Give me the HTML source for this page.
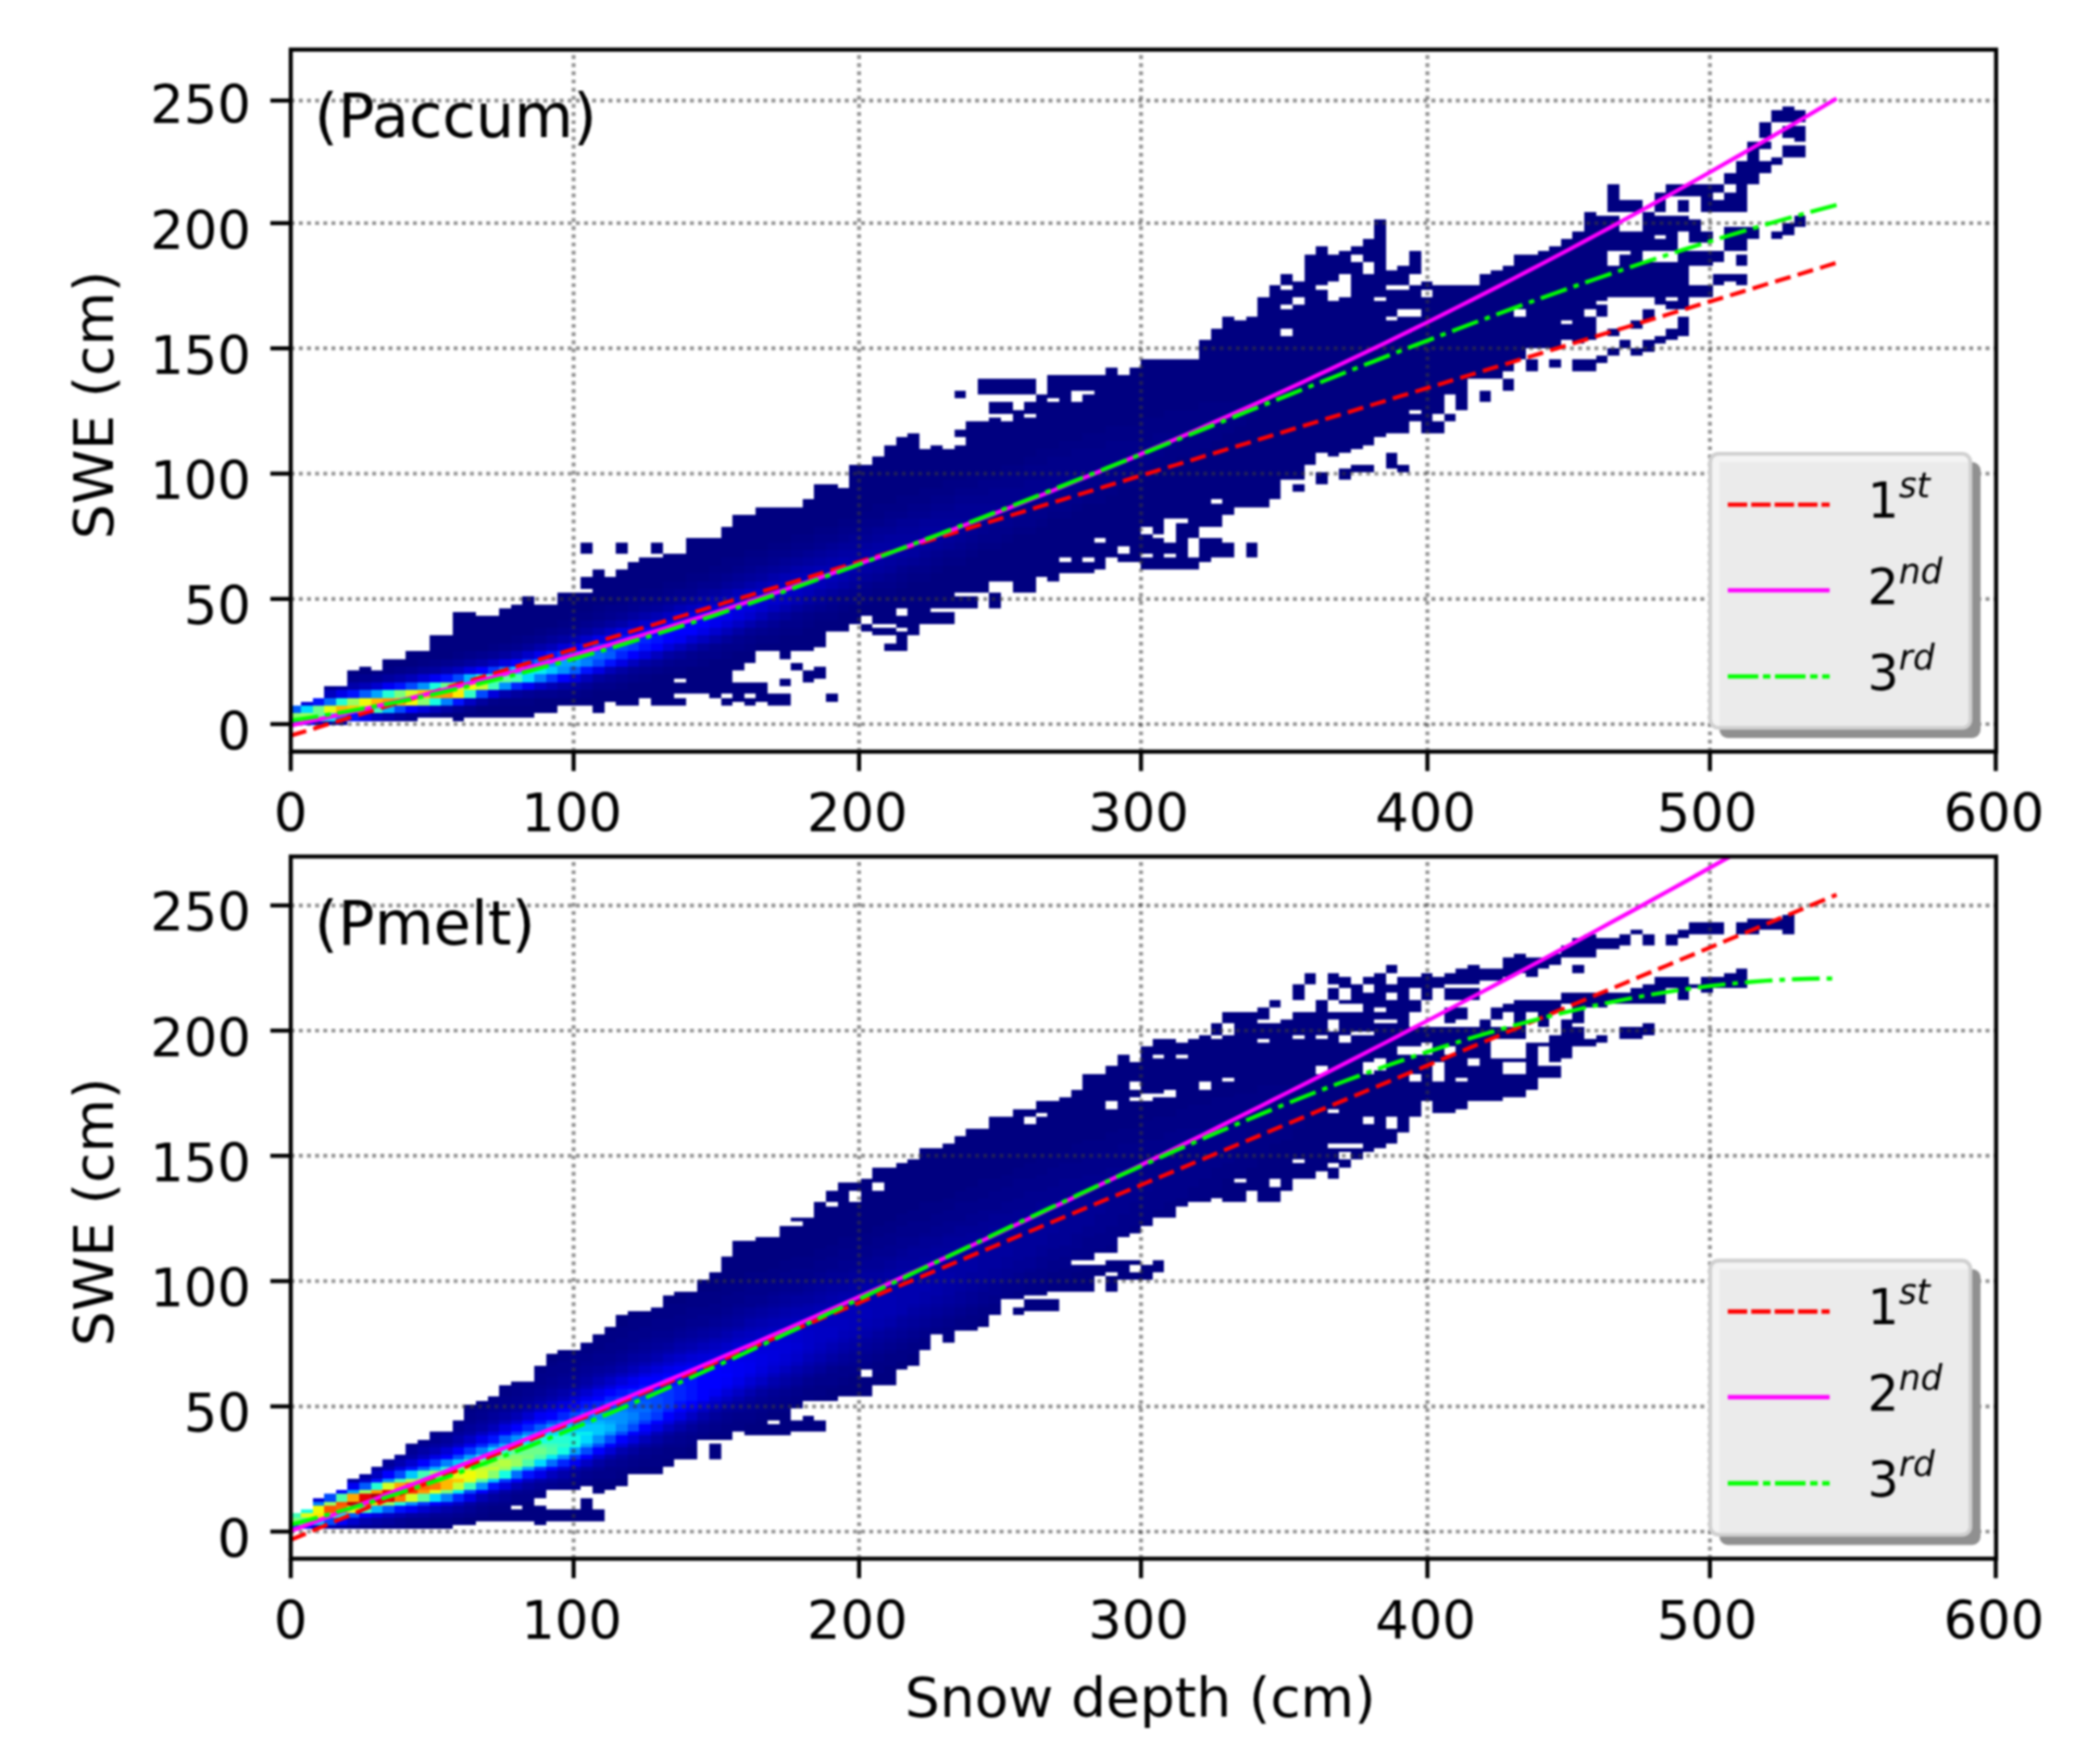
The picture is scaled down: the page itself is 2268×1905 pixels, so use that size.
<!DOCTYPE html>
<html lang="en"><head><meta charset="utf-8"><title>SWE vs snow depth</title>
<style>html,body{margin:0;padding:0;background:#fff}body{width:2268px;height:1905px;overflow:hidden}</style></head>
<body>
<svg width="2268" height="1905" viewBox="0 0 2268 1905" style="display:block;filter:blur(1px)">
<rect width="2268" height="1905" fill="#fff"/>
<defs>
<clipPath id="cp0"><rect x="314.0" y="53.6" width="1841.8" height="758.1"/></clipPath>
<clipPath id="cp1"><rect x="314.0" y="925.0" width="1841.8" height="758.3"/></clipPath>
</defs>
<g font-family="DejaVu Sans, Liberation Sans, sans-serif" fill="#000">
<g clip-path="url(#cp0)" shape-rendering="crispEdges">
<path fill="#000080" d="M314.0 761.95h11.0v21.00h-11.0zM325.0 757.75h12.6v25.20h-12.6zM337.6 753.55h12.6v29.40h-12.6zM350.2 740.95h12.6v42.00h-12.6zM362.8 740.95h12.6v42.00h-12.6zM375.4 724.15h12.6v54.60h-12.6zM388.0 719.95h12.6v58.80h-12.6zM400.6 724.15h12.6v54.60h-12.6zM413.2 711.55h12.6v67.20h-12.6zM425.8 711.55h12.6v67.20h-12.6zM438.4 703.15h12.6v75.60h-12.6zM451.0 703.15h12.6v71.40h-12.6zM463.6 686.35h12.6v88.20h-12.6zM476.2 686.35h12.6v88.20h-12.6zM488.8 661.15h12.6v117.60h-12.6zM501.4 661.15h12.6v113.40h-12.6zM514.0 665.35h12.6v109.20h-12.6zM526.6 665.35h12.6v109.20h-12.6zM539.2 656.95h12.6v117.60h-12.6zM551.8 652.75h12.6v121.80h-12.6zM564.4 644.35h12.6v130.20h-12.6zM577.0 652.75h12.6v117.60h-12.6zM589.6 652.75h12.6v117.60h-12.6zM602.2 640.15h12.6v121.80h-12.6zM614.8 640.15h12.6v121.80h-12.6zM627.4 585.55h12.6v12.60h-12.6zM627.4 623.35h12.6v12.60h-12.6zM627.4 640.15h12.6v121.80h-12.6zM640.0 614.95h12.6v155.40h-12.6zM652.6 623.35h12.6v134.40h-12.6zM665.2 585.55h12.6v12.60h-12.6zM665.2 614.95h12.6v147.00h-12.6zM677.8 606.55h12.6v155.40h-12.6zM690.4 602.35h12.6v151.20h-12.6zM703.0 585.55h12.6v12.60h-12.6zM703.0 602.35h12.6v159.60h-12.6zM715.6 598.15h12.6v163.80h-12.6zM728.2 598.15h12.6v134.40h-12.6zM728.2 736.75h12.6v12.60h-12.6zM728.2 753.55h12.6v8.40h-12.6zM740.8 581.35h12.6v168.00h-12.6zM753.4 581.35h12.6v168.00h-12.6zM766.0 581.35h12.6v172.20h-12.6zM778.6 568.75h12.6v180.60h-12.6zM778.6 753.55h12.6v8.40h-12.6zM791.2 556.15h12.6v168.00h-12.6zM791.2 736.75h12.6v21.00h-12.6zM803.8 556.15h12.6v159.60h-12.6zM803.8 736.75h12.6v12.60h-12.6zM803.8 753.55h12.6v8.40h-12.6zM816.4 547.75h12.6v155.40h-12.6zM816.4 736.75h12.6v21.00h-12.6zM829.0 547.75h12.6v155.40h-12.6zM829.0 749.35h12.6v12.60h-12.6zM841.6 547.75h12.6v163.80h-12.6zM841.6 732.55h12.6v8.40h-12.6zM841.6 749.35h12.6v12.60h-12.6zM854.2 547.75h12.6v155.40h-12.6zM854.2 715.75h12.6v8.40h-12.6zM866.8 539.35h12.6v163.80h-12.6zM866.8 724.15h12.6v12.60h-12.6zM879.4 522.55h12.6v176.40h-12.6zM879.4 719.95h12.6v12.60h-12.6zM892.0 522.55h12.6v159.60h-12.6zM892.0 749.35h12.6v8.40h-12.6zM904.6 526.75h12.6v155.40h-12.6zM917.2 501.55h12.6v172.20h-12.6zM929.8 501.55h12.6v163.80h-12.6zM929.8 673.75h12.6v8.40h-12.6zM942.4 493.15h12.6v180.60h-12.6zM942.4 677.95h12.6v8.40h-12.6zM955.0 480.55h12.6v193.20h-12.6zM955.0 677.95h12.6v8.40h-12.6zM955.0 694.75h12.6v8.40h-12.6zM967.6 472.15h12.6v184.80h-12.6zM967.6 665.35h12.6v12.60h-12.6zM967.6 682.15h12.6v21.00h-12.6zM980.2 467.95h12.6v218.40h-12.6zM992.8 484.75h12.6v189.00h-12.6zM1005.4 480.55h12.6v176.40h-12.6zM1005.4 661.15h12.6v12.60h-12.6zM1018.0 484.75h12.6v172.20h-12.6zM1018.0 661.15h12.6v12.60h-12.6zM1030.6 421.75h12.6v8.40h-12.6zM1030.6 463.75h12.6v8.40h-12.6zM1030.6 480.55h12.6v159.60h-12.6zM1030.6 644.35h12.6v12.60h-12.6zM1043.2 455.35h12.6v184.80h-12.6zM1043.2 644.35h12.6v12.60h-12.6zM1055.8 409.15h12.6v16.80h-12.6zM1055.8 455.35h12.6v184.80h-12.6zM1068.4 409.15h12.6v16.80h-12.6zM1068.4 434.35h12.6v12.60h-12.6zM1068.4 451.15h12.6v176.40h-12.6zM1068.4 640.15h12.6v16.80h-12.6zM1081.0 409.15h12.6v16.80h-12.6zM1081.0 434.35h12.6v12.60h-12.6zM1081.0 455.35h12.6v172.20h-12.6zM1093.6 409.15h12.6v16.80h-12.6zM1093.6 442.75h12.6v197.40h-12.6zM1106.2 409.15h12.6v16.80h-12.6zM1106.2 434.35h12.6v12.60h-12.6zM1106.2 451.15h12.6v189.00h-12.6zM1118.8 425.95h12.6v197.40h-12.6zM1131.4 404.95h12.6v25.20h-12.6zM1131.4 434.35h12.6v193.20h-12.6zM1144.0 404.95h12.6v197.40h-12.6zM1144.0 606.55h12.6v12.60h-12.6zM1156.6 404.95h12.6v16.80h-12.6zM1156.6 434.35h12.6v184.80h-12.6zM1169.2 404.95h12.6v16.80h-12.6zM1169.2 425.95h12.6v176.40h-12.6zM1169.2 606.55h12.6v12.60h-12.6zM1181.8 404.95h12.6v176.40h-12.6zM1181.8 585.55h12.6v29.40h-12.6zM1194.4 396.55h12.6v205.80h-12.6zM1207.0 404.95h12.6v184.80h-12.6zM1207.0 598.15h12.6v8.40h-12.6zM1219.6 396.55h12.6v210.00h-12.6zM1232.2 388.15h12.6v180.60h-12.6zM1232.2 577.15h12.6v21.00h-12.6zM1232.2 602.35h12.6v12.60h-12.6zM1244.8 388.15h12.6v189.00h-12.6zM1244.8 581.35h12.6v33.60h-12.6zM1257.4 388.15h12.6v172.20h-12.6zM1257.4 585.55h12.6v12.60h-12.6zM1257.4 602.35h12.6v12.60h-12.6zM1270.0 388.15h12.6v172.20h-12.6zM1270.0 564.55h12.6v50.40h-12.6zM1282.6 388.15h12.6v193.20h-12.6zM1282.6 602.35h12.6v12.60h-12.6zM1295.2 367.15h12.6v201.60h-12.6zM1295.2 581.35h12.6v25.20h-12.6zM1307.8 354.55h12.6v184.80h-12.6zM1307.8 543.55h12.6v25.20h-12.6zM1307.8 581.35h12.6v21.00h-12.6zM1320.4 341.95h12.6v214.20h-12.6zM1320.4 585.55h12.6v16.80h-12.6zM1333.0 346.15h12.6v201.60h-12.6zM1345.6 341.95h12.6v205.80h-12.6zM1345.6 585.55h12.6v16.80h-12.6zM1358.2 320.95h12.6v226.80h-12.6zM1370.8 308.35h12.6v231.00h-12.6zM1383.4 295.75h12.6v12.60h-12.6zM1383.4 312.55h12.6v16.80h-12.6zM1383.4 333.55h12.6v21.00h-12.6zM1383.4 362.95h12.6v155.40h-12.6zM1396.0 304.15h12.6v16.80h-12.6zM1396.0 329.35h12.6v189.00h-12.6zM1396.0 522.55h12.6v8.40h-12.6zM1408.6 274.75h12.6v226.80h-12.6zM1421.2 266.35h12.6v42.00h-12.6zM1421.2 312.55h12.6v176.40h-12.6zM1421.2 509.95h12.6v12.60h-12.6zM1433.8 274.75h12.6v29.40h-12.6zM1433.8 325.15h12.6v168.00h-12.6zM1446.4 270.55h12.6v25.20h-12.6zM1446.4 320.95h12.6v168.00h-12.6zM1446.4 505.75h12.6v12.60h-12.6zM1459.0 266.35h12.6v8.40h-12.6zM1459.0 283.15h12.6v201.60h-12.6zM1459.0 501.55h12.6v8.40h-12.6zM1471.6 257.95h12.6v25.20h-12.6zM1471.6 295.75h12.6v184.80h-12.6zM1471.6 501.55h12.6v8.40h-12.6zM1484.2 236.95h12.6v84.00h-12.6zM1484.2 325.15h12.6v147.00h-12.6zM1496.8 291.55h12.6v16.80h-12.6zM1496.8 312.55h12.6v29.40h-12.6zM1496.8 346.15h12.6v121.80h-12.6zM1496.8 488.95h12.6v16.80h-12.6zM1509.4 287.35h12.6v21.00h-12.6zM1509.4 312.55h12.6v21.00h-12.6zM1509.4 341.95h12.6v126.00h-12.6zM1509.4 501.55h12.6v8.40h-12.6zM1522.0 270.55h12.6v25.20h-12.6zM1522.0 308.35h12.6v25.20h-12.6zM1522.0 341.95h12.6v100.80h-12.6zM1522.0 446.95h12.6v8.40h-12.6zM1534.6 304.15h12.6v8.40h-12.6zM1534.6 320.95h12.6v147.00h-12.6zM1547.2 308.35h12.6v138.60h-12.6zM1547.2 455.35h12.6v12.60h-12.6zM1559.8 308.35h12.6v117.60h-12.6zM1559.8 446.95h12.6v8.40h-12.6zM1572.4 308.35h12.6v134.40h-12.6zM1585.0 308.35h12.6v100.80h-12.6zM1597.6 295.75h12.6v113.40h-12.6zM1597.6 421.75h12.6v12.60h-12.6zM1610.2 291.55h12.6v117.60h-12.6zM1622.8 287.35h12.6v113.40h-12.6zM1622.8 409.15h12.6v12.60h-12.6zM1635.4 274.75h12.6v58.80h-12.6zM1635.4 341.95h12.6v46.20h-12.6zM1648.0 274.75h12.6v100.80h-12.6zM1648.0 388.15h12.6v12.60h-12.6zM1660.6 270.55h12.6v105.00h-12.6zM1673.2 266.35h12.6v109.20h-12.6zM1673.2 388.15h12.6v8.40h-12.6zM1685.8 257.95h12.6v88.20h-12.6zM1685.8 350.35h12.6v16.80h-12.6zM1698.4 249.55h12.6v121.80h-12.6zM1698.4 388.15h12.6v12.60h-12.6zM1711.0 228.55h12.6v105.00h-12.6zM1711.0 341.95h12.6v25.20h-12.6zM1711.0 388.15h12.6v12.60h-12.6zM1723.6 232.75h12.6v92.40h-12.6zM1723.6 329.35h12.6v12.60h-12.6zM1723.6 383.95h12.6v8.40h-12.6zM1736.2 199.15h12.6v29.40h-12.6zM1736.2 232.75h12.6v37.80h-12.6zM1736.2 287.35h12.6v33.60h-12.6zM1736.2 354.55h12.6v8.40h-12.6zM1736.2 375.55h12.6v8.40h-12.6zM1748.8 215.95h12.6v12.60h-12.6zM1748.8 249.55h12.6v21.00h-12.6zM1748.8 274.75h12.6v46.20h-12.6zM1748.8 367.15h12.6v8.40h-12.6zM1761.4 215.95h12.6v12.60h-12.6zM1761.4 249.55h12.6v71.40h-12.6zM1761.4 346.15h12.6v8.40h-12.6zM1761.4 375.55h12.6v8.40h-12.6zM1774.0 228.55h12.6v42.00h-12.6zM1774.0 283.15h12.6v37.80h-12.6zM1774.0 333.55h12.6v12.60h-12.6zM1774.0 367.15h12.6v12.60h-12.6zM1786.6 207.55h12.6v21.00h-12.6zM1786.6 232.75h12.6v21.00h-12.6zM1786.6 257.95h12.6v12.60h-12.6zM1786.6 283.15h12.6v46.20h-12.6zM1786.6 362.95h12.6v8.40h-12.6zM1799.2 199.15h12.6v12.60h-12.6zM1799.2 232.75h12.6v37.80h-12.6zM1799.2 283.15h12.6v37.80h-12.6zM1799.2 325.15h12.6v8.40h-12.6zM1799.2 354.55h12.6v12.60h-12.6zM1811.8 199.15h12.6v12.60h-12.6zM1811.8 215.95h12.6v12.60h-12.6zM1811.8 232.75h12.6v16.80h-12.6zM1811.8 270.55h12.6v63.00h-12.6zM1811.8 341.95h12.6v21.00h-12.6zM1824.4 199.15h12.6v12.60h-12.6zM1824.4 236.95h12.6v25.20h-12.6zM1824.4 270.55h12.6v16.80h-12.6zM1824.4 308.35h12.6v12.60h-12.6zM1837.0 199.15h12.6v29.40h-12.6zM1837.0 249.55h12.6v12.60h-12.6zM1837.0 270.55h12.6v16.80h-12.6zM1837.0 308.35h12.6v12.60h-12.6zM1849.6 199.15h12.6v8.40h-12.6zM1849.6 215.95h12.6v12.60h-12.6zM1849.6 270.55h12.6v12.60h-12.6zM1849.6 295.75h12.6v12.60h-12.6zM1862.2 186.55h12.6v12.60h-12.6zM1862.2 207.55h12.6v21.00h-12.6zM1862.2 245.35h12.6v25.20h-12.6zM1862.2 295.75h12.6v8.40h-12.6zM1874.8 173.95h12.6v54.60h-12.6zM1874.8 245.35h12.6v25.20h-12.6zM1874.8 274.75h12.6v12.60h-12.6zM1874.8 295.75h12.6v12.60h-12.6zM1887.4 152.95h12.6v46.20h-12.6zM1887.4 245.35h12.6v12.60h-12.6zM1900.0 131.95h12.6v16.80h-12.6zM1900.0 152.95h12.6v8.40h-12.6zM1900.0 173.95h12.6v12.60h-12.6zM1912.6 119.35h12.6v12.60h-12.6zM1912.6 169.75h12.6v8.40h-12.6zM1912.6 249.55h12.6v8.40h-12.6zM1925.2 115.15h12.6v16.80h-12.6zM1925.2 136.15h12.6v12.60h-12.6zM1925.2 157.15h12.6v12.60h-12.6zM1925.2 241.15h12.6v12.60h-12.6zM1937.8 119.35h12.6v12.60h-12.6zM1937.8 136.15h12.6v16.80h-12.6zM1937.8 157.15h12.6v12.60h-12.6zM1937.8 232.75h12.6v12.60h-12.6z"/>
<path fill="#000085" d="M400.6 724.15h12.6v4.20h-12.6zM413.2 719.95h12.6v8.40h-12.6zM451.0 711.55h12.6v8.40h-12.6zM463.6 770.35h12.6v4.20h-12.6zM488.8 703.15h12.6v8.40h-12.6zM526.6 694.75h12.6v8.40h-12.6zM539.2 753.55h12.6v8.40h-12.6zM551.8 686.35h12.6v8.40h-12.6zM551.8 753.55h12.6v8.40h-12.6zM564.4 753.55h12.6v8.40h-12.6zM577.0 677.95h12.6v8.40h-12.6zM602.2 669.55h12.6v8.40h-12.6zM614.8 661.15h12.6v8.40h-12.6zM627.4 661.15h12.6v8.40h-12.6zM627.4 745.15h12.6v8.40h-12.6zM640.0 652.75h12.6v8.40h-12.6zM665.2 644.35h12.6v8.40h-12.6zM665.2 736.75h12.6v8.40h-12.6zM690.4 635.95h12.6v8.40h-12.6zM690.4 728.35h12.6v8.40h-12.6zM703.0 635.95h12.6v8.40h-12.6zM715.6 627.55h12.6v8.40h-12.6zM715.6 719.95h12.6v8.40h-12.6zM728.2 627.55h12.6v8.40h-12.6zM728.2 719.95h12.6v8.40h-12.6zM740.8 619.15h12.6v8.40h-12.6zM753.4 619.15h12.6v8.40h-12.6zM753.4 711.55h12.6v8.40h-12.6zM766.0 610.75h12.6v8.40h-12.6zM778.6 602.35h12.6v8.40h-12.6zM778.6 610.75h12.6v8.40h-12.6zM778.6 703.15h12.6v8.40h-12.6zM791.2 602.35h12.6v8.40h-12.6zM803.8 593.95h12.6v8.40h-12.6zM803.8 694.75h12.6v8.40h-12.6zM816.4 593.95h12.6v8.40h-12.6zM816.4 686.35h12.6v8.40h-12.6zM829.0 585.55h12.6v8.40h-12.6zM829.0 686.35h12.6v8.40h-12.6zM841.6 585.55h12.6v8.40h-12.6zM841.6 677.95h12.6v8.40h-12.6zM854.2 577.15h12.6v8.40h-12.6zM854.2 677.95h12.6v8.40h-12.6zM866.8 577.15h12.6v8.40h-12.6zM866.8 669.55h12.6v8.40h-12.6zM879.4 568.75h12.6v8.40h-12.6zM879.4 661.15h12.6v8.40h-12.6zM892.0 568.75h12.6v8.40h-12.6zM892.0 661.15h12.6v8.40h-12.6zM904.6 560.35h12.6v8.40h-12.6zM904.6 652.75h12.6v8.40h-12.6zM917.2 560.35h12.6v8.40h-12.6zM929.8 551.95h12.6v8.40h-12.6zM929.8 644.35h12.6v8.40h-12.6zM942.4 543.55h12.6v8.40h-12.6zM942.4 551.95h12.6v8.40h-12.6zM942.4 635.95h12.6v8.40h-12.6zM955.0 543.55h12.6v8.40h-12.6zM955.0 635.95h12.6v8.40h-12.6zM967.6 535.15h12.6v8.40h-12.6zM967.6 543.55h12.6v8.40h-12.6zM967.6 627.55h12.6v8.40h-12.6zM980.2 535.15h12.6v8.40h-12.6zM980.2 619.15h12.6v8.40h-12.6zM992.8 526.75h12.6v8.40h-12.6zM992.8 535.15h12.6v8.40h-12.6zM992.8 619.15h12.6v8.40h-12.6zM1005.4 526.75h12.6v8.40h-12.6zM1005.4 610.75h12.6v8.40h-12.6zM1018.0 518.35h12.6v8.40h-12.6zM1018.0 526.75h12.6v8.40h-12.6zM1018.0 602.35h12.6v8.40h-12.6zM1030.6 518.35h12.6v8.40h-12.6zM1030.6 602.35h12.6v8.40h-12.6zM1043.2 509.95h12.6v8.40h-12.6zM1043.2 518.35h12.6v8.40h-12.6zM1043.2 593.95h12.6v8.40h-12.6zM1055.8 509.95h12.6v8.40h-12.6zM1055.8 585.55h12.6v8.40h-12.6zM1068.4 509.95h12.6v8.40h-12.6zM1068.4 585.55h12.6v8.40h-12.6zM1081.0 501.55h12.6v8.40h-12.6zM1081.0 577.15h12.6v8.40h-12.6zM1093.6 501.55h12.6v8.40h-12.6zM1093.6 568.75h12.6v8.40h-12.6zM1106.2 493.15h12.6v8.40h-12.6zM1106.2 568.75h12.6v8.40h-12.6zM1118.8 484.75h12.6v8.40h-12.6zM1118.8 493.15h12.6v8.40h-12.6zM1118.8 560.35h12.6v8.40h-12.6zM1131.4 484.75h12.6v8.40h-12.6zM1131.4 551.95h12.6v8.40h-12.6zM1144.0 476.35h12.6v8.40h-12.6zM1144.0 484.75h12.6v8.40h-12.6zM1144.0 551.95h12.6v8.40h-12.6zM1156.6 476.35h12.6v8.40h-12.6zM1156.6 543.55h12.6v8.40h-12.6zM1169.2 467.95h12.6v8.40h-12.6zM1169.2 476.35h12.6v8.40h-12.6zM1169.2 535.15h12.6v8.40h-12.6zM1181.8 467.95h12.6v8.40h-12.6zM1181.8 476.35h12.6v8.40h-12.6zM1181.8 526.75h12.6v8.40h-12.6zM1181.8 535.15h12.6v8.40h-12.6zM1194.4 459.55h12.6v8.40h-12.6zM1194.4 467.95h12.6v8.40h-12.6zM1194.4 526.75h12.6v8.40h-12.6zM1207.0 459.55h12.6v8.40h-12.6zM1207.0 467.95h12.6v8.40h-12.6zM1207.0 518.35h12.6v8.40h-12.6zM1219.6 459.55h12.6v8.40h-12.6zM1219.6 467.95h12.6v8.40h-12.6zM1219.6 509.95h12.6v8.40h-12.6zM1219.6 518.35h12.6v8.40h-12.6zM1232.2 451.15h12.6v8.40h-12.6zM1232.2 459.55h12.6v8.40h-12.6zM1232.2 467.95h12.6v8.40h-12.6zM1232.2 501.55h12.6v8.40h-12.6zM1232.2 509.95h12.6v8.40h-12.6zM1244.8 451.15h12.6v8.40h-12.6zM1244.8 459.55h12.6v8.40h-12.6zM1244.8 493.15h12.6v8.40h-12.6zM1244.8 501.55h12.6v8.40h-12.6zM1257.4 442.75h12.6v8.40h-12.6zM1257.4 451.15h12.6v8.40h-12.6zM1257.4 459.55h12.6v8.40h-12.6zM1257.4 484.75h12.6v8.40h-12.6zM1257.4 493.15h12.6v8.40h-12.6zM1270.0 442.75h12.6v8.40h-12.6zM1270.0 451.15h12.6v8.40h-12.6zM1270.0 459.55h12.6v8.40h-12.6zM1270.0 467.95h12.6v8.40h-12.6zM1270.0 476.35h12.6v8.40h-12.6zM1270.0 484.75h12.6v8.40h-12.6zM1282.6 442.75h12.6v8.40h-12.6zM1282.6 451.15h12.6v8.40h-12.6zM1282.6 459.55h12.6v8.40h-12.6zM1282.6 467.95h12.6v8.40h-12.6zM1282.6 476.35h12.6v8.40h-12.6zM1282.6 484.75h12.6v8.40h-12.6zM1295.2 434.35h12.6v8.40h-12.6zM1295.2 442.75h12.6v8.40h-12.6zM1295.2 451.15h12.6v8.40h-12.6zM1295.2 459.55h12.6v8.40h-12.6zM1295.2 467.95h12.6v8.40h-12.6zM1295.2 476.35h12.6v8.40h-12.6zM1307.8 434.35h12.6v8.40h-12.6zM1307.8 442.75h12.6v8.40h-12.6zM1307.8 451.15h12.6v8.40h-12.6zM1307.8 459.55h12.6v8.40h-12.6zM1307.8 467.95h12.6v8.40h-12.6zM1320.4 434.35h12.6v8.40h-12.6zM1320.4 442.75h12.6v8.40h-12.6zM1320.4 451.15h12.6v8.40h-12.6zM1320.4 459.55h12.6v8.40h-12.6zM1333.0 434.35h12.6v8.40h-12.6zM1333.0 442.75h12.6v8.40h-12.6zM1333.0 451.15h12.6v8.40h-12.6zM1345.6 434.35h12.6v8.40h-12.6zM1345.6 442.75h12.6v8.40h-12.6z"/>
<path fill="#00008a" d="M375.4 728.35h12.6v8.40h-12.6zM425.8 719.95h12.6v8.40h-12.6zM451.0 770.35h12.6v4.20h-12.6zM463.6 711.55h12.6v8.40h-12.6zM501.4 703.15h12.6v8.40h-12.6zM501.4 761.95h12.6v8.40h-12.6zM526.6 753.55h12.6v8.40h-12.6zM539.2 694.75h12.6v8.40h-12.6zM564.4 686.35h12.6v8.40h-12.6zM589.6 677.95h12.6v8.40h-12.6zM602.2 745.15h12.6v8.40h-12.6zM614.8 669.55h12.6v8.40h-12.6zM614.8 745.15h12.6v8.40h-12.6zM640.0 661.15h12.6v8.40h-12.6zM640.0 736.75h12.6v8.40h-12.6zM652.6 652.75h12.6v8.40h-12.6zM652.6 736.75h12.6v8.40h-12.6zM665.2 652.75h12.6v8.40h-12.6zM677.8 644.35h12.6v8.40h-12.6zM677.8 728.35h12.6v8.40h-12.6zM690.4 644.35h12.6v8.40h-12.6zM703.0 719.95h12.6v8.40h-12.6zM715.6 635.95h12.6v8.40h-12.6zM728.2 711.55h12.6v8.40h-12.6zM740.8 627.55h12.6v8.40h-12.6zM740.8 711.55h12.6v8.40h-12.6zM753.4 703.15h12.6v8.40h-12.6zM766.0 619.15h12.6v8.40h-12.6zM766.0 703.15h12.6v8.40h-12.6zM778.6 694.75h12.6v8.40h-12.6zM791.2 610.75h12.6v8.40h-12.6zM791.2 694.75h12.6v8.40h-12.6zM803.8 602.35h12.6v8.40h-12.6zM803.8 686.35h12.6v8.40h-12.6zM816.4 602.35h12.6v8.40h-12.6zM829.0 593.95h12.6v8.40h-12.6zM829.0 677.95h12.6v8.40h-12.6zM841.6 593.95h12.6v8.40h-12.6zM841.6 669.55h12.6v8.40h-12.6zM854.2 585.55h12.6v8.40h-12.6zM854.2 669.55h12.6v8.40h-12.6zM866.8 585.55h12.6v8.40h-12.6zM866.8 661.15h12.6v8.40h-12.6zM879.4 577.15h12.6v8.40h-12.6zM892.0 577.15h12.6v8.40h-12.6zM892.0 652.75h12.6v8.40h-12.6zM904.6 568.75h12.6v8.40h-12.6zM904.6 644.35h12.6v8.40h-12.6zM917.2 568.75h12.6v8.40h-12.6zM917.2 644.35h12.6v8.40h-12.6zM929.8 560.35h12.6v8.40h-12.6zM929.8 635.95h12.6v8.40h-12.6zM942.4 560.35h12.6v8.40h-12.6zM942.4 627.55h12.6v8.40h-12.6zM955.0 551.95h12.6v8.40h-12.6zM955.0 627.55h12.6v8.40h-12.6zM967.6 551.95h12.6v8.40h-12.6zM967.6 619.15h12.6v8.40h-12.6zM980.2 543.55h12.6v8.40h-12.6zM980.2 610.75h12.6v8.40h-12.6zM992.8 543.55h12.6v8.40h-12.6zM992.8 610.75h12.6v8.40h-12.6zM1005.4 535.15h12.6v8.40h-12.6zM1005.4 602.35h12.6v8.40h-12.6zM1018.0 535.15h12.6v8.40h-12.6zM1018.0 593.95h12.6v8.40h-12.6zM1030.6 526.75h12.6v8.40h-12.6zM1030.6 593.95h12.6v8.40h-12.6zM1043.2 526.75h12.6v8.40h-12.6zM1043.2 585.55h12.6v8.40h-12.6zM1055.8 518.35h12.6v8.40h-12.6zM1055.8 526.75h12.6v8.40h-12.6zM1055.8 577.15h12.6v8.40h-12.6zM1068.4 518.35h12.6v8.40h-12.6zM1068.4 568.75h12.6v8.40h-12.6zM1068.4 577.15h12.6v8.40h-12.6zM1081.0 509.95h12.6v8.40h-12.6zM1081.0 518.35h12.6v8.40h-12.6zM1081.0 568.75h12.6v8.40h-12.6zM1093.6 509.95h12.6v8.40h-12.6zM1093.6 518.35h12.6v8.40h-12.6zM1093.6 560.35h12.6v8.40h-12.6zM1106.2 501.55h12.6v8.40h-12.6zM1106.2 509.95h12.6v8.40h-12.6zM1106.2 551.95h12.6v8.40h-12.6zM1106.2 560.35h12.6v8.40h-12.6zM1118.8 501.55h12.6v8.40h-12.6zM1118.8 509.95h12.6v8.40h-12.6zM1118.8 543.55h12.6v8.40h-12.6zM1118.8 551.95h12.6v8.40h-12.6zM1131.4 493.15h12.6v8.40h-12.6zM1131.4 501.55h12.6v8.40h-12.6zM1131.4 543.55h12.6v8.40h-12.6zM1144.0 493.15h12.6v8.40h-12.6zM1144.0 501.55h12.6v8.40h-12.6zM1144.0 535.15h12.6v8.40h-12.6zM1144.0 543.55h12.6v8.40h-12.6zM1156.6 484.75h12.6v8.40h-12.6zM1156.6 493.15h12.6v8.40h-12.6zM1156.6 501.55h12.6v8.40h-12.6zM1156.6 526.75h12.6v8.40h-12.6zM1156.6 535.15h12.6v8.40h-12.6zM1169.2 484.75h12.6v8.40h-12.6zM1169.2 493.15h12.6v8.40h-12.6zM1169.2 501.55h12.6v8.40h-12.6zM1169.2 509.95h12.6v8.40h-12.6zM1169.2 518.35h12.6v8.40h-12.6zM1169.2 526.75h12.6v8.40h-12.6zM1181.8 484.75h12.6v8.40h-12.6zM1181.8 493.15h12.6v8.40h-12.6zM1181.8 501.55h12.6v8.40h-12.6zM1181.8 509.95h12.6v8.40h-12.6zM1181.8 518.35h12.6v8.40h-12.6zM1194.4 476.35h12.6v8.40h-12.6zM1194.4 484.75h12.6v8.40h-12.6zM1194.4 493.15h12.6v8.40h-12.6zM1194.4 501.55h12.6v8.40h-12.6zM1194.4 509.95h12.6v8.40h-12.6zM1194.4 518.35h12.6v8.40h-12.6zM1207.0 476.35h12.6v8.40h-12.6zM1207.0 484.75h12.6v8.40h-12.6zM1207.0 493.15h12.6v8.40h-12.6zM1207.0 501.55h12.6v8.40h-12.6zM1207.0 509.95h12.6v8.40h-12.6zM1219.6 476.35h12.6v8.40h-12.6zM1219.6 484.75h12.6v8.40h-12.6zM1219.6 493.15h12.6v8.40h-12.6zM1219.6 501.55h12.6v8.40h-12.6zM1232.2 476.35h12.6v8.40h-12.6zM1232.2 484.75h12.6v8.40h-12.6zM1232.2 493.15h12.6v8.40h-12.6zM1244.8 467.95h12.6v8.40h-12.6zM1244.8 476.35h12.6v8.40h-12.6zM1244.8 484.75h12.6v8.40h-12.6zM1257.4 467.95h12.6v8.40h-12.6zM1257.4 476.35h12.6v8.40h-12.6z"/>
<path fill="#00008f" d="M350.2 740.95h12.6v4.20h-12.6zM388.0 728.35h12.6v8.40h-12.6zM438.4 719.95h12.6v8.40h-12.6zM438.4 770.35h12.6v8.40h-12.6zM476.2 711.55h12.6v8.40h-12.6zM514.0 703.15h12.6v8.40h-12.6zM551.8 694.75h12.6v8.40h-12.6zM577.0 686.35h12.6v8.40h-12.6zM577.0 745.15h12.6v8.40h-12.6zM589.6 745.15h12.6v8.40h-12.6zM602.2 677.95h12.6v8.40h-12.6zM627.4 669.55h12.6v8.40h-12.6zM652.6 661.15h12.6v8.40h-12.6zM665.2 728.35h12.6v8.40h-12.6zM677.8 652.75h12.6v8.40h-12.6zM690.4 719.95h12.6v8.40h-12.6zM703.0 644.35h12.6v8.40h-12.6zM715.6 711.55h12.6v8.40h-12.6zM728.2 635.95h12.6v8.40h-12.6zM740.8 635.95h12.6v8.40h-12.6zM740.8 703.15h12.6v8.40h-12.6zM753.4 627.55h12.6v8.40h-12.6zM766.0 627.55h12.6v8.40h-12.6zM766.0 694.75h12.6v8.40h-12.6zM778.6 619.15h12.6v8.40h-12.6zM791.2 686.35h12.6v8.40h-12.6zM803.8 610.75h12.6v8.40h-12.6zM816.4 677.95h12.6v8.40h-12.6zM829.0 602.35h12.6v8.40h-12.6zM854.2 593.95h12.6v8.40h-12.6zM854.2 661.15h12.6v8.40h-12.6zM879.4 585.55h12.6v8.40h-12.6zM879.4 652.75h12.6v8.40h-12.6zM892.0 644.35h12.6v8.40h-12.6zM904.6 577.15h12.6v8.40h-12.6zM917.2 635.95h12.6v8.40h-12.6zM929.8 568.75h12.6v8.40h-12.6zM929.8 627.55h12.6v8.40h-12.6zM955.0 560.35h12.6v8.40h-12.6zM955.0 619.15h12.6v8.40h-12.6zM967.6 610.75h12.6v8.40h-12.6zM980.2 551.95h12.6v8.40h-12.6zM992.8 551.95h12.6v8.40h-12.6zM992.8 602.35h12.6v8.40h-12.6zM1005.4 543.55h12.6v8.40h-12.6zM1005.4 593.95h12.6v8.40h-12.6zM1018.0 543.55h12.6v8.40h-12.6zM1030.6 535.15h12.6v8.40h-12.6zM1030.6 585.55h12.6v8.40h-12.6zM1043.2 535.15h12.6v8.40h-12.6zM1043.2 577.15h12.6v8.40h-12.6zM1055.8 535.15h12.6v8.40h-12.6zM1055.8 568.75h12.6v8.40h-12.6zM1068.4 526.75h12.6v8.40h-12.6zM1068.4 535.15h12.6v8.40h-12.6zM1068.4 560.35h12.6v8.40h-12.6zM1081.0 526.75h12.6v8.40h-12.6zM1081.0 535.15h12.6v8.40h-12.6zM1081.0 543.55h12.6v8.40h-12.6zM1081.0 551.95h12.6v8.40h-12.6zM1081.0 560.35h12.6v8.40h-12.6zM1093.6 526.75h12.6v8.40h-12.6zM1093.6 535.15h12.6v8.40h-12.6zM1093.6 543.55h12.6v8.40h-12.6zM1093.6 551.95h12.6v8.40h-12.6zM1106.2 518.35h12.6v8.40h-12.6zM1106.2 526.75h12.6v8.40h-12.6zM1106.2 535.15h12.6v8.40h-12.6zM1106.2 543.55h12.6v8.40h-12.6zM1118.8 518.35h12.6v8.40h-12.6zM1118.8 526.75h12.6v8.40h-12.6zM1118.8 535.15h12.6v8.40h-12.6zM1131.4 509.95h12.6v8.40h-12.6zM1131.4 518.35h12.6v8.40h-12.6zM1131.4 526.75h12.6v8.40h-12.6zM1131.4 535.15h12.6v8.40h-12.6zM1144.0 509.95h12.6v8.40h-12.6zM1144.0 518.35h12.6v8.40h-12.6zM1144.0 526.75h12.6v8.40h-12.6zM1156.6 509.95h12.6v8.40h-12.6zM1156.6 518.35h12.6v8.40h-12.6z"/>
<path fill="#000095" d="M400.6 728.35h12.6v8.40h-12.6zM488.8 711.55h12.6v8.40h-12.6zM488.8 761.95h12.6v8.40h-12.6zM526.6 703.15h12.6v8.40h-12.6zM564.4 745.15h12.6v8.40h-12.6zM614.8 677.95h12.6v8.40h-12.6zM627.4 736.75h12.6v8.40h-12.6zM640.0 669.55h12.6v8.40h-12.6zM652.6 728.35h12.6v8.40h-12.6zM665.2 661.15h12.6v8.40h-12.6zM677.8 719.95h12.6v8.40h-12.6zM690.4 652.75h12.6v8.40h-12.6zM715.6 644.35h12.6v8.40h-12.6zM791.2 619.15h12.6v8.40h-12.6zM803.8 677.95h12.6v8.40h-12.6zM816.4 610.75h12.6v8.40h-12.6zM829.0 669.55h12.6v8.40h-12.6zM841.6 602.35h12.6v8.40h-12.6zM866.8 593.95h12.6v8.40h-12.6zM866.8 652.75h12.6v8.40h-12.6zM892.0 585.55h12.6v8.40h-12.6zM904.6 635.95h12.6v8.40h-12.6zM917.2 577.15h12.6v8.40h-12.6zM929.8 577.15h12.6v8.40h-12.6zM942.4 568.75h12.6v8.40h-12.6zM942.4 619.15h12.6v8.40h-12.6zM955.0 568.75h12.6v8.40h-12.6zM967.6 560.35h12.6v8.40h-12.6zM980.2 560.35h12.6v8.40h-12.6zM980.2 602.35h12.6v8.40h-12.6zM992.8 593.95h12.6v8.40h-12.6zM1005.4 551.95h12.6v8.40h-12.6zM1018.0 551.95h12.6v8.40h-12.6zM1018.0 585.55h12.6v8.40h-12.6zM1030.6 543.55h12.6v8.40h-12.6zM1030.6 551.95h12.6v8.40h-12.6zM1030.6 577.15h12.6v8.40h-12.6zM1043.2 543.55h12.6v8.40h-12.6zM1043.2 551.95h12.6v8.40h-12.6zM1043.2 568.75h12.6v8.40h-12.6zM1055.8 543.55h12.6v8.40h-12.6zM1055.8 551.95h12.6v8.40h-12.6zM1055.8 560.35h12.6v8.40h-12.6zM1068.4 543.55h12.6v8.40h-12.6zM1068.4 551.95h12.6v8.40h-12.6z"/>
<path fill="#00009a" d="M362.8 740.95h12.6v4.20h-12.6zM425.8 770.35h12.6v8.40h-12.6zM451.0 719.95h12.6v8.40h-12.6zM564.4 694.75h12.6v8.40h-12.6zM589.6 686.35h12.6v8.40h-12.6zM703.0 652.75h12.6v8.40h-12.6zM703.0 711.55h12.6v8.40h-12.6zM728.2 644.35h12.6v8.40h-12.6zM728.2 703.15h12.6v8.40h-12.6zM753.4 635.95h12.6v8.40h-12.6zM753.4 694.75h12.6v8.40h-12.6zM778.6 627.55h12.6v8.40h-12.6zM778.6 686.35h12.6v8.40h-12.6zM803.8 619.15h12.6v8.40h-12.6zM829.0 610.75h12.6v8.40h-12.6zM841.6 661.15h12.6v8.40h-12.6zM854.2 602.35h12.6v8.40h-12.6zM879.4 593.95h12.6v8.40h-12.6zM879.4 644.35h12.6v8.40h-12.6zM904.6 585.55h12.6v8.40h-12.6zM917.2 585.55h12.6v8.40h-12.6zM917.2 627.55h12.6v8.40h-12.6zM929.8 619.15h12.6v8.40h-12.6zM942.4 577.15h12.6v8.40h-12.6zM955.0 610.75h12.6v8.40h-12.6zM967.6 568.75h12.6v8.40h-12.6zM967.6 602.35h12.6v8.40h-12.6zM980.2 568.75h12.6v8.40h-12.6zM992.8 560.35h12.6v8.40h-12.6zM1005.4 560.35h12.6v8.40h-12.6zM1005.4 585.55h12.6v8.40h-12.6zM1018.0 560.35h12.6v8.40h-12.6zM1018.0 568.75h12.6v8.40h-12.6zM1018.0 577.15h12.6v8.40h-12.6zM1030.6 560.35h12.6v8.40h-12.6zM1030.6 568.75h12.6v8.40h-12.6zM1043.2 560.35h12.6v8.40h-12.6z"/>
<path fill="#00009f" d="M362.8 778.75h12.6v4.20h-12.6zM413.2 728.35h12.6v8.40h-12.6zM463.6 719.95h12.6v8.40h-12.6zM501.4 711.55h12.6v8.40h-12.6zM514.0 753.55h12.6v8.40h-12.6zM539.2 703.15h12.6v8.40h-12.6zM551.8 745.15h12.6v8.40h-12.6zM614.8 736.75h12.6v8.40h-12.6zM627.4 677.95h12.6v8.40h-12.6zM640.0 728.35h12.6v8.40h-12.6zM652.6 669.55h12.6v8.40h-12.6zM677.8 661.15h12.6v8.40h-12.6zM766.0 635.95h12.6v8.40h-12.6zM791.2 627.55h12.6v8.40h-12.6zM816.4 619.15h12.6v8.40h-12.6zM816.4 669.55h12.6v8.40h-12.6zM841.6 610.75h12.6v8.40h-12.6zM854.2 652.75h12.6v8.40h-12.6zM866.8 602.35h12.6v8.40h-12.6zM892.0 593.95h12.6v8.40h-12.6zM892.0 635.95h12.6v8.40h-12.6zM929.8 585.55h12.6v8.40h-12.6zM942.4 610.75h12.6v8.40h-12.6zM955.0 577.15h12.6v8.40h-12.6zM955.0 602.35h12.6v8.40h-12.6zM967.6 577.15h12.6v8.40h-12.6zM980.2 577.15h12.6v8.40h-12.6zM980.2 585.55h12.6v8.40h-12.6zM980.2 593.95h12.6v8.40h-12.6zM992.8 568.75h12.6v8.40h-12.6zM992.8 577.15h12.6v8.40h-12.6zM992.8 585.55h12.6v8.40h-12.6zM1005.4 568.75h12.6v8.40h-12.6zM1005.4 577.15h12.6v8.40h-12.6z"/>
<path fill="#0000a4" d="M476.2 761.95h12.6v8.40h-12.6zM602.2 686.35h12.6v8.40h-12.6zM602.2 736.75h12.6v8.40h-12.6zM665.2 719.95h12.6v8.40h-12.6zM690.4 711.55h12.6v8.40h-12.6zM715.6 652.75h12.6v8.40h-12.6zM715.6 703.15h12.6v8.40h-12.6zM740.8 644.35h12.6v8.40h-12.6zM791.2 677.95h12.6v8.40h-12.6zM829.0 661.15h12.6v8.40h-12.6zM866.8 644.35h12.6v8.40h-12.6zM879.4 602.35h12.6v8.40h-12.6zM904.6 593.95h12.6v8.40h-12.6zM904.6 627.55h12.6v8.40h-12.6zM917.2 593.95h12.6v8.40h-12.6zM917.2 619.15h12.6v8.40h-12.6zM929.8 610.75h12.6v8.40h-12.6zM942.4 585.55h12.6v8.40h-12.6zM942.4 602.35h12.6v8.40h-12.6zM955.0 585.55h12.6v8.40h-12.6zM955.0 593.95h12.6v8.40h-12.6zM967.6 585.55h12.6v8.40h-12.6zM967.6 593.95h12.6v8.40h-12.6z"/>
<path fill="#0000aa" d="M375.4 736.75h12.6v8.40h-12.6zM413.2 770.35h12.6v8.40h-12.6zM425.8 728.35h12.6v8.40h-12.6zM514.0 711.55h12.6v8.40h-12.6zM577.0 694.75h12.6v8.40h-12.6zM665.2 669.55h12.6v8.40h-12.6zM690.4 661.15h12.6v8.40h-12.6zM740.8 694.75h12.6v8.40h-12.6zM766.0 686.35h12.6v8.40h-12.6zM778.6 635.95h12.6v8.40h-12.6zM803.8 627.55h12.6v8.40h-12.6zM829.0 619.15h12.6v8.40h-12.6zM854.2 610.75h12.6v8.40h-12.6zM879.4 635.95h12.6v8.40h-12.6zM892.0 602.35h12.6v8.40h-12.6zM917.2 602.35h12.6v8.40h-12.6zM929.8 593.95h12.6v8.40h-12.6zM929.8 602.35h12.6v8.40h-12.6zM942.4 593.95h12.6v8.40h-12.6z"/>
<path fill="#0000af" d="M476.2 719.95h12.6v8.40h-12.6zM539.2 745.15h12.6v8.40h-12.6zM551.8 703.15h12.6v8.40h-12.6zM640.0 677.95h12.6v8.40h-12.6zM753.4 644.35h12.6v8.40h-12.6zM803.8 669.55h12.6v8.40h-12.6zM841.6 652.75h12.6v8.40h-12.6zM866.8 610.75h12.6v8.40h-12.6zM892.0 627.55h12.6v8.40h-12.6zM904.6 602.35h12.6v8.40h-12.6zM904.6 619.15h12.6v8.40h-12.6zM917.2 610.75h12.6v8.40h-12.6z"/>
<path fill="#0000b4" d="M350.2 778.75h12.6v4.20h-12.6zM589.6 736.75h12.6v8.40h-12.6zM614.8 686.35h12.6v8.40h-12.6zM703.0 661.15h12.6v8.40h-12.6zM728.2 652.75h12.6v8.40h-12.6zM816.4 627.55h12.6v8.40h-12.6zM841.6 619.15h12.6v8.40h-12.6zM854.2 644.35h12.6v8.40h-12.6zM879.4 610.75h12.6v8.40h-12.6zM892.0 610.75h12.6v8.40h-12.6zM904.6 610.75h12.6v8.40h-12.6z"/>
<path fill="#0000b9" d="M388.0 736.75h12.6v8.40h-12.6zM438.4 728.35h12.6v8.40h-12.6zM463.6 761.95h12.6v8.40h-12.6zM589.6 694.75h12.6v8.40h-12.6zM627.4 728.35h12.6v8.40h-12.6zM652.6 719.95h12.6v8.40h-12.6zM766.0 644.35h12.6v8.40h-12.6zM778.6 677.95h12.6v8.40h-12.6zM791.2 635.95h12.6v8.40h-12.6zM816.4 661.15h12.6v8.40h-12.6zM854.2 619.15h12.6v8.40h-12.6zM866.8 635.95h12.6v8.40h-12.6zM879.4 619.15h12.6v8.40h-12.6zM879.4 627.55h12.6v8.40h-12.6zM892.0 619.15h12.6v8.40h-12.6z"/>
<path fill="#0000bf" d="M350.2 745.15h12.6v8.40h-12.6zM400.6 770.35h12.6v8.40h-12.6zM488.8 719.95h12.6v8.40h-12.6zM526.6 711.55h12.6v8.40h-12.6zM677.8 669.55h12.6v8.40h-12.6zM677.8 711.55h12.6v8.40h-12.6zM703.0 703.15h12.6v8.40h-12.6zM728.2 694.75h12.6v8.40h-12.6zM740.8 652.75h12.6v8.40h-12.6zM753.4 686.35h12.6v8.40h-12.6zM829.0 627.55h12.6v8.40h-12.6zM829.0 652.75h12.6v8.40h-12.6zM866.8 619.15h12.6v8.40h-12.6z"/>
<path fill="#0000c4" d="M501.4 753.55h12.6v8.40h-12.6zM652.6 677.95h12.6v8.40h-12.6zM715.6 661.15h12.6v8.40h-12.6zM791.2 669.55h12.6v8.40h-12.6zM803.8 635.95h12.6v8.40h-12.6zM841.6 627.55h12.6v8.40h-12.6zM841.6 644.35h12.6v8.40h-12.6zM854.2 627.55h12.6v8.40h-12.6zM854.2 635.95h12.6v8.40h-12.6zM866.8 627.55h12.6v8.40h-12.6z"/>
<path fill="#0000c9" d="M564.4 703.15h12.6v8.40h-12.6zM577.0 736.75h12.6v8.40h-12.6zM627.4 686.35h12.6v8.40h-12.6zM778.6 644.35h12.6v8.40h-12.6zM816.4 635.95h12.6v8.40h-12.6z"/>
<path fill="#0000cf" d="M400.6 736.75h12.6v8.40h-12.6zM690.4 669.55h12.6v8.40h-12.6zM753.4 652.75h12.6v8.40h-12.6zM766.0 677.95h12.6v8.40h-12.6zM803.8 661.15h12.6v8.40h-12.6zM816.4 652.75h12.6v8.40h-12.6zM829.0 635.95h12.6v8.40h-12.6zM829.0 644.35h12.6v8.40h-12.6zM841.6 635.95h12.6v8.40h-12.6z"/>
<path fill="#0000d4" d="M337.6 778.75h12.6v4.20h-12.6zM451.0 728.35h12.6v8.40h-12.6zM740.8 686.35h12.6v8.40h-12.6zM791.2 644.35h12.6v8.40h-12.6zM816.4 644.35h12.6v8.40h-12.6z"/>
<path fill="#0000d9" d="M325.0 757.75h12.6v4.20h-12.6zM451.0 761.95h12.6v8.40h-12.6zM602.2 694.75h12.6v8.40h-12.6zM715.6 694.75h12.6v8.40h-12.6zM728.2 661.15h12.6v8.40h-12.6zM766.0 652.75h12.6v8.40h-12.6zM778.6 669.55h12.6v8.40h-12.6zM803.8 644.35h12.6v8.40h-12.6z"/>
<path fill="#0000de" d="M501.4 719.95h12.6v8.40h-12.6zM526.6 745.15h12.6v8.40h-12.6zM539.2 711.55h12.6v8.40h-12.6zM614.8 728.35h12.6v8.40h-12.6zM665.2 677.95h12.6v8.40h-12.6zM690.4 703.15h12.6v8.40h-12.6zM791.2 661.15h12.6v8.40h-12.6zM803.8 652.75h12.6v8.40h-12.6z"/>
<path fill="#0000e4" d="M640.0 719.95h12.6v8.40h-12.6zM665.2 711.55h12.6v8.40h-12.6zM703.0 669.55h12.6v8.40h-12.6zM740.8 661.15h12.6v8.40h-12.6zM778.6 652.75h12.6v8.40h-12.6zM791.2 652.75h12.6v8.40h-12.6z"/>
<path fill="#0000e9" d="M362.8 745.15h12.6v8.40h-12.6zM388.0 770.35h12.6v8.40h-12.6zM640.0 686.35h12.6v8.40h-12.6zM753.4 677.95h12.6v8.40h-12.6z"/>
<path fill="#0000ee" d="M577.0 703.15h12.6v8.40h-12.6zM753.4 661.15h12.6v8.40h-12.6zM766.0 661.15h12.6v8.40h-12.6zM766.0 669.55h12.6v8.40h-12.6zM778.6 661.15h12.6v8.40h-12.6z"/>
<path fill="#0000f3" d="M413.2 736.75h12.6v8.40h-12.6zM463.6 728.35h12.6v8.40h-12.6zM564.4 736.75h12.6v8.40h-12.6zM715.6 669.55h12.6v8.40h-12.6zM728.2 686.35h12.6v8.40h-12.6z"/>
<path fill="#0000f9" d="M614.8 694.75h12.6v8.40h-12.6zM677.8 677.95h12.6v8.40h-12.6z"/>
<path fill="#0000fe" d="M703.0 694.75h12.6v8.40h-12.6zM728.2 669.55h12.6v8.40h-12.6zM753.4 669.55h12.6v8.40h-12.6z"/>
<path fill="#0000ff" d="M325.0 778.75h12.6v4.20h-12.6zM438.4 761.95h12.6v8.40h-12.6zM514.0 719.95h12.6v8.40h-12.6zM551.8 711.55h12.6v8.40h-12.6zM602.2 728.35h12.6v8.40h-12.6zM652.6 686.35h12.6v8.40h-12.6zM677.8 703.15h12.6v8.40h-12.6zM690.4 677.95h12.6v8.40h-12.6zM703.0 677.95h12.6v8.40h-12.6zM715.6 677.95h12.6v8.40h-12.6zM715.6 686.35h12.6v8.40h-12.6zM728.2 677.95h12.6v8.40h-12.6zM740.8 669.55h12.6v8.40h-12.6zM740.8 677.95h12.6v8.40h-12.6z"/>
<path fill="#0012ff" d="M337.6 753.55h12.6v8.40h-12.6zM375.4 745.15h12.6v8.40h-12.6zM375.4 770.35h12.6v8.40h-12.6zM425.8 736.75h12.6v8.40h-12.6zM476.2 728.35h12.6v8.40h-12.6zM488.8 753.55h12.6v8.40h-12.6zM589.6 703.15h12.6v8.40h-12.6zM627.4 694.75h12.6v8.40h-12.6zM627.4 719.95h12.6v8.40h-12.6zM652.6 711.55h12.6v8.40h-12.6zM665.2 686.35h12.6v8.40h-12.6zM690.4 694.75h12.6v8.40h-12.6zM703.0 686.35h12.6v8.40h-12.6z"/>
<path fill="#0024ff" d="M551.8 736.75h12.6v8.40h-12.6zM665.2 703.15h12.6v8.40h-12.6zM677.8 686.35h12.6v8.40h-12.6zM690.4 686.35h12.6v8.40h-12.6z"/>
<path fill="#0037ff" d="M526.6 719.95h12.6v8.40h-12.6zM564.4 711.55h12.6v8.40h-12.6zM589.6 728.35h12.6v8.40h-12.6zM602.2 703.15h12.6v8.40h-12.6zM640.0 694.75h12.6v8.40h-12.6zM677.8 694.75h12.6v8.40h-12.6z"/>
<path fill="#0049ff" d="M425.8 761.95h12.6v8.40h-12.6zM438.4 736.75h12.6v8.40h-12.6zM488.8 728.35h12.6v8.40h-12.6zM514.0 745.15h12.6v8.40h-12.6zM640.0 711.55h12.6v8.40h-12.6zM652.6 694.75h12.6v8.40h-12.6zM665.2 694.75h12.6v8.40h-12.6z"/>
<path fill="#005bff" d="M314.0 761.95h11.0v8.40h-11.0zM314.0 778.75h11.0v4.20h-11.0zM388.0 745.15h12.6v8.40h-12.6zM614.8 703.15h12.6v8.40h-12.6zM614.8 719.95h12.6v8.40h-12.6zM652.6 703.15h12.6v8.40h-12.6z"/>
<path fill="#006dff" d="M350.2 753.55h12.6v8.40h-12.6zM362.8 770.35h12.6v8.40h-12.6zM577.0 711.55h12.6v8.40h-12.6zM627.4 703.15h12.6v8.40h-12.6zM640.0 703.15h12.6v8.40h-12.6z"/>
<path fill="#0080ff" d="M476.2 753.55h12.6v8.40h-12.6zM539.2 719.95h12.6v8.40h-12.6zM577.0 728.35h12.6v8.40h-12.6zM627.4 711.55h12.6v8.40h-12.6z"/>
<path fill="#0092ff" d="M451.0 736.75h12.6v8.40h-12.6zM539.2 736.75h12.6v8.40h-12.6zM589.6 711.55h12.6v8.40h-12.6zM602.2 719.95h12.6v8.40h-12.6z"/>
<path fill="#00a4ff" d="M400.6 745.15h12.6v8.40h-12.6zM602.2 711.55h12.6v8.40h-12.6zM614.8 711.55h12.6v8.40h-12.6z"/>
<path fill="#00b6ff" d="M413.2 761.95h12.6v8.40h-12.6zM501.4 728.35h12.6v8.40h-12.6z"/>
<path fill="#00c8ff" d="M551.8 719.95h12.6v8.40h-12.6zM589.6 719.95h12.6v8.40h-12.6z"/>
<path fill="#00dbff" d="M325.0 761.95h12.6v8.40h-12.6zM564.4 728.35h12.6v8.40h-12.6z"/>
<path fill="#06edf1" d="M350.2 770.35h12.6v8.40h-12.6zM564.4 719.95h12.6v8.40h-12.6zM577.0 719.95h12.6v8.40h-12.6z"/>
<path fill="#15ffe2" d="M463.6 736.75h12.6v8.40h-12.6zM463.6 753.55h12.6v8.40h-12.6z"/>
<path fill="#23ffd4" d="M362.8 753.55h12.6v8.40h-12.6zM413.2 745.15h12.6v8.40h-12.6zM514.0 728.35h12.6v8.40h-12.6z"/>
<path fill="#32ffc5" d="M501.4 745.15h12.6v8.40h-12.6z"/>
<path fill="#41ffb6" d="M400.6 761.95h12.6v8.40h-12.6zM526.6 736.75h12.6v8.40h-12.6zM551.8 728.35h12.6v8.40h-12.6z"/>
<path fill="#5eff99" d="M526.6 728.35h12.6v8.40h-12.6zM539.2 728.35h12.6v8.40h-12.6z"/>
<path fill="#6dff8a" d="M337.6 761.95h12.6v8.40h-12.6zM337.6 770.35h12.6v8.40h-12.6zM476.2 736.75h12.6v8.40h-12.6z"/>
<path fill="#7bff7b" d="M425.8 745.15h12.6v8.40h-12.6z"/>
<path fill="#8aff6d" d="M314.0 770.35h11.0v8.40h-11.0zM451.0 753.55h12.6v8.40h-12.6z"/>
<path fill="#99ff5e" d="M325.0 770.35h12.6v8.40h-12.6zM375.4 753.55h12.6v8.40h-12.6z"/>
<path fill="#b6ff41" d="M388.0 761.95h12.6v8.40h-12.6zM488.8 736.75h12.6v8.40h-12.6z"/>
<path fill="#c5ff32" d="M514.0 736.75h12.6v8.40h-12.6z"/>
<path fill="#d4ff23" d="M438.4 745.15h12.6v8.40h-12.6z"/>
<path fill="#e2ff15" d="M350.2 761.95h12.6v8.40h-12.6z"/>
<path fill="#f1fc06" d="M388.0 753.55h12.6v8.40h-12.6zM438.4 753.55h12.6v8.40h-12.6zM501.4 736.75h12.6v8.40h-12.6z"/>
<path fill="#ff9700" d="M413.2 753.55h12.6v8.40h-12.6zM463.6 745.15h12.6v8.40h-12.6zM476.2 745.15h12.6v8.40h-12.6z"/>
<path fill="#ffa800" d="M425.8 753.55h12.6v8.40h-12.6z"/>
<path fill="#ffb900" d="M362.8 761.95h12.6v8.40h-12.6zM400.6 753.55h12.6v8.40h-12.6z"/>
<path fill="#ffca00" d="M375.4 761.95h12.6v8.40h-12.6zM451.0 745.15h12.6v8.40h-12.6z"/>
<path fill="#ffeb00" d="M488.8 745.15h12.6v8.40h-12.6z"/>
</g>
<g stroke="#3a3a3a" stroke-opacity="0.54" stroke-width="4.2" stroke-dasharray="4.2 4.6" fill="none">
<path d="M619.5 811.7 V53.6"/>
<path d="M927.8 811.7 V53.6"/>
<path d="M1232.3 811.7 V53.6"/>
<path d="M1541.6 811.7 V53.6"/>
<path d="M1846.7 811.7 V53.6"/>
<path d="M314.0 782.0 H2155.8"/>
<path d="M314.0 646.8 H2155.8"/>
<path d="M314.0 511.5 H2155.8"/>
<path d="M314.0 376.2 H2155.8"/>
<path d="M314.0 241.0 H2155.8"/>
<path d="M314.0 108.6 H2155.8"/>
</g>
<g clip-path="url(#cp0)" fill="none" stroke-width="4.4">
<path d="M314.0 794.4 L329.2 789.8 L344.4 785.2 L359.5 780.5 L374.7 775.9 L389.9 771.2 L405.1 766.6 L420.2 761.9 L435.4 757.3 L450.6 752.7 L465.8 748.0 L481.0 743.4 L496.1 738.7 L511.3 734.1 L526.5 729.5 L541.7 724.8 L556.8 720.2 L572.0 715.5 L587.2 710.9 L602.4 706.2 L617.6 701.6 L632.7 697.0 L647.9 692.3 L663.1 687.7 L678.3 683.0 L693.4 678.4 L708.6 673.8 L723.8 669.1 L739.0 664.5 L754.2 659.8 L769.3 655.2 L784.5 650.5 L799.7 645.9 L814.9 641.3 L830.0 636.6 L845.2 632.0 L860.4 627.3 L875.6 622.7 L890.7 618.0 L905.9 613.4 L921.1 608.8 L936.3 604.1 L951.5 599.5 L966.6 594.8 L981.8 590.2 L997.0 585.6 L1012.2 580.9 L1027.3 576.3 L1042.5 571.6 L1057.7 567.0 L1072.9 562.3 L1088.1 557.7 L1103.2 553.1 L1118.4 548.4 L1133.6 543.8 L1148.8 539.1 L1163.9 534.5 L1179.1 529.9 L1194.3 525.2 L1209.5 520.6 L1224.7 515.9 L1239.8 511.3 L1255.0 506.6 L1270.2 502.0 L1285.4 497.4 L1300.5 492.7 L1315.7 488.1 L1330.9 483.4 L1346.1 478.8 L1361.3 474.1 L1376.4 469.5 L1391.6 464.9 L1406.8 460.2 L1422.0 455.6 L1437.1 450.9 L1452.3 446.3 L1467.5 441.7 L1482.7 437.0 L1497.9 432.4 L1513.0 427.7 L1528.2 423.1 L1543.4 418.4 L1558.6 413.8 L1573.7 409.2 L1588.9 404.5 L1604.1 399.9 L1619.3 395.2 L1634.5 390.6 L1649.6 385.9 L1664.8 381.3 L1680.0 376.7 L1695.2 372.0 L1710.3 367.4 L1725.5 362.7 L1740.7 358.1 L1755.9 353.5 L1771.0 348.8 L1786.2 344.2 L1801.4 339.5 L1816.6 334.9 L1831.8 330.2 L1846.9 325.6 L1862.1 321.0 L1877.3 316.3 L1892.5 311.7 L1907.6 307.0 L1922.8 302.4 L1938.0 297.8 L1953.2 293.1 L1968.4 288.5 L1983.5 283.8" stroke="#ff0000" stroke-dasharray="17.5 7.9"/>
<path d="M314.0 783.5 L329.2 780.2 L344.4 776.9 L359.5 773.5 L374.7 770.1 L389.9 766.6 L405.1 763.1 L420.2 759.5 L435.4 755.9 L450.6 752.2 L465.8 748.4 L481.0 744.6 L496.1 740.8 L511.3 736.9 L526.5 732.9 L541.7 728.9 L556.8 724.8 L572.0 720.7 L587.2 716.5 L602.4 712.3 L617.6 708.0 L632.7 703.7 L647.9 699.3 L663.1 694.9 L678.3 690.4 L693.4 685.9 L708.6 681.3 L723.8 676.6 L739.0 671.9 L754.2 667.2 L769.3 662.4 L784.5 657.5 L799.7 652.6 L814.9 647.6 L830.0 642.6 L845.2 637.6 L860.4 632.4 L875.6 627.3 L890.7 622.0 L905.9 616.7 L921.1 611.4 L936.3 606.0 L951.5 600.6 L966.6 595.1 L981.8 589.5 L997.0 583.9 L1012.2 578.3 L1027.3 572.6 L1042.5 566.8 L1057.7 561.0 L1072.9 555.1 L1088.1 549.2 L1103.2 543.3 L1118.4 537.2 L1133.6 531.2 L1148.8 525.0 L1163.9 518.8 L1179.1 512.6 L1194.3 506.3 L1209.5 500.0 L1224.7 493.6 L1239.8 487.1 L1255.0 480.6 L1270.2 474.1 L1285.4 467.5 L1300.5 460.8 L1315.7 454.1 L1330.9 447.3 L1346.1 440.5 L1361.3 433.7 L1376.4 426.7 L1391.6 419.8 L1406.8 412.7 L1422.0 405.6 L1437.1 398.5 L1452.3 391.3 L1467.5 384.1 L1482.7 376.8 L1497.9 369.4 L1513.0 362.0 L1528.2 354.6 L1543.4 347.1 L1558.6 339.5 L1573.7 331.9 L1588.9 324.2 L1604.1 316.5 L1619.3 308.7 L1634.5 300.9 L1649.6 293.0 L1664.8 285.1 L1680.0 277.1 L1695.2 269.1 L1710.3 261.0 L1725.5 252.9 L1740.7 244.7 L1755.9 236.4 L1771.0 228.1 L1786.2 219.8 L1801.4 211.4 L1816.6 202.9 L1831.8 194.4 L1846.9 185.8 L1862.1 177.2 L1877.3 168.5 L1892.5 159.8 L1907.6 151.0 L1922.8 142.2 L1938.0 133.3 L1953.2 124.4 L1968.4 115.4 L1983.5 106.3" stroke="#ff00ff"/>
<path d="M314.0 778.1 L329.2 775.9 L344.4 773.5 L359.5 771.0 L374.7 768.4 L389.9 765.6 L405.1 762.8 L420.2 759.8 L435.4 756.8 L450.6 753.6 L465.8 750.3 L481.0 746.9 L496.1 743.4 L511.3 739.8 L526.5 736.1 L541.7 732.3 L556.8 728.5 L572.0 724.5 L587.2 720.4 L602.4 716.3 L617.6 712.0 L632.7 707.7 L647.9 703.3 L663.1 698.8 L678.3 694.2 L693.4 689.6 L708.6 684.9 L723.8 680.1 L739.0 675.2 L754.2 670.3 L769.3 665.3 L784.5 660.2 L799.7 655.1 L814.9 649.9 L830.0 644.6 L845.2 639.3 L860.4 633.9 L875.6 628.5 L890.7 623.0 L905.9 617.5 L921.1 612.0 L936.3 606.3 L951.5 600.7 L966.6 595.0 L981.8 589.3 L997.0 583.5 L1012.2 577.7 L1027.3 571.8 L1042.5 566.0 L1057.7 560.1 L1072.9 554.1 L1088.1 548.2 L1103.2 542.2 L1118.4 536.2 L1133.6 530.1 L1148.8 524.1 L1163.9 518.0 L1179.1 512.0 L1194.3 505.9 L1209.5 499.8 L1224.7 493.7 L1239.8 487.6 L1255.0 481.5 L1270.2 475.3 L1285.4 469.2 L1300.5 463.1 L1315.7 457.0 L1330.9 450.9 L1346.1 444.8 L1361.3 438.7 L1376.4 432.6 L1391.6 426.6 L1406.8 420.5 L1422.0 414.5 L1437.1 408.5 L1452.3 402.5 L1467.5 396.5 L1482.7 390.6 L1497.9 384.6 L1513.0 378.8 L1528.2 372.9 L1543.4 367.1 L1558.6 361.3 L1573.7 355.5 L1588.9 349.8 L1604.1 344.2 L1619.3 338.5 L1634.5 332.9 L1649.6 327.4 L1664.8 321.9 L1680.0 316.5 L1695.2 311.1 L1710.3 305.8 L1725.5 300.5 L1740.7 295.3 L1755.9 290.1 L1771.0 285.0 L1786.2 280.0 L1801.4 275.0 L1816.6 270.2 L1831.8 265.3 L1846.9 260.6 L1862.1 255.9 L1877.3 251.3 L1892.5 246.8 L1907.6 242.3 L1922.8 238.0 L1938.0 233.7 L1953.2 229.5 L1968.4 225.4 L1983.5 221.4" stroke="#00ff00" stroke-dasharray="30 7.5 6 7.5"/>
</g>
<rect x="314.0" y="53.6" width="1841.8" height="758.1" fill="none" stroke="#000" stroke-width="4.4"/>
<g stroke="#000" stroke-width="4.4">
<path d="M314.0 811.7 v21"/>
<path d="M619.5 811.7 v21"/>
<path d="M927.8 811.7 v21"/>
<path d="M1232.3 811.7 v21"/>
<path d="M1541.6 811.7 v21"/>
<path d="M1846.7 811.7 v21"/>
<path d="M2155.4 811.7 v21"/>
<path d="M314.0 782.0 h-22"/>
<path d="M314.0 646.8 h-22"/>
<path d="M314.0 511.5 h-22"/>
<path d="M314.0 376.2 h-22"/>
<path d="M314.0 241.0 h-22"/>
<path d="M314.0 108.6 h-22"/>
</g>
<g font-size="57">
<text x="314.0" y="898.2" text-anchor="middle">0</text>
<text x="617.5" y="898.2" text-anchor="middle">100</text>
<text x="925.8" y="898.2" text-anchor="middle">200</text>
<text x="1229.7" y="898.2" text-anchor="middle">300</text>
<text x="1539.6" y="898.2" text-anchor="middle">400</text>
<text x="1843.7" y="898.2" text-anchor="middle">500</text>
<text x="2153.4" y="898.2" text-anchor="middle">600</text>
<text x="271" y="809.5" text-anchor="end">0</text>
<text x="271" y="674.2" text-anchor="end">50</text>
<text x="271" y="539.0" text-anchor="end">100</text>
<text x="271" y="403.8" text-anchor="end">150</text>
<text x="271" y="268.5" text-anchor="end">200</text>
<text x="271" y="133.2" text-anchor="end">250</text>
</g>
<text font-size="59.5" text-anchor="middle" textLength="290" transform="translate(122 437.2) rotate(-90)">SWE (cm)</text>
<text font-size="65.5" x="339.5" y="148.3">(Paccum)</text>
<g transform="translate(0 0.0)">
<rect x="1857" y="499" width="282" height="298" rx="9" fill="#909090"/>
<rect x="1847" y="490" width="281" height="296" rx="9" fill="#f4f4f4" stroke="#d0d0d0" stroke-width="4.2"/>
<path d="M1857 499 H2126 V775 a9 9 0 0 1 -9 9 H1857 Z" fill="#ebebeb"/>
<g fill="none" stroke-width="4.6">
<path d="M1866 545 H1976" stroke="#ff0000" stroke-dasharray="21 4.3"/>
<path d="M1866 637.5 H1976" stroke="#ff00ff"/>
<path d="M1866 730.5 H1976" stroke="#00ff00" stroke-dasharray="33 5 8 5"/>
</g>
<text font-size="53" x="2017" y="559.0">1<tspan font-size="37" font-style="italic" dy="-22">st</tspan></text>
<text font-size="53" x="2017" y="651.9">2<tspan font-size="37" font-style="italic" dy="-22">nd</tspan></text>
<text font-size="53" x="2017" y="744.8">3<tspan font-size="37" font-style="italic" dy="-22">rd</tspan></text>
</g>
<g clip-path="url(#cp1)" shape-rendering="crispEdges">
<path fill="#000080" d="M314.0 1634.45h11.0v16.80h-11.0zM325.0 1630.25h12.6v21.00h-12.6zM337.6 1617.65h12.6v33.60h-12.6zM350.2 1613.45h12.6v37.80h-12.6zM362.8 1609.25h12.6v42.00h-12.6zM375.4 1596.65h12.6v54.60h-12.6zM388.0 1592.45h12.6v58.80h-12.6zM400.6 1584.05h12.6v67.20h-12.6zM413.2 1575.65h12.6v75.60h-12.6zM425.8 1571.45h12.6v79.80h-12.6zM438.4 1558.85h12.6v92.40h-12.6zM451.0 1554.65h12.6v96.60h-12.6zM463.6 1546.25h12.6v105.00h-12.6zM476.2 1546.25h12.6v105.00h-12.6zM488.8 1533.65h12.6v113.40h-12.6zM501.4 1516.85h12.6v130.20h-12.6zM514.0 1512.65h12.6v130.20h-12.6zM526.6 1508.45h12.6v134.40h-12.6zM539.2 1495.85h12.6v147.00h-12.6zM551.8 1491.65h12.6v134.40h-12.6zM551.8 1630.25h12.6v12.60h-12.6zM564.4 1491.65h12.6v151.20h-12.6zM577.0 1474.85h12.6v142.80h-12.6zM577.0 1626.05h12.6v21.00h-12.6zM589.6 1462.25h12.6v147.00h-12.6zM589.6 1630.25h12.6v12.60h-12.6zM602.2 1458.05h12.6v151.20h-12.6zM602.2 1630.25h12.6v12.60h-12.6zM614.8 1458.05h12.6v151.20h-12.6zM614.8 1630.25h12.6v12.60h-12.6zM627.4 1449.65h12.6v155.40h-12.6zM627.4 1617.65h12.6v25.20h-12.6zM640.0 1441.25h12.6v172.20h-12.6zM640.0 1630.25h12.6v12.60h-12.6zM652.6 1432.85h12.6v176.40h-12.6zM665.2 1420.25h12.6v184.80h-12.6zM677.8 1416.05h12.6v176.40h-12.6zM690.4 1416.05h12.6v176.40h-12.6zM703.0 1411.85h12.6v180.60h-12.6zM715.6 1399.25h12.6v184.80h-12.6zM728.2 1395.05h12.6v180.60h-12.6zM740.8 1395.05h12.6v180.60h-12.6zM753.4 1382.45h12.6v172.20h-12.6zM766.0 1374.05h12.6v180.60h-12.6zM766.0 1558.85h12.6v16.80h-12.6zM778.6 1357.25h12.6v197.40h-12.6zM791.2 1340.45h12.6v205.80h-12.6zM803.8 1340.45h12.6v210.00h-12.6zM816.4 1336.25h12.6v214.20h-12.6zM829.0 1336.25h12.6v197.40h-12.6zM829.0 1537.85h12.6v12.60h-12.6zM841.6 1323.65h12.6v226.80h-12.6zM854.2 1315.25h12.6v4.20h-12.6zM854.2 1323.65h12.6v197.40h-12.6zM854.2 1533.65h12.6v12.60h-12.6zM866.8 1315.25h12.6v197.40h-12.6zM866.8 1529.45h12.6v16.80h-12.6zM879.4 1298.45h12.6v214.20h-12.6zM879.4 1533.65h12.6v12.60h-12.6zM892.0 1285.85h12.6v12.60h-12.6zM892.0 1302.65h12.6v210.00h-12.6zM904.6 1277.45h12.6v231.00h-12.6zM917.2 1277.45h12.6v8.40h-12.6zM917.2 1298.45h12.6v210.00h-12.6zM929.8 1273.25h12.6v205.80h-12.6zM929.8 1487.45h12.6v21.00h-12.6zM942.4 1260.65h12.6v16.80h-12.6zM942.4 1285.85h12.6v210.00h-12.6zM955.0 1260.65h12.6v235.20h-12.6zM967.6 1256.45h12.6v222.60h-12.6zM980.2 1252.25h12.6v222.60h-12.6zM992.8 1239.65h12.6v218.40h-12.6zM1005.4 1239.65h12.6v201.60h-12.6zM1018.0 1235.45h12.6v214.20h-12.6zM1030.6 1227.05h12.6v210.00h-12.6zM1043.2 1218.65h12.6v218.40h-12.6zM1055.8 1218.65h12.6v214.20h-12.6zM1068.4 1206.05h12.6v214.20h-12.6zM1081.0 1206.05h12.6v197.40h-12.6zM1093.6 1197.65h12.6v205.80h-12.6zM1093.6 1411.85h12.6v8.40h-12.6zM1106.2 1197.65h12.6v8.40h-12.6zM1106.2 1214.45h12.6v184.80h-12.6zM1106.2 1403.45h12.6v12.60h-12.6zM1118.8 1189.25h12.6v12.60h-12.6zM1118.8 1206.05h12.6v193.20h-12.6zM1118.8 1403.45h12.6v12.60h-12.6zM1131.4 1189.25h12.6v205.80h-12.6zM1131.4 1403.45h12.6v12.60h-12.6zM1144.0 1185.05h12.6v210.00h-12.6zM1156.6 1176.65h12.6v184.80h-12.6zM1156.6 1365.65h12.6v29.40h-12.6zM1169.2 1159.85h12.6v201.60h-12.6zM1169.2 1365.65h12.6v29.40h-12.6zM1181.8 1159.85h12.6v193.20h-12.6zM1181.8 1365.65h12.6v12.60h-12.6zM1194.4 1151.45h12.6v37.80h-12.6zM1194.4 1197.65h12.6v155.40h-12.6zM1194.4 1361.45h12.6v12.60h-12.6zM1194.4 1378.25h12.6v16.80h-12.6zM1207.0 1138.85h12.6v197.40h-12.6zM1207.0 1361.45h12.6v21.00h-12.6zM1219.6 1147.25h12.6v21.00h-12.6zM1219.6 1176.65h12.6v8.40h-12.6zM1219.6 1189.25h12.6v142.80h-12.6zM1219.6 1361.45h12.6v4.20h-12.6zM1219.6 1374.05h12.6v8.40h-12.6zM1232.2 1130.45h12.6v50.40h-12.6zM1232.2 1189.25h12.6v134.40h-12.6zM1232.2 1365.65h12.6v16.80h-12.6zM1244.8 1122.05h12.6v16.80h-12.6zM1244.8 1143.05h12.6v37.80h-12.6zM1244.8 1185.05h12.6v130.20h-12.6zM1244.8 1361.45h12.6v12.60h-12.6zM1257.4 1122.05h12.6v54.60h-12.6zM1257.4 1185.05h12.6v130.20h-12.6zM1270.0 1126.25h12.6v12.60h-12.6zM1270.0 1143.05h12.6v159.60h-12.6zM1282.6 1122.05h12.6v176.40h-12.6zM1295.2 1117.85h12.6v50.40h-12.6zM1295.2 1176.65h12.6v121.80h-12.6zM1307.8 1105.25h12.6v12.60h-12.6zM1307.8 1122.05h12.6v172.20h-12.6zM1320.4 1092.65h12.6v12.60h-12.6zM1320.4 1117.85h12.6v46.20h-12.6zM1320.4 1168.25h12.6v130.20h-12.6zM1333.0 1092.65h12.6v180.60h-12.6zM1333.0 1277.45h12.6v21.00h-12.6zM1345.6 1092.65h12.6v193.20h-12.6zM1358.2 1088.45h12.6v12.60h-12.6zM1358.2 1105.25h12.6v16.80h-12.6zM1358.2 1126.25h12.6v172.20h-12.6zM1370.8 1080.05h12.6v8.40h-12.6zM1370.8 1105.25h12.6v168.00h-12.6zM1370.8 1281.65h12.6v16.80h-12.6zM1383.4 1101.05h12.6v184.80h-12.6zM1396.0 1063.25h12.6v16.80h-12.6zM1396.0 1092.65h12.6v25.20h-12.6zM1396.0 1122.05h12.6v130.20h-12.6zM1396.0 1256.45h12.6v16.80h-12.6zM1408.6 1050.65h12.6v12.60h-12.6zM1408.6 1092.65h12.6v180.60h-12.6zM1421.2 1080.05h12.6v37.80h-12.6zM1421.2 1122.05h12.6v29.40h-12.6zM1421.2 1159.85h12.6v105.00h-12.6zM1433.8 1050.65h12.6v12.60h-12.6zM1433.8 1067.45h12.6v12.60h-12.6zM1433.8 1092.65h12.6v8.40h-12.6zM1433.8 1113.65h12.6v84.00h-12.6zM1433.8 1201.85h12.6v33.60h-12.6zM1433.8 1239.65h12.6v16.80h-12.6zM1433.8 1260.65h12.6v12.60h-12.6zM1446.4 1054.85h12.6v12.60h-12.6zM1446.4 1080.05h12.6v4.20h-12.6zM1446.4 1092.65h12.6v25.20h-12.6zM1446.4 1126.25h12.6v109.20h-12.6zM1446.4 1239.65h12.6v4.20h-12.6zM1446.4 1252.25h12.6v8.40h-12.6zM1459.0 1063.25h12.6v21.00h-12.6zM1459.0 1092.65h12.6v21.00h-12.6zM1459.0 1117.85h12.6v117.60h-12.6zM1459.0 1239.65h12.6v12.60h-12.6zM1471.6 1054.85h12.6v8.40h-12.6zM1471.6 1071.65h12.6v42.00h-12.6zM1471.6 1117.85h12.6v29.40h-12.6zM1471.6 1159.85h12.6v46.20h-12.6zM1471.6 1214.45h12.6v29.40h-12.6zM1484.2 1050.65h12.6v37.80h-12.6zM1484.2 1092.65h12.6v8.40h-12.6zM1484.2 1105.25h12.6v37.80h-12.6zM1484.2 1155.65h12.6v84.00h-12.6zM1496.8 1042.25h12.6v8.40h-12.6zM1496.8 1063.25h12.6v8.40h-12.6zM1496.8 1080.05h12.6v21.00h-12.6zM1496.8 1105.25h12.6v100.80h-12.6zM1496.8 1218.65h12.6v16.80h-12.6zM1509.4 1054.85h12.6v75.60h-12.6zM1509.4 1138.85h12.6v84.00h-12.6zM1522.0 1054.85h12.6v12.60h-12.6zM1522.0 1080.05h12.6v12.60h-12.6zM1522.0 1109.45h12.6v21.00h-12.6zM1522.0 1138.85h12.6v21.00h-12.6zM1522.0 1168.25h12.6v37.80h-12.6zM1534.6 1050.65h12.6v29.40h-12.6zM1534.6 1109.45h12.6v16.80h-12.6zM1534.6 1138.85h12.6v50.40h-12.6zM1547.2 1054.85h12.6v12.60h-12.6zM1547.2 1109.45h12.6v37.80h-12.6zM1547.2 1168.25h12.6v33.60h-12.6zM1559.8 1050.65h12.6v12.60h-12.6zM1559.8 1067.45h12.6v12.60h-12.6zM1559.8 1088.45h12.6v16.80h-12.6zM1559.8 1109.45h12.6v21.00h-12.6zM1559.8 1138.85h12.6v63.00h-12.6zM1572.4 1046.45h12.6v16.80h-12.6zM1572.4 1067.45h12.6v12.60h-12.6zM1572.4 1088.45h12.6v12.60h-12.6zM1572.4 1109.45h12.6v54.60h-12.6zM1572.4 1168.25h12.6v29.40h-12.6zM1585.0 1042.25h12.6v21.00h-12.6zM1585.0 1067.45h12.6v12.60h-12.6zM1585.0 1109.45h12.6v33.60h-12.6zM1585.0 1151.45h12.6v37.80h-12.6zM1597.6 1046.45h12.6v12.60h-12.6zM1597.6 1101.05h12.6v88.20h-12.6zM1610.2 1046.45h12.6v12.60h-12.6zM1610.2 1088.45h12.6v12.60h-12.6zM1610.2 1109.45h12.6v12.60h-12.6zM1610.2 1143.05h12.6v46.20h-12.6zM1622.8 1033.85h12.6v21.00h-12.6zM1622.8 1084.25h12.6v8.40h-12.6zM1622.8 1109.45h12.6v12.60h-12.6zM1622.8 1143.05h12.6v4.20h-12.6zM1622.8 1159.85h12.6v25.20h-12.6zM1635.4 1029.65h12.6v21.00h-12.6zM1635.4 1080.05h12.6v42.00h-12.6zM1635.4 1143.05h12.6v4.20h-12.6zM1635.4 1159.85h12.6v25.20h-12.6zM1648.0 1033.85h12.6v21.00h-12.6zM1648.0 1080.05h12.6v12.60h-12.6zM1648.0 1126.25h12.6v50.40h-12.6zM1660.6 1033.85h12.6v12.60h-12.6zM1660.6 1080.05h12.6v29.40h-12.6zM1660.6 1126.25h12.6v4.20h-12.6zM1660.6 1151.45h12.6v12.60h-12.6zM1673.2 1029.65h12.6v12.60h-12.6zM1673.2 1080.05h12.6v12.60h-12.6zM1673.2 1117.85h12.6v29.40h-12.6zM1673.2 1151.45h12.6v12.60h-12.6zM1685.8 1021.25h12.6v12.60h-12.6zM1685.8 1071.65h12.6v12.60h-12.6zM1685.8 1101.05h12.6v42.00h-12.6zM1698.4 1012.85h12.6v21.00h-12.6zM1698.4 1042.25h12.6v8.40h-12.6zM1698.4 1071.65h12.6v33.60h-12.6zM1698.4 1109.45h12.6v21.00h-12.6zM1711.0 1008.65h12.6v25.20h-12.6zM1711.0 1071.65h12.6v16.80h-12.6zM1711.0 1122.05h12.6v8.40h-12.6zM1723.6 1012.85h12.6v12.60h-12.6zM1723.6 1071.65h12.6v16.80h-12.6zM1723.6 1117.85h12.6v8.40h-12.6zM1736.2 1012.85h12.6v12.60h-12.6zM1736.2 1071.65h12.6v12.60h-12.6zM1748.8 1008.65h12.6v12.60h-12.6zM1748.8 1071.65h12.6v12.60h-12.6zM1748.8 1109.45h12.6v12.60h-12.6zM1761.4 1004.45h12.6v4.20h-12.6zM1761.4 1067.45h12.6v16.80h-12.6zM1761.4 1109.45h12.6v12.60h-12.6zM1774.0 1008.65h12.6v12.60h-12.6zM1774.0 1063.25h12.6v21.00h-12.6zM1774.0 1105.25h12.6v12.60h-12.6zM1786.6 1054.85h12.6v29.40h-12.6zM1799.2 1008.65h12.6v12.60h-12.6zM1799.2 1054.85h12.6v12.60h-12.6zM1811.8 1004.45h12.6v8.40h-12.6zM1811.8 1054.85h12.6v25.20h-12.6zM1824.4 996.05h12.6v12.60h-12.6zM1824.4 1063.25h12.6v4.20h-12.6zM1837.0 996.05h12.6v12.60h-12.6zM1837.0 1054.85h12.6v16.80h-12.6zM1849.6 996.05h12.6v12.60h-12.6zM1849.6 1054.85h12.6v12.60h-12.6zM1862.2 1050.65h12.6v16.80h-12.6zM1874.8 996.05h12.6v12.60h-12.6zM1874.8 1046.45h12.6v21.00h-12.6zM1887.4 991.85h12.6v16.80h-12.6zM1900.0 991.85h12.6v12.60h-12.6zM1912.6 991.85h12.6v12.60h-12.6zM1925.2 987.65h12.6v21.00h-12.6z"/>
<path fill="#000085" d="M438.4 1647.05h12.6v4.20h-12.6zM451.0 1647.05h12.6v4.20h-12.6zM488.8 1638.65h12.6v8.40h-12.6zM501.4 1521.05h12.6v4.20h-12.6zM514.0 1512.65h12.6v8.40h-12.6zM514.0 1634.45h12.6v4.20h-12.6zM526.6 1508.45h12.6v4.20h-12.6zM526.6 1626.05h12.6v8.40h-12.6zM539.2 1495.85h12.6v4.20h-12.6zM539.2 1500.05h12.6v8.40h-12.6zM539.2 1626.05h12.6v8.40h-12.6zM551.8 1491.65h12.6v4.20h-12.6zM551.8 1621.85h12.6v4.20h-12.6zM577.0 1474.85h12.6v8.40h-12.6zM577.0 1613.45h12.6v4.20h-12.6zM589.6 1470.65h12.6v4.20h-12.6zM602.2 1462.25h12.6v8.40h-12.6zM614.8 1458.05h12.6v4.20h-12.6zM627.4 1449.65h12.6v8.40h-12.6zM627.4 1458.05h12.6v4.20h-12.6zM627.4 1600.85h12.6v4.20h-12.6zM640.0 1445.45h12.6v4.20h-12.6zM640.0 1449.65h12.6v8.40h-12.6zM640.0 1596.65h12.6v4.20h-12.6zM652.6 1437.05h12.6v8.40h-12.6zM652.6 1445.45h12.6v4.20h-12.6zM652.6 1596.65h12.6v4.20h-12.6zM665.2 1432.85h12.6v4.20h-12.6zM665.2 1437.05h12.6v8.40h-12.6zM665.2 1588.25h12.6v8.40h-12.6zM677.8 1424.45h12.6v8.40h-12.6zM677.8 1432.85h12.6v4.20h-12.6zM677.8 1584.05h12.6v4.20h-12.6zM690.4 1420.25h12.6v4.20h-12.6zM690.4 1424.45h12.6v8.40h-12.6zM690.4 1575.65h12.6v8.40h-12.6zM703.0 1411.85h12.6v8.40h-12.6zM703.0 1420.25h12.6v4.20h-12.6zM703.0 1571.45h12.6v4.20h-12.6zM703.0 1575.65h12.6v8.40h-12.6zM715.6 1407.65h12.6v4.20h-12.6zM715.6 1411.85h12.6v8.40h-12.6zM715.6 1420.25h12.6v4.20h-12.6zM715.6 1563.05h12.6v8.40h-12.6zM715.6 1571.45h12.6v4.20h-12.6zM728.2 1407.65h12.6v4.20h-12.6zM728.2 1411.85h12.6v8.40h-12.6zM728.2 1563.05h12.6v8.40h-12.6zM740.8 1399.25h12.6v8.40h-12.6zM740.8 1407.65h12.6v4.20h-12.6zM740.8 1558.85h12.6v4.20h-12.6zM753.4 1395.05h12.6v4.20h-12.6zM753.4 1399.25h12.6v8.40h-12.6zM753.4 1407.65h12.6v4.20h-12.6zM753.4 1550.45h12.6v4.20h-12.6zM766.0 1395.05h12.6v4.20h-12.6zM766.0 1399.25h12.6v8.40h-12.6zM766.0 1546.25h12.6v4.20h-12.6zM778.6 1386.65h12.6v8.40h-12.6zM778.6 1395.05h12.6v4.20h-12.6zM778.6 1537.85h12.6v8.40h-12.6zM778.6 1546.25h12.6v4.20h-12.6zM791.2 1382.45h12.6v4.20h-12.6zM791.2 1386.65h12.6v8.40h-12.6zM791.2 1533.65h12.6v4.20h-12.6zM791.2 1537.85h12.6v8.40h-12.6zM803.8 1374.05h12.6v8.40h-12.6zM803.8 1382.45h12.6v4.20h-12.6zM803.8 1533.65h12.6v4.20h-12.6zM816.4 1374.05h12.6v8.40h-12.6zM816.4 1382.45h12.6v4.20h-12.6zM816.4 1525.25h12.6v8.40h-12.6zM829.0 1369.85h12.6v4.20h-12.6zM829.0 1374.05h12.6v8.40h-12.6zM829.0 1521.05h12.6v4.20h-12.6zM841.6 1361.45h12.6v8.40h-12.6zM841.6 1369.85h12.6v4.20h-12.6zM841.6 1512.65h12.6v8.40h-12.6zM841.6 1521.05h12.6v4.20h-12.6zM854.2 1357.25h12.6v4.20h-12.6zM854.2 1361.45h12.6v8.40h-12.6zM854.2 1508.45h12.6v4.20h-12.6zM854.2 1512.65h12.6v8.40h-12.6zM866.8 1357.25h12.6v4.20h-12.6zM866.8 1361.45h12.6v8.40h-12.6zM866.8 1500.05h12.6v8.40h-12.6zM866.8 1508.45h12.6v4.20h-12.6zM879.4 1348.85h12.6v8.40h-12.6zM879.4 1357.25h12.6v4.20h-12.6zM879.4 1495.85h12.6v4.20h-12.6zM879.4 1500.05h12.6v8.40h-12.6zM892.0 1344.65h12.6v4.20h-12.6zM892.0 1348.85h12.6v8.40h-12.6zM892.0 1495.85h12.6v4.20h-12.6zM904.6 1336.25h12.6v8.40h-12.6zM904.6 1344.65h12.6v4.20h-12.6zM904.6 1487.45h12.6v8.40h-12.6zM917.2 1336.25h12.6v8.40h-12.6zM917.2 1344.65h12.6v4.20h-12.6zM917.2 1483.25h12.6v4.20h-12.6zM929.8 1332.05h12.6v4.20h-12.6zM929.8 1336.25h12.6v8.40h-12.6zM929.8 1474.85h12.6v4.20h-12.6zM942.4 1323.65h12.6v8.40h-12.6zM942.4 1332.05h12.6v4.20h-12.6zM942.4 1470.65h12.6v4.20h-12.6zM942.4 1474.85h12.6v8.40h-12.6zM955.0 1319.45h12.6v4.20h-12.6zM955.0 1323.65h12.6v8.40h-12.6zM955.0 1462.25h12.6v8.40h-12.6zM955.0 1470.65h12.6v4.20h-12.6zM967.6 1311.05h12.6v8.40h-12.6zM967.6 1319.45h12.6v4.20h-12.6zM967.6 1458.05h12.6v4.20h-12.6zM967.6 1462.25h12.6v8.40h-12.6zM980.2 1306.85h12.6v4.20h-12.6zM980.2 1311.05h12.6v8.40h-12.6zM980.2 1449.65h12.6v8.40h-12.6zM980.2 1458.05h12.6v4.20h-12.6zM992.8 1298.45h12.6v8.40h-12.6zM992.8 1306.85h12.6v4.20h-12.6zM992.8 1311.05h12.6v8.40h-12.6zM992.8 1445.45h12.6v4.20h-12.6zM992.8 1449.65h12.6v8.40h-12.6zM1005.4 1298.45h12.6v8.40h-12.6zM1005.4 1306.85h12.6v4.20h-12.6zM1005.4 1437.05h12.6v4.20h-12.6zM1018.0 1294.25h12.6v4.20h-12.6zM1018.0 1298.45h12.6v8.40h-12.6zM1018.0 1432.85h12.6v4.20h-12.6zM1018.0 1437.05h12.6v8.40h-12.6zM1030.6 1285.85h12.6v8.40h-12.6zM1030.6 1294.25h12.6v4.20h-12.6zM1030.6 1424.45h12.6v8.40h-12.6zM1030.6 1432.85h12.6v4.20h-12.6zM1043.2 1281.65h12.6v4.20h-12.6zM1043.2 1285.85h12.6v8.40h-12.6zM1043.2 1294.25h12.6v4.20h-12.6zM1043.2 1420.25h12.6v4.20h-12.6zM1043.2 1424.45h12.6v8.40h-12.6zM1055.8 1273.25h12.6v8.40h-12.6zM1055.8 1281.65h12.6v4.20h-12.6zM1055.8 1285.85h12.6v8.40h-12.6zM1055.8 1411.85h12.6v8.40h-12.6zM1055.8 1420.25h12.6v4.20h-12.6zM1068.4 1273.25h12.6v8.40h-12.6zM1068.4 1281.65h12.6v4.20h-12.6zM1068.4 1407.65h12.6v4.20h-12.6zM1068.4 1411.85h12.6v8.40h-12.6zM1081.0 1269.05h12.6v4.20h-12.6zM1081.0 1273.25h12.6v8.40h-12.6zM1081.0 1399.25h12.6v4.20h-12.6zM1093.6 1260.65h12.6v8.40h-12.6zM1093.6 1269.05h12.6v4.20h-12.6zM1093.6 1395.05h12.6v4.20h-12.6zM1093.6 1399.25h12.6v4.20h-12.6zM1106.2 1256.45h12.6v4.20h-12.6zM1106.2 1260.65h12.6v8.40h-12.6zM1106.2 1269.05h12.6v4.20h-12.6zM1106.2 1386.65h12.6v8.40h-12.6zM1106.2 1395.05h12.6v4.20h-12.6zM1118.8 1248.05h12.6v8.40h-12.6zM1118.8 1256.45h12.6v4.20h-12.6zM1118.8 1260.65h12.6v8.40h-12.6zM1118.8 1382.45h12.6v4.20h-12.6zM1118.8 1386.65h12.6v8.40h-12.6zM1131.4 1248.05h12.6v8.40h-12.6zM1131.4 1256.45h12.6v4.20h-12.6zM1131.4 1374.05h12.6v8.40h-12.6zM1131.4 1382.45h12.6v4.20h-12.6zM1144.0 1243.85h12.6v4.20h-12.6zM1144.0 1248.05h12.6v8.40h-12.6zM1144.0 1369.85h12.6v4.20h-12.6zM1144.0 1374.05h12.6v8.40h-12.6zM1156.6 1235.45h12.6v8.40h-12.6zM1156.6 1243.85h12.6v4.20h-12.6zM1156.6 1248.05h12.6v8.40h-12.6zM1156.6 1365.65h12.6v4.20h-12.6zM1156.6 1369.85h12.6v4.20h-12.6zM1169.2 1231.25h12.6v4.20h-12.6zM1169.2 1235.45h12.6v8.40h-12.6zM1169.2 1243.85h12.6v4.20h-12.6zM1169.2 1357.25h12.6v4.20h-12.6zM1169.2 1365.65h12.6v4.20h-12.6zM1181.8 1231.25h12.6v4.20h-12.6zM1181.8 1235.45h12.6v8.40h-12.6zM1181.8 1348.85h12.6v4.20h-12.6zM1194.4 1222.85h12.6v8.40h-12.6zM1194.4 1231.25h12.6v4.20h-12.6zM1194.4 1235.45h12.6v8.40h-12.6zM1194.4 1344.65h12.6v4.20h-12.6zM1194.4 1348.85h12.6v4.20h-12.6zM1207.0 1218.65h12.6v4.20h-12.6zM1207.0 1222.85h12.6v8.40h-12.6zM1207.0 1231.25h12.6v4.20h-12.6zM1207.0 1332.05h12.6v4.20h-12.6zM1219.6 1218.65h12.6v4.20h-12.6zM1219.6 1222.85h12.6v8.40h-12.6zM1219.6 1231.25h12.6v4.20h-12.6zM1219.6 1323.65h12.6v8.40h-12.6zM1232.2 1210.25h12.6v8.40h-12.6zM1232.2 1218.65h12.6v4.20h-12.6zM1232.2 1222.85h12.6v8.40h-12.6zM1232.2 1319.45h12.6v4.20h-12.6zM1244.8 1206.05h12.6v4.20h-12.6zM1244.8 1210.25h12.6v8.40h-12.6zM1244.8 1218.65h12.6v4.20h-12.6zM1244.8 1222.85h12.6v8.40h-12.6zM1244.8 1306.85h12.6v4.20h-12.6zM1244.8 1311.05h12.6v4.20h-12.6zM1257.4 1206.05h12.6v4.20h-12.6zM1257.4 1210.25h12.6v8.40h-12.6zM1257.4 1218.65h12.6v4.20h-12.6zM1257.4 1298.45h12.6v8.40h-12.6zM1257.4 1306.85h12.6v4.20h-12.6zM1257.4 1311.05h12.6v4.20h-12.6zM1270.0 1197.65h12.6v8.40h-12.6zM1270.0 1206.05h12.6v4.20h-12.6zM1270.0 1210.25h12.6v8.40h-12.6zM1270.0 1294.25h12.6v4.20h-12.6zM1270.0 1298.45h12.6v4.20h-12.6zM1282.6 1193.45h12.6v4.20h-12.6zM1282.6 1197.65h12.6v8.40h-12.6zM1282.6 1206.05h12.6v4.20h-12.6zM1282.6 1210.25h12.6v8.40h-12.6zM1282.6 1281.65h12.6v4.20h-12.6zM1282.6 1285.85h12.6v8.40h-12.6zM1282.6 1294.25h12.6v4.20h-12.6zM1295.2 1193.45h12.6v4.20h-12.6zM1295.2 1197.65h12.6v8.40h-12.6zM1295.2 1206.05h12.6v4.20h-12.6zM1295.2 1210.25h12.6v8.40h-12.6zM1295.2 1273.25h12.6v8.40h-12.6zM1295.2 1281.65h12.6v4.20h-12.6zM1295.2 1285.85h12.6v8.40h-12.6zM1307.8 1185.05h12.6v8.40h-12.6zM1307.8 1193.45h12.6v4.20h-12.6zM1307.8 1197.65h12.6v8.40h-12.6zM1307.8 1206.05h12.6v4.20h-12.6zM1307.8 1260.65h12.6v8.40h-12.6zM1307.8 1269.05h12.6v4.20h-12.6zM1307.8 1273.25h12.6v8.40h-12.6zM1307.8 1281.65h12.6v4.20h-12.6zM1320.4 1185.05h12.6v8.40h-12.6zM1320.4 1193.45h12.6v4.20h-12.6zM1320.4 1197.65h12.6v8.40h-12.6zM1320.4 1206.05h12.6v4.20h-12.6zM1320.4 1256.45h12.6v4.20h-12.6zM1320.4 1260.65h12.6v8.40h-12.6zM1320.4 1269.05h12.6v4.20h-12.6zM1333.0 1180.85h12.6v4.20h-12.6zM1333.0 1185.05h12.6v8.40h-12.6zM1333.0 1193.45h12.6v4.20h-12.6zM1333.0 1197.65h12.6v8.40h-12.6zM1333.0 1206.05h12.6v4.20h-12.6zM1333.0 1210.25h12.6v8.40h-12.6zM1333.0 1243.85h12.6v4.20h-12.6zM1333.0 1248.05h12.6v8.40h-12.6zM1333.0 1256.45h12.6v4.20h-12.6zM1333.0 1260.65h12.6v8.40h-12.6zM1345.6 1180.85h12.6v4.20h-12.6zM1345.6 1185.05h12.6v8.40h-12.6zM1345.6 1193.45h12.6v4.20h-12.6zM1345.6 1197.65h12.6v8.40h-12.6zM1345.6 1206.05h12.6v4.20h-12.6zM1345.6 1210.25h12.6v8.40h-12.6zM1345.6 1218.65h12.6v4.20h-12.6zM1345.6 1222.85h12.6v8.40h-12.6zM1345.6 1231.25h12.6v4.20h-12.6zM1345.6 1235.45h12.6v8.40h-12.6zM1345.6 1243.85h12.6v4.20h-12.6zM1345.6 1248.05h12.6v8.40h-12.6zM1345.6 1256.45h12.6v4.20h-12.6zM1358.2 1172.45h12.6v8.40h-12.6zM1358.2 1180.85h12.6v4.20h-12.6zM1358.2 1185.05h12.6v8.40h-12.6zM1358.2 1193.45h12.6v4.20h-12.6zM1358.2 1197.65h12.6v8.40h-12.6zM1358.2 1206.05h12.6v4.20h-12.6zM1358.2 1210.25h12.6v8.40h-12.6zM1358.2 1218.65h12.6v4.20h-12.6zM1358.2 1222.85h12.6v8.40h-12.6zM1358.2 1231.25h12.6v4.20h-12.6zM1358.2 1235.45h12.6v8.40h-12.6zM1358.2 1243.85h12.6v4.20h-12.6zM1370.8 1172.45h12.6v8.40h-12.6zM1370.8 1180.85h12.6v4.20h-12.6zM1370.8 1185.05h12.6v8.40h-12.6zM1370.8 1193.45h12.6v4.20h-12.6zM1370.8 1197.65h12.6v8.40h-12.6zM1370.8 1206.05h12.6v4.20h-12.6zM1370.8 1210.25h12.6v8.40h-12.6zM1370.8 1218.65h12.6v4.20h-12.6zM1370.8 1222.85h12.6v8.40h-12.6zM1370.8 1231.25h12.6v4.20h-12.6zM1383.4 1172.45h12.6v8.40h-12.6zM1383.4 1180.85h12.6v4.20h-12.6zM1383.4 1185.05h12.6v8.40h-12.6zM1383.4 1193.45h12.6v4.20h-12.6zM1383.4 1197.65h12.6v8.40h-12.6zM1383.4 1206.05h12.6v4.20h-12.6zM1383.4 1210.25h12.6v8.40h-12.6zM1383.4 1218.65h12.6v4.20h-12.6zM1383.4 1222.85h12.6v8.40h-12.6zM1396.0 1172.45h12.6v8.40h-12.6zM1396.0 1180.85h12.6v4.20h-12.6zM1396.0 1185.05h12.6v8.40h-12.6zM1396.0 1193.45h12.6v4.20h-12.6zM1396.0 1197.65h12.6v8.40h-12.6zM1396.0 1206.05h12.6v4.20h-12.6zM1396.0 1210.25h12.6v8.40h-12.6zM1408.6 1180.85h12.6v4.20h-12.6zM1408.6 1185.05h12.6v8.40h-12.6zM1408.6 1193.45h12.6v4.20h-12.6z"/>
<path fill="#00008a" d="M413.2 1647.05h12.6v4.20h-12.6zM425.8 1647.05h12.6v4.20h-12.6zM438.4 1558.85h12.6v4.20h-12.6zM451.0 1554.65h12.6v4.20h-12.6zM463.6 1546.25h12.6v4.20h-12.6zM463.6 1638.65h12.6v8.40h-12.6zM476.2 1638.65h12.6v8.40h-12.6zM488.8 1533.65h12.6v4.20h-12.6zM501.4 1525.25h12.6v8.40h-12.6zM501.4 1634.45h12.6v4.20h-12.6zM514.0 1521.05h12.6v4.20h-12.6zM514.0 1626.05h12.6v8.40h-12.6zM526.6 1512.65h12.6v8.40h-12.6zM539.2 1508.45h12.6v4.20h-12.6zM539.2 1621.85h12.6v4.20h-12.6zM551.8 1495.85h12.6v4.20h-12.6zM551.8 1500.05h12.6v8.40h-12.6zM551.8 1613.45h12.6v8.40h-12.6zM564.4 1491.65h12.6v4.20h-12.6zM564.4 1495.85h12.6v4.20h-12.6zM564.4 1613.45h12.6v8.40h-12.6zM577.0 1483.25h12.6v4.20h-12.6zM577.0 1487.45h12.6v8.40h-12.6zM577.0 1609.25h12.6v4.20h-12.6zM589.6 1474.85h12.6v8.40h-12.6zM589.6 1483.25h12.6v4.20h-12.6zM602.2 1470.65h12.6v4.20h-12.6zM602.2 1474.85h12.6v8.40h-12.6zM602.2 1600.85h12.6v8.40h-12.6zM614.8 1462.25h12.6v8.40h-12.6zM614.8 1470.65h12.6v4.20h-12.6zM614.8 1600.85h12.6v8.40h-12.6zM627.4 1462.25h12.6v8.40h-12.6zM627.4 1596.65h12.6v4.20h-12.6zM640.0 1458.05h12.6v4.20h-12.6zM640.0 1588.25h12.6v8.40h-12.6zM652.6 1449.65h12.6v8.40h-12.6zM652.6 1458.05h12.6v4.20h-12.6zM652.6 1584.05h12.6v4.20h-12.6zM652.6 1588.25h12.6v8.40h-12.6zM665.2 1445.45h12.6v4.20h-12.6zM665.2 1449.65h12.6v8.40h-12.6zM665.2 1584.05h12.6v4.20h-12.6zM677.8 1437.05h12.6v8.40h-12.6zM677.8 1445.45h12.6v4.20h-12.6zM677.8 1575.65h12.6v8.40h-12.6zM690.4 1432.85h12.6v4.20h-12.6zM690.4 1437.05h12.6v8.40h-12.6zM690.4 1571.45h12.6v4.20h-12.6zM703.0 1424.45h12.6v8.40h-12.6zM703.0 1432.85h12.6v4.20h-12.6zM703.0 1563.05h12.6v8.40h-12.6zM715.6 1424.45h12.6v8.40h-12.6zM715.6 1432.85h12.6v4.20h-12.6zM715.6 1558.85h12.6v4.20h-12.6zM728.2 1420.25h12.6v4.20h-12.6zM728.2 1424.45h12.6v8.40h-12.6zM728.2 1558.85h12.6v4.20h-12.6zM740.8 1411.85h12.6v8.40h-12.6zM740.8 1420.25h12.6v4.20h-12.6zM740.8 1550.45h12.6v8.40h-12.6zM753.4 1411.85h12.6v8.40h-12.6zM753.4 1546.25h12.6v4.20h-12.6zM766.0 1407.65h12.6v4.20h-12.6zM766.0 1411.85h12.6v8.40h-12.6zM766.0 1537.85h12.6v8.40h-12.6zM778.6 1399.25h12.6v8.40h-12.6zM778.6 1407.65h12.6v4.20h-12.6zM778.6 1533.65h12.6v4.20h-12.6zM791.2 1395.05h12.6v4.20h-12.6zM791.2 1399.25h12.6v8.40h-12.6zM791.2 1525.25h12.6v8.40h-12.6zM803.8 1386.65h12.6v8.40h-12.6zM803.8 1395.05h12.6v4.20h-12.6zM803.8 1525.25h12.6v8.40h-12.6zM816.4 1386.65h12.6v8.40h-12.6zM816.4 1395.05h12.6v4.20h-12.6zM816.4 1521.05h12.6v4.20h-12.6zM829.0 1382.45h12.6v4.20h-12.6zM829.0 1386.65h12.6v8.40h-12.6zM829.0 1512.65h12.6v8.40h-12.6zM841.6 1374.05h12.6v8.40h-12.6zM841.6 1382.45h12.6v4.20h-12.6zM841.6 1508.45h12.6v4.20h-12.6zM854.2 1369.85h12.6v4.20h-12.6zM854.2 1374.05h12.6v8.40h-12.6zM854.2 1500.05h12.6v8.40h-12.6zM866.8 1369.85h12.6v4.20h-12.6zM866.8 1374.05h12.6v8.40h-12.6zM866.8 1495.85h12.6v4.20h-12.6zM879.4 1361.45h12.6v8.40h-12.6zM879.4 1369.85h12.6v4.20h-12.6zM879.4 1487.45h12.6v8.40h-12.6zM892.0 1357.25h12.6v4.20h-12.6zM892.0 1361.45h12.6v8.40h-12.6zM892.0 1483.25h12.6v4.20h-12.6zM892.0 1487.45h12.6v8.40h-12.6zM904.6 1348.85h12.6v8.40h-12.6zM904.6 1357.25h12.6v4.20h-12.6zM904.6 1474.85h12.6v8.40h-12.6zM904.6 1483.25h12.6v4.20h-12.6zM917.2 1348.85h12.6v8.40h-12.6zM917.2 1357.25h12.6v4.20h-12.6zM917.2 1474.85h12.6v8.40h-12.6zM929.8 1344.65h12.6v4.20h-12.6zM929.8 1348.85h12.6v8.40h-12.6zM929.8 1470.65h12.6v4.20h-12.6zM942.4 1336.25h12.6v8.40h-12.6zM942.4 1344.65h12.6v4.20h-12.6zM942.4 1462.25h12.6v8.40h-12.6zM955.0 1332.05h12.6v4.20h-12.6zM955.0 1336.25h12.6v8.40h-12.6zM955.0 1458.05h12.6v4.20h-12.6zM967.6 1323.65h12.6v8.40h-12.6zM967.6 1332.05h12.6v4.20h-12.6zM967.6 1449.65h12.6v8.40h-12.6zM980.2 1319.45h12.6v4.20h-12.6zM980.2 1323.65h12.6v8.40h-12.6zM980.2 1332.05h12.6v4.20h-12.6zM980.2 1445.45h12.6v4.20h-12.6zM992.8 1319.45h12.6v4.20h-12.6zM992.8 1323.65h12.6v8.40h-12.6zM992.8 1437.05h12.6v8.40h-12.6zM1005.4 1311.05h12.6v8.40h-12.6zM1005.4 1319.45h12.6v4.20h-12.6zM1005.4 1432.85h12.6v4.20h-12.6zM1018.0 1306.85h12.6v4.20h-12.6zM1018.0 1311.05h12.6v8.40h-12.6zM1018.0 1424.45h12.6v8.40h-12.6zM1030.6 1298.45h12.6v8.40h-12.6zM1030.6 1306.85h12.6v4.20h-12.6zM1030.6 1311.05h12.6v8.40h-12.6zM1030.6 1420.25h12.6v4.20h-12.6zM1043.2 1298.45h12.6v8.40h-12.6zM1043.2 1306.85h12.6v4.20h-12.6zM1043.2 1411.85h12.6v8.40h-12.6zM1055.8 1294.25h12.6v4.20h-12.6zM1055.8 1298.45h12.6v8.40h-12.6zM1055.8 1407.65h12.6v4.20h-12.6zM1068.4 1285.85h12.6v8.40h-12.6zM1068.4 1294.25h12.6v4.20h-12.6zM1068.4 1298.45h12.6v8.40h-12.6zM1068.4 1399.25h12.6v8.40h-12.6zM1081.0 1281.65h12.6v4.20h-12.6zM1081.0 1285.85h12.6v8.40h-12.6zM1081.0 1294.25h12.6v4.20h-12.6zM1081.0 1386.65h12.6v8.40h-12.6zM1081.0 1395.05h12.6v4.20h-12.6zM1093.6 1273.25h12.6v8.40h-12.6zM1093.6 1281.65h12.6v4.20h-12.6zM1093.6 1285.85h12.6v8.40h-12.6zM1093.6 1382.45h12.6v4.20h-12.6zM1093.6 1386.65h12.6v8.40h-12.6zM1106.2 1273.25h12.6v8.40h-12.6zM1106.2 1281.65h12.6v4.20h-12.6zM1106.2 1374.05h12.6v8.40h-12.6zM1106.2 1382.45h12.6v4.20h-12.6zM1118.8 1269.05h12.6v4.20h-12.6zM1118.8 1273.25h12.6v8.40h-12.6zM1118.8 1281.65h12.6v4.20h-12.6zM1118.8 1369.85h12.6v4.20h-12.6zM1118.8 1374.05h12.6v8.40h-12.6zM1131.4 1260.65h12.6v8.40h-12.6zM1131.4 1269.05h12.6v4.20h-12.6zM1131.4 1273.25h12.6v8.40h-12.6zM1131.4 1361.45h12.6v8.40h-12.6zM1131.4 1369.85h12.6v4.20h-12.6zM1144.0 1256.45h12.6v4.20h-12.6zM1144.0 1260.65h12.6v8.40h-12.6zM1144.0 1269.05h12.6v4.20h-12.6zM1144.0 1357.25h12.6v4.20h-12.6zM1144.0 1361.45h12.6v8.40h-12.6zM1156.6 1256.45h12.6v4.20h-12.6zM1156.6 1260.65h12.6v8.40h-12.6zM1156.6 1269.05h12.6v4.20h-12.6zM1156.6 1348.85h12.6v8.40h-12.6zM1156.6 1357.25h12.6v4.20h-12.6zM1169.2 1248.05h12.6v8.40h-12.6zM1169.2 1256.45h12.6v4.20h-12.6zM1169.2 1260.65h12.6v8.40h-12.6zM1169.2 1336.25h12.6v8.40h-12.6zM1169.2 1344.65h12.6v4.20h-12.6zM1169.2 1348.85h12.6v8.40h-12.6zM1181.8 1243.85h12.6v4.20h-12.6zM1181.8 1248.05h12.6v8.40h-12.6zM1181.8 1256.45h12.6v4.20h-12.6zM1181.8 1260.65h12.6v8.40h-12.6zM1181.8 1332.05h12.6v4.20h-12.6zM1181.8 1336.25h12.6v8.40h-12.6zM1181.8 1344.65h12.6v4.20h-12.6zM1194.4 1243.85h12.6v4.20h-12.6zM1194.4 1248.05h12.6v8.40h-12.6zM1194.4 1256.45h12.6v4.20h-12.6zM1194.4 1323.65h12.6v8.40h-12.6zM1194.4 1332.05h12.6v4.20h-12.6zM1194.4 1336.25h12.6v8.40h-12.6zM1207.0 1235.45h12.6v8.40h-12.6zM1207.0 1243.85h12.6v4.20h-12.6zM1207.0 1248.05h12.6v8.40h-12.6zM1207.0 1256.45h12.6v4.20h-12.6zM1207.0 1311.05h12.6v8.40h-12.6zM1207.0 1319.45h12.6v4.20h-12.6zM1207.0 1323.65h12.6v8.40h-12.6zM1219.6 1235.45h12.6v8.40h-12.6zM1219.6 1243.85h12.6v4.20h-12.6zM1219.6 1248.05h12.6v8.40h-12.6zM1219.6 1256.45h12.6v4.20h-12.6zM1219.6 1298.45h12.6v8.40h-12.6zM1219.6 1306.85h12.6v4.20h-12.6zM1219.6 1311.05h12.6v8.40h-12.6zM1219.6 1319.45h12.6v4.20h-12.6zM1232.2 1231.25h12.6v4.20h-12.6zM1232.2 1235.45h12.6v8.40h-12.6zM1232.2 1243.85h12.6v4.20h-12.6zM1232.2 1248.05h12.6v8.40h-12.6zM1232.2 1256.45h12.6v4.20h-12.6zM1232.2 1260.65h12.6v8.40h-12.6zM1232.2 1285.85h12.6v8.40h-12.6zM1232.2 1294.25h12.6v4.20h-12.6zM1232.2 1298.45h12.6v8.40h-12.6zM1232.2 1306.85h12.6v4.20h-12.6zM1232.2 1311.05h12.6v8.40h-12.6zM1244.8 1231.25h12.6v4.20h-12.6zM1244.8 1235.45h12.6v8.40h-12.6zM1244.8 1243.85h12.6v4.20h-12.6zM1244.8 1248.05h12.6v8.40h-12.6zM1244.8 1256.45h12.6v4.20h-12.6zM1244.8 1260.65h12.6v8.40h-12.6zM1244.8 1269.05h12.6v4.20h-12.6zM1244.8 1273.25h12.6v8.40h-12.6zM1244.8 1281.65h12.6v4.20h-12.6zM1244.8 1285.85h12.6v8.40h-12.6zM1244.8 1294.25h12.6v4.20h-12.6zM1244.8 1298.45h12.6v8.40h-12.6zM1257.4 1222.85h12.6v8.40h-12.6zM1257.4 1231.25h12.6v4.20h-12.6zM1257.4 1235.45h12.6v8.40h-12.6zM1257.4 1243.85h12.6v4.20h-12.6zM1257.4 1248.05h12.6v8.40h-12.6zM1257.4 1256.45h12.6v4.20h-12.6zM1257.4 1260.65h12.6v8.40h-12.6zM1257.4 1269.05h12.6v4.20h-12.6zM1257.4 1273.25h12.6v8.40h-12.6zM1257.4 1281.65h12.6v4.20h-12.6zM1257.4 1285.85h12.6v8.40h-12.6zM1257.4 1294.25h12.6v4.20h-12.6zM1270.0 1218.65h12.6v4.20h-12.6zM1270.0 1222.85h12.6v8.40h-12.6zM1270.0 1231.25h12.6v4.20h-12.6zM1270.0 1235.45h12.6v8.40h-12.6zM1270.0 1243.85h12.6v4.20h-12.6zM1270.0 1248.05h12.6v8.40h-12.6zM1270.0 1256.45h12.6v4.20h-12.6zM1270.0 1260.65h12.6v8.40h-12.6zM1270.0 1269.05h12.6v4.20h-12.6zM1270.0 1273.25h12.6v8.40h-12.6zM1270.0 1281.65h12.6v4.20h-12.6zM1270.0 1285.85h12.6v8.40h-12.6zM1282.6 1218.65h12.6v4.20h-12.6zM1282.6 1222.85h12.6v8.40h-12.6zM1282.6 1231.25h12.6v4.20h-12.6zM1282.6 1235.45h12.6v8.40h-12.6zM1282.6 1243.85h12.6v4.20h-12.6zM1282.6 1248.05h12.6v8.40h-12.6zM1282.6 1256.45h12.6v4.20h-12.6zM1282.6 1260.65h12.6v8.40h-12.6zM1282.6 1269.05h12.6v4.20h-12.6zM1282.6 1273.25h12.6v8.40h-12.6zM1295.2 1218.65h12.6v4.20h-12.6zM1295.2 1222.85h12.6v8.40h-12.6zM1295.2 1231.25h12.6v4.20h-12.6zM1295.2 1235.45h12.6v8.40h-12.6zM1295.2 1243.85h12.6v4.20h-12.6zM1295.2 1248.05h12.6v8.40h-12.6zM1295.2 1256.45h12.6v4.20h-12.6zM1295.2 1260.65h12.6v8.40h-12.6zM1295.2 1269.05h12.6v4.20h-12.6zM1307.8 1210.25h12.6v8.40h-12.6zM1307.8 1218.65h12.6v4.20h-12.6zM1307.8 1222.85h12.6v8.40h-12.6zM1307.8 1231.25h12.6v4.20h-12.6zM1307.8 1235.45h12.6v8.40h-12.6zM1307.8 1243.85h12.6v4.20h-12.6zM1307.8 1248.05h12.6v8.40h-12.6zM1307.8 1256.45h12.6v4.20h-12.6zM1320.4 1210.25h12.6v8.40h-12.6zM1320.4 1218.65h12.6v4.20h-12.6zM1320.4 1222.85h12.6v8.40h-12.6zM1320.4 1231.25h12.6v4.20h-12.6zM1320.4 1235.45h12.6v8.40h-12.6zM1320.4 1243.85h12.6v4.20h-12.6zM1320.4 1248.05h12.6v8.40h-12.6zM1333.0 1218.65h12.6v4.20h-12.6zM1333.0 1222.85h12.6v8.40h-12.6zM1333.0 1231.25h12.6v4.20h-12.6zM1333.0 1235.45h12.6v8.40h-12.6z"/>
<path fill="#00008f" d="M388.0 1647.05h12.6v4.20h-12.6zM400.6 1647.05h12.6v4.20h-12.6zM438.4 1638.65h12.6v8.40h-12.6zM451.0 1638.65h12.6v8.40h-12.6zM463.6 1550.45h12.6v8.40h-12.6zM476.2 1546.25h12.6v4.20h-12.6zM488.8 1537.85h12.6v8.40h-12.6zM488.8 1634.45h12.6v4.20h-12.6zM501.4 1533.65h12.6v4.20h-12.6zM514.0 1525.25h12.6v8.40h-12.6zM526.6 1521.05h12.6v4.20h-12.6zM526.6 1621.85h12.6v4.20h-12.6zM539.2 1512.65h12.6v8.40h-12.6zM551.8 1508.45h12.6v4.20h-12.6zM564.4 1500.05h12.6v8.40h-12.6zM564.4 1609.25h12.6v4.20h-12.6zM577.0 1495.85h12.6v4.20h-12.6zM589.6 1487.45h12.6v8.40h-12.6zM589.6 1600.85h12.6v8.40h-12.6zM602.2 1483.25h12.6v4.20h-12.6zM614.8 1474.85h12.6v8.40h-12.6zM614.8 1596.65h12.6v4.20h-12.6zM627.4 1470.65h12.6v4.20h-12.6zM627.4 1588.25h12.6v8.40h-12.6zM640.0 1462.25h12.6v8.40h-12.6zM640.0 1470.65h12.6v4.20h-12.6zM652.6 1462.25h12.6v8.40h-12.6zM665.2 1458.05h12.6v4.20h-12.6zM665.2 1575.65h12.6v8.40h-12.6zM677.8 1449.65h12.6v8.40h-12.6zM677.8 1571.45h12.6v4.20h-12.6zM690.4 1445.45h12.6v4.20h-12.6zM690.4 1563.05h12.6v8.40h-12.6zM703.0 1437.05h12.6v8.40h-12.6zM715.6 1437.05h12.6v8.40h-12.6zM728.2 1432.85h12.6v4.20h-12.6zM728.2 1550.45h12.6v8.40h-12.6zM740.8 1424.45h12.6v8.40h-12.6zM740.8 1546.25h12.6v4.20h-12.6zM753.4 1420.25h12.6v4.20h-12.6zM753.4 1424.45h12.6v8.40h-12.6zM753.4 1537.85h12.6v8.40h-12.6zM766.0 1420.25h12.6v4.20h-12.6zM766.0 1533.65h12.6v4.20h-12.6zM778.6 1411.85h12.6v8.40h-12.6zM778.6 1525.25h12.6v8.40h-12.6zM791.2 1407.65h12.6v4.20h-12.6zM803.8 1399.25h12.6v8.40h-12.6zM803.8 1407.65h12.6v4.20h-12.6zM803.8 1521.05h12.6v4.20h-12.6zM816.4 1399.25h12.6v8.40h-12.6zM816.4 1512.65h12.6v8.40h-12.6zM829.0 1395.05h12.6v4.20h-12.6zM829.0 1508.45h12.6v4.20h-12.6zM841.6 1386.65h12.6v8.40h-12.6zM841.6 1500.05h12.6v8.40h-12.6zM854.2 1382.45h12.6v4.20h-12.6zM854.2 1386.65h12.6v8.40h-12.6zM854.2 1495.85h12.6v4.20h-12.6zM866.8 1382.45h12.6v4.20h-12.6zM866.8 1487.45h12.6v8.40h-12.6zM879.4 1374.05h12.6v8.40h-12.6zM879.4 1483.25h12.6v4.20h-12.6zM892.0 1369.85h12.6v4.20h-12.6zM892.0 1474.85h12.6v8.40h-12.6zM904.6 1361.45h12.6v8.40h-12.6zM904.6 1369.85h12.6v4.20h-12.6zM917.2 1361.45h12.6v8.40h-12.6zM917.2 1470.65h12.6v4.20h-12.6zM929.8 1357.25h12.6v4.20h-12.6zM929.8 1462.25h12.6v8.40h-12.6zM942.4 1348.85h12.6v8.40h-12.6zM942.4 1458.05h12.6v4.20h-12.6zM955.0 1344.65h12.6v4.20h-12.6zM955.0 1348.85h12.6v8.40h-12.6zM955.0 1449.65h12.6v8.40h-12.6zM967.6 1336.25h12.6v8.40h-12.6zM967.6 1344.65h12.6v4.20h-12.6zM967.6 1445.45h12.6v4.20h-12.6zM980.2 1336.25h12.6v8.40h-12.6zM980.2 1437.05h12.6v8.40h-12.6zM992.8 1332.05h12.6v4.20h-12.6zM992.8 1432.85h12.6v4.20h-12.6zM1005.4 1323.65h12.6v8.40h-12.6zM1005.4 1332.05h12.6v4.20h-12.6zM1005.4 1424.45h12.6v8.40h-12.6zM1018.0 1319.45h12.6v4.20h-12.6zM1018.0 1323.65h12.6v8.40h-12.6zM1018.0 1420.25h12.6v4.20h-12.6zM1030.6 1319.45h12.6v4.20h-12.6zM1030.6 1411.85h12.6v8.40h-12.6zM1043.2 1311.05h12.6v8.40h-12.6zM1043.2 1319.45h12.6v4.20h-12.6zM1043.2 1407.65h12.6v4.20h-12.6zM1055.8 1306.85h12.6v4.20h-12.6zM1055.8 1311.05h12.6v8.40h-12.6zM1055.8 1395.05h12.6v4.20h-12.6zM1055.8 1399.25h12.6v8.40h-12.6zM1068.4 1306.85h12.6v4.20h-12.6zM1068.4 1386.65h12.6v8.40h-12.6zM1068.4 1395.05h12.6v4.20h-12.6zM1081.0 1298.45h12.6v8.40h-12.6zM1081.0 1306.85h12.6v4.20h-12.6zM1081.0 1382.45h12.6v4.20h-12.6zM1093.6 1294.25h12.6v4.20h-12.6zM1093.6 1298.45h12.6v8.40h-12.6zM1093.6 1374.05h12.6v8.40h-12.6zM1106.2 1285.85h12.6v8.40h-12.6zM1106.2 1294.25h12.6v4.20h-12.6zM1106.2 1298.45h12.6v8.40h-12.6zM1106.2 1369.85h12.6v4.20h-12.6zM1118.8 1285.85h12.6v8.40h-12.6zM1118.8 1294.25h12.6v4.20h-12.6zM1118.8 1357.25h12.6v4.20h-12.6zM1118.8 1361.45h12.6v8.40h-12.6zM1131.4 1281.65h12.6v4.20h-12.6zM1131.4 1285.85h12.6v8.40h-12.6zM1131.4 1294.25h12.6v4.20h-12.6zM1131.4 1348.85h12.6v8.40h-12.6zM1131.4 1357.25h12.6v4.20h-12.6zM1144.0 1273.25h12.6v8.40h-12.6zM1144.0 1281.65h12.6v4.20h-12.6zM1144.0 1285.85h12.6v8.40h-12.6zM1144.0 1344.65h12.6v4.20h-12.6zM1144.0 1348.85h12.6v8.40h-12.6zM1156.6 1273.25h12.6v8.40h-12.6zM1156.6 1281.65h12.6v4.20h-12.6zM1156.6 1285.85h12.6v8.40h-12.6zM1156.6 1332.05h12.6v4.20h-12.6zM1156.6 1336.25h12.6v8.40h-12.6zM1156.6 1344.65h12.6v4.20h-12.6zM1169.2 1269.05h12.6v4.20h-12.6zM1169.2 1273.25h12.6v8.40h-12.6zM1169.2 1281.65h12.6v4.20h-12.6zM1169.2 1285.85h12.6v8.40h-12.6zM1169.2 1323.65h12.6v8.40h-12.6zM1169.2 1332.05h12.6v4.20h-12.6zM1181.8 1269.05h12.6v4.20h-12.6zM1181.8 1273.25h12.6v8.40h-12.6zM1181.8 1281.65h12.6v4.20h-12.6zM1181.8 1285.85h12.6v8.40h-12.6zM1181.8 1311.05h12.6v8.40h-12.6zM1181.8 1319.45h12.6v4.20h-12.6zM1181.8 1323.65h12.6v8.40h-12.6zM1194.4 1260.65h12.6v8.40h-12.6zM1194.4 1269.05h12.6v4.20h-12.6zM1194.4 1273.25h12.6v8.40h-12.6zM1194.4 1281.65h12.6v4.20h-12.6zM1194.4 1285.85h12.6v8.40h-12.6zM1194.4 1294.25h12.6v4.20h-12.6zM1194.4 1298.45h12.6v8.40h-12.6zM1194.4 1306.85h12.6v4.20h-12.6zM1194.4 1311.05h12.6v8.40h-12.6zM1194.4 1319.45h12.6v4.20h-12.6zM1207.0 1260.65h12.6v8.40h-12.6zM1207.0 1269.05h12.6v4.20h-12.6zM1207.0 1273.25h12.6v8.40h-12.6zM1207.0 1281.65h12.6v4.20h-12.6zM1207.0 1285.85h12.6v8.40h-12.6zM1207.0 1294.25h12.6v4.20h-12.6zM1207.0 1298.45h12.6v8.40h-12.6zM1207.0 1306.85h12.6v4.20h-12.6zM1219.6 1260.65h12.6v8.40h-12.6zM1219.6 1269.05h12.6v4.20h-12.6zM1219.6 1273.25h12.6v8.40h-12.6zM1219.6 1281.65h12.6v4.20h-12.6zM1219.6 1285.85h12.6v8.40h-12.6zM1219.6 1294.25h12.6v4.20h-12.6zM1232.2 1269.05h12.6v4.20h-12.6zM1232.2 1273.25h12.6v8.40h-12.6zM1232.2 1281.65h12.6v4.20h-12.6z"/>
<path fill="#000095" d="M375.4 1647.05h12.6v4.20h-12.6zM425.8 1571.45h12.6v4.20h-12.6zM425.8 1638.65h12.6v8.40h-12.6zM438.4 1563.05h12.6v8.40h-12.6zM451.0 1558.85h12.6v4.20h-12.6zM463.6 1634.45h12.6v4.20h-12.6zM476.2 1634.45h12.6v4.20h-12.6zM501.4 1626.05h12.6v8.40h-12.6zM514.0 1621.85h12.6v4.20h-12.6zM539.2 1521.05h12.6v4.20h-12.6zM539.2 1613.45h12.6v8.40h-12.6zM551.8 1512.65h12.6v8.40h-12.6zM551.8 1609.25h12.6v4.20h-12.6zM564.4 1508.45h12.6v4.20h-12.6zM577.0 1500.05h12.6v8.40h-12.6zM577.0 1600.85h12.6v8.40h-12.6zM589.6 1495.85h12.6v4.20h-12.6zM602.2 1487.45h12.6v8.40h-12.6zM602.2 1596.65h12.6v4.20h-12.6zM614.8 1483.25h12.6v4.20h-12.6zM627.4 1474.85h12.6v8.40h-12.6zM640.0 1584.05h12.6v4.20h-12.6zM652.6 1470.65h12.6v4.20h-12.6zM652.6 1575.65h12.6v8.40h-12.6zM665.2 1462.25h12.6v8.40h-12.6zM677.8 1458.05h12.6v4.20h-12.6zM690.4 1449.65h12.6v8.40h-12.6zM703.0 1445.45h12.6v4.20h-12.6zM703.0 1558.85h12.6v4.20h-12.6zM715.6 1445.45h12.6v4.20h-12.6zM715.6 1550.45h12.6v8.40h-12.6zM728.2 1437.05h12.6v8.40h-12.6zM728.2 1546.25h12.6v4.20h-12.6zM740.8 1432.85h12.6v4.20h-12.6zM766.0 1424.45h12.6v8.40h-12.6zM778.6 1420.25h12.6v4.20h-12.6zM791.2 1411.85h12.6v8.40h-12.6zM791.2 1521.05h12.6v4.20h-12.6zM803.8 1512.65h12.6v8.40h-12.6zM816.4 1407.65h12.6v4.20h-12.6zM816.4 1508.45h12.6v4.20h-12.6zM829.0 1399.25h12.6v8.40h-12.6zM829.0 1500.05h12.6v8.40h-12.6zM841.6 1395.05h12.6v4.20h-12.6zM854.2 1395.05h12.6v4.20h-12.6zM866.8 1386.65h12.6v8.40h-12.6zM879.4 1382.45h12.6v4.20h-12.6zM892.0 1374.05h12.6v8.40h-12.6zM892.0 1382.45h12.6v4.20h-12.6zM904.6 1374.05h12.6v8.40h-12.6zM904.6 1470.65h12.6v4.20h-12.6zM917.2 1369.85h12.6v4.20h-12.6zM917.2 1462.25h12.6v8.40h-12.6zM929.8 1361.45h12.6v8.40h-12.6zM929.8 1458.05h12.6v4.20h-12.6zM942.4 1357.25h12.6v4.20h-12.6zM942.4 1361.45h12.6v8.40h-12.6zM942.4 1449.65h12.6v8.40h-12.6zM955.0 1357.25h12.6v4.20h-12.6zM955.0 1445.45h12.6v4.20h-12.6zM967.6 1348.85h12.6v8.40h-12.6zM967.6 1437.05h12.6v8.40h-12.6zM980.2 1344.65h12.6v4.20h-12.6zM980.2 1432.85h12.6v4.20h-12.6zM992.8 1336.25h12.6v8.40h-12.6zM992.8 1344.65h12.6v4.20h-12.6zM992.8 1424.45h12.6v8.40h-12.6zM1005.4 1336.25h12.6v8.40h-12.6zM1005.4 1420.25h12.6v4.20h-12.6zM1018.0 1332.05h12.6v4.20h-12.6zM1018.0 1411.85h12.6v8.40h-12.6zM1030.6 1323.65h12.6v8.40h-12.6zM1030.6 1332.05h12.6v4.20h-12.6zM1030.6 1407.65h12.6v4.20h-12.6zM1043.2 1323.65h12.6v8.40h-12.6zM1043.2 1395.05h12.6v4.20h-12.6zM1043.2 1399.25h12.6v8.40h-12.6zM1055.8 1319.45h12.6v4.20h-12.6zM1055.8 1323.65h12.6v8.40h-12.6zM1055.8 1386.65h12.6v8.40h-12.6zM1068.4 1311.05h12.6v8.40h-12.6zM1068.4 1319.45h12.6v4.20h-12.6zM1068.4 1382.45h12.6v4.20h-12.6zM1081.0 1311.05h12.6v8.40h-12.6zM1081.0 1319.45h12.6v4.20h-12.6zM1081.0 1369.85h12.6v4.20h-12.6zM1081.0 1374.05h12.6v8.40h-12.6zM1093.6 1306.85h12.6v4.20h-12.6zM1093.6 1311.05h12.6v8.40h-12.6zM1093.6 1361.45h12.6v8.40h-12.6zM1093.6 1369.85h12.6v4.20h-12.6zM1106.2 1306.85h12.6v4.20h-12.6zM1106.2 1311.05h12.6v8.40h-12.6zM1106.2 1357.25h12.6v4.20h-12.6zM1106.2 1361.45h12.6v8.40h-12.6zM1118.8 1298.45h12.6v8.40h-12.6zM1118.8 1306.85h12.6v4.20h-12.6zM1118.8 1311.05h12.6v8.40h-12.6zM1118.8 1344.65h12.6v4.20h-12.6zM1118.8 1348.85h12.6v8.40h-12.6zM1131.4 1298.45h12.6v8.40h-12.6zM1131.4 1306.85h12.6v4.20h-12.6zM1131.4 1311.05h12.6v8.40h-12.6zM1131.4 1332.05h12.6v4.20h-12.6zM1131.4 1336.25h12.6v8.40h-12.6zM1131.4 1344.65h12.6v4.20h-12.6zM1144.0 1294.25h12.6v4.20h-12.6zM1144.0 1298.45h12.6v8.40h-12.6zM1144.0 1306.85h12.6v4.20h-12.6zM1144.0 1311.05h12.6v8.40h-12.6zM1144.0 1319.45h12.6v4.20h-12.6zM1144.0 1323.65h12.6v8.40h-12.6zM1144.0 1332.05h12.6v4.20h-12.6zM1144.0 1336.25h12.6v8.40h-12.6zM1156.6 1294.25h12.6v4.20h-12.6zM1156.6 1298.45h12.6v8.40h-12.6zM1156.6 1306.85h12.6v4.20h-12.6zM1156.6 1311.05h12.6v8.40h-12.6zM1156.6 1319.45h12.6v4.20h-12.6zM1156.6 1323.65h12.6v8.40h-12.6zM1169.2 1294.25h12.6v4.20h-12.6zM1169.2 1298.45h12.6v8.40h-12.6zM1169.2 1306.85h12.6v4.20h-12.6zM1169.2 1311.05h12.6v8.40h-12.6zM1169.2 1319.45h12.6v4.20h-12.6zM1181.8 1294.25h12.6v4.20h-12.6zM1181.8 1298.45h12.6v8.40h-12.6zM1181.8 1306.85h12.6v4.20h-12.6z"/>
<path fill="#00009a" d="M400.6 1584.05h12.6v4.20h-12.6zM413.2 1575.65h12.6v8.40h-12.6zM476.2 1550.45h12.6v8.40h-12.6zM488.8 1546.25h12.6v4.20h-12.6zM501.4 1537.85h12.6v8.40h-12.6zM514.0 1533.65h12.6v4.20h-12.6zM526.6 1525.25h12.6v8.40h-12.6zM602.2 1495.85h12.6v4.20h-12.6zM614.8 1487.45h12.6v8.40h-12.6zM614.8 1588.25h12.6v8.40h-12.6zM627.4 1483.25h12.6v4.20h-12.6zM640.0 1474.85h12.6v8.40h-12.6zM665.2 1571.45h12.6v4.20h-12.6zM690.4 1458.05h12.6v4.20h-12.6zM703.0 1449.65h12.6v8.40h-12.6zM740.8 1437.05h12.6v8.40h-12.6zM740.8 1537.85h12.6v8.40h-12.6zM753.4 1432.85h12.6v4.20h-12.6zM753.4 1533.65h12.6v4.20h-12.6zM766.0 1525.25h12.6v8.40h-12.6zM778.6 1424.45h12.6v8.40h-12.6zM778.6 1521.05h12.6v4.20h-12.6zM791.2 1420.25h12.6v4.20h-12.6zM803.8 1411.85h12.6v8.40h-12.6zM829.0 1407.65h12.6v4.20h-12.6zM841.6 1399.25h12.6v8.40h-12.6zM841.6 1495.85h12.6v4.20h-12.6zM854.2 1487.45h12.6v8.40h-12.6zM866.8 1395.05h12.6v4.20h-12.6zM866.8 1483.25h12.6v4.20h-12.6zM879.4 1386.65h12.6v8.40h-12.6zM879.4 1474.85h12.6v8.40h-12.6zM892.0 1470.65h12.6v4.20h-12.6zM904.6 1382.45h12.6v4.20h-12.6zM904.6 1462.25h12.6v8.40h-12.6zM917.2 1374.05h12.6v8.40h-12.6zM917.2 1458.05h12.6v4.20h-12.6zM929.8 1369.85h12.6v4.20h-12.6zM929.8 1449.65h12.6v8.40h-12.6zM942.4 1369.85h12.6v4.20h-12.6zM942.4 1445.45h12.6v4.20h-12.6zM955.0 1361.45h12.6v8.40h-12.6zM955.0 1437.05h12.6v8.40h-12.6zM967.6 1357.25h12.6v4.20h-12.6zM967.6 1432.85h12.6v4.20h-12.6zM980.2 1348.85h12.6v8.40h-12.6zM980.2 1357.25h12.6v4.20h-12.6zM980.2 1424.45h12.6v8.40h-12.6zM992.8 1348.85h12.6v8.40h-12.6zM992.8 1420.25h12.6v4.20h-12.6zM1005.4 1344.65h12.6v4.20h-12.6zM1005.4 1411.85h12.6v8.40h-12.6zM1018.0 1336.25h12.6v8.40h-12.6zM1018.0 1344.65h12.6v4.20h-12.6zM1018.0 1407.65h12.6v4.20h-12.6zM1030.6 1336.25h12.6v8.40h-12.6zM1030.6 1395.05h12.6v4.20h-12.6zM1030.6 1399.25h12.6v8.40h-12.6zM1043.2 1332.05h12.6v4.20h-12.6zM1043.2 1336.25h12.6v8.40h-12.6zM1043.2 1386.65h12.6v8.40h-12.6zM1055.8 1332.05h12.6v4.20h-12.6zM1055.8 1336.25h12.6v8.40h-12.6zM1055.8 1382.45h12.6v4.20h-12.6zM1068.4 1323.65h12.6v8.40h-12.6zM1068.4 1332.05h12.6v4.20h-12.6zM1068.4 1336.25h12.6v8.40h-12.6zM1068.4 1369.85h12.6v4.20h-12.6zM1068.4 1374.05h12.6v8.40h-12.6zM1081.0 1323.65h12.6v8.40h-12.6zM1081.0 1332.05h12.6v4.20h-12.6zM1081.0 1336.25h12.6v8.40h-12.6zM1081.0 1357.25h12.6v4.20h-12.6zM1081.0 1361.45h12.6v8.40h-12.6zM1093.6 1319.45h12.6v4.20h-12.6zM1093.6 1323.65h12.6v8.40h-12.6zM1093.6 1332.05h12.6v4.20h-12.6zM1093.6 1336.25h12.6v8.40h-12.6zM1093.6 1344.65h12.6v4.20h-12.6zM1093.6 1348.85h12.6v8.40h-12.6zM1093.6 1357.25h12.6v4.20h-12.6zM1106.2 1319.45h12.6v4.20h-12.6zM1106.2 1323.65h12.6v8.40h-12.6zM1106.2 1332.05h12.6v4.20h-12.6zM1106.2 1336.25h12.6v8.40h-12.6zM1106.2 1344.65h12.6v4.20h-12.6zM1106.2 1348.85h12.6v8.40h-12.6zM1118.8 1319.45h12.6v4.20h-12.6zM1118.8 1323.65h12.6v8.40h-12.6zM1118.8 1332.05h12.6v4.20h-12.6zM1118.8 1336.25h12.6v8.40h-12.6zM1131.4 1319.45h12.6v4.20h-12.6zM1131.4 1323.65h12.6v8.40h-12.6z"/>
<path fill="#00009f" d="M362.8 1647.05h12.6v4.20h-12.6zM375.4 1596.65h12.6v4.20h-12.6zM388.0 1592.45h12.6v4.20h-12.6zM413.2 1638.65h12.6v8.40h-12.6zM451.0 1634.45h12.6v4.20h-12.6zM463.6 1558.85h12.6v4.20h-12.6zM488.8 1626.05h12.6v8.40h-12.6zM526.6 1613.45h12.6v8.40h-12.6zM551.8 1521.05h12.6v4.20h-12.6zM564.4 1512.65h12.6v8.40h-12.6zM564.4 1600.85h12.6v8.40h-12.6zM577.0 1508.45h12.6v4.20h-12.6zM589.6 1500.05h12.6v8.40h-12.6zM589.6 1596.65h12.6v4.20h-12.6zM627.4 1584.05h12.6v4.20h-12.6zM652.6 1474.85h12.6v8.40h-12.6zM665.2 1470.65h12.6v4.20h-12.6zM677.8 1462.25h12.6v8.40h-12.6zM677.8 1563.05h12.6v8.40h-12.6zM690.4 1558.85h12.6v4.20h-12.6zM715.6 1449.65h12.6v8.40h-12.6zM728.2 1445.45h12.6v4.20h-12.6zM753.4 1437.05h12.6v8.40h-12.6zM766.0 1432.85h12.6v4.20h-12.6zM791.2 1424.45h12.6v8.40h-12.6zM791.2 1512.65h12.6v8.40h-12.6zM803.8 1420.25h12.6v4.20h-12.6zM803.8 1508.45h12.6v4.20h-12.6zM816.4 1411.85h12.6v8.40h-12.6zM816.4 1500.05h12.6v8.40h-12.6zM841.6 1407.65h12.6v4.20h-12.6zM854.2 1399.25h12.6v8.40h-12.6zM866.8 1399.25h12.6v8.40h-12.6zM879.4 1395.05h12.6v4.20h-12.6zM892.0 1386.65h12.6v8.40h-12.6zM904.6 1386.65h12.6v8.40h-12.6zM917.2 1382.45h12.6v4.20h-12.6zM929.8 1374.05h12.6v8.40h-12.6zM929.8 1445.45h12.6v4.20h-12.6zM942.4 1374.05h12.6v8.40h-12.6zM942.4 1437.05h12.6v8.40h-12.6zM955.0 1369.85h12.6v4.20h-12.6zM955.0 1432.85h12.6v4.20h-12.6zM967.6 1361.45h12.6v8.40h-12.6zM967.6 1424.45h12.6v8.40h-12.6zM980.2 1361.45h12.6v8.40h-12.6zM980.2 1420.25h12.6v4.20h-12.6zM992.8 1357.25h12.6v4.20h-12.6zM992.8 1411.85h12.6v8.40h-12.6zM1005.4 1348.85h12.6v8.40h-12.6zM1005.4 1357.25h12.6v4.20h-12.6zM1005.4 1407.65h12.6v4.20h-12.6zM1018.0 1348.85h12.6v8.40h-12.6zM1018.0 1399.25h12.6v8.40h-12.6zM1030.6 1344.65h12.6v4.20h-12.6zM1030.6 1348.85h12.6v8.40h-12.6zM1030.6 1386.65h12.6v8.40h-12.6zM1043.2 1344.65h12.6v4.20h-12.6zM1043.2 1348.85h12.6v8.40h-12.6zM1043.2 1374.05h12.6v8.40h-12.6zM1043.2 1382.45h12.6v4.20h-12.6zM1055.8 1344.65h12.6v4.20h-12.6zM1055.8 1348.85h12.6v8.40h-12.6zM1055.8 1357.25h12.6v4.20h-12.6zM1055.8 1361.45h12.6v8.40h-12.6zM1055.8 1369.85h12.6v4.20h-12.6zM1055.8 1374.05h12.6v8.40h-12.6zM1068.4 1344.65h12.6v4.20h-12.6zM1068.4 1348.85h12.6v8.40h-12.6zM1068.4 1357.25h12.6v4.20h-12.6zM1068.4 1361.45h12.6v8.40h-12.6zM1081.0 1344.65h12.6v4.20h-12.6zM1081.0 1348.85h12.6v8.40h-12.6z"/>
<path fill="#0000a4" d="M400.6 1638.65h12.6v8.40h-12.6zM438.4 1571.45h12.6v4.20h-12.6zM438.4 1634.45h12.6v4.20h-12.6zM451.0 1563.05h12.6v8.40h-12.6zM501.4 1546.25h12.6v4.20h-12.6zM501.4 1621.85h12.6v4.20h-12.6zM514.0 1537.85h12.6v8.40h-12.6zM526.6 1533.65h12.6v4.20h-12.6zM539.2 1525.25h12.6v8.40h-12.6zM539.2 1609.25h12.6v4.20h-12.6zM614.8 1495.85h12.6v4.20h-12.6zM627.4 1487.45h12.6v8.40h-12.6zM640.0 1483.25h12.6v4.20h-12.6zM640.0 1575.65h12.6v8.40h-12.6zM690.4 1462.25h12.6v8.40h-12.6zM703.0 1458.05h12.6v4.20h-12.6zM703.0 1550.45h12.6v8.40h-12.6zM715.6 1546.25h12.6v4.20h-12.6zM740.8 1445.45h12.6v4.20h-12.6zM766.0 1437.05h12.6v8.40h-12.6zM778.6 1432.85h12.6v4.20h-12.6zM816.4 1420.25h12.6v4.20h-12.6zM829.0 1411.85h12.6v8.40h-12.6zM829.0 1495.85h12.6v4.20h-12.6zM841.6 1487.45h12.6v8.40h-12.6zM854.2 1407.65h12.6v4.20h-12.6zM854.2 1483.25h12.6v4.20h-12.6zM866.8 1474.85h12.6v8.40h-12.6zM879.4 1399.25h12.6v8.40h-12.6zM879.4 1470.65h12.6v4.20h-12.6zM892.0 1395.05h12.6v4.20h-12.6zM892.0 1462.25h12.6v8.40h-12.6zM904.6 1458.05h12.6v4.20h-12.6zM917.2 1386.65h12.6v8.40h-12.6zM917.2 1449.65h12.6v8.40h-12.6zM929.8 1382.45h12.6v4.20h-12.6zM942.4 1382.45h12.6v4.20h-12.6zM955.0 1374.05h12.6v8.40h-12.6zM967.6 1369.85h12.6v4.20h-12.6zM967.6 1374.05h12.6v8.40h-12.6zM967.6 1420.25h12.6v4.20h-12.6zM980.2 1369.85h12.6v4.20h-12.6zM980.2 1411.85h12.6v8.40h-12.6zM992.8 1361.45h12.6v8.40h-12.6zM992.8 1369.85h12.6v4.20h-12.6zM992.8 1407.65h12.6v4.20h-12.6zM1005.4 1361.45h12.6v8.40h-12.6zM1005.4 1399.25h12.6v8.40h-12.6zM1018.0 1357.25h12.6v4.20h-12.6zM1018.0 1361.45h12.6v8.40h-12.6zM1018.0 1369.85h12.6v4.20h-12.6zM1018.0 1386.65h12.6v8.40h-12.6zM1018.0 1395.05h12.6v4.20h-12.6zM1030.6 1357.25h12.6v4.20h-12.6zM1030.6 1361.45h12.6v8.40h-12.6zM1030.6 1369.85h12.6v4.20h-12.6zM1030.6 1374.05h12.6v8.40h-12.6zM1030.6 1382.45h12.6v4.20h-12.6zM1043.2 1357.25h12.6v4.20h-12.6zM1043.2 1361.45h12.6v8.40h-12.6zM1043.2 1369.85h12.6v4.20h-12.6z"/>
<path fill="#0000aa" d="M476.2 1558.85h12.6v4.20h-12.6zM476.2 1626.05h12.6v8.40h-12.6zM488.8 1550.45h12.6v8.40h-12.6zM577.0 1596.65h12.6v4.20h-12.6zM589.6 1508.45h12.6v4.20h-12.6zM602.2 1500.05h12.6v8.40h-12.6zM602.2 1588.25h12.6v8.40h-12.6zM652.6 1571.45h12.6v4.20h-12.6zM665.2 1474.85h12.6v8.40h-12.6zM677.8 1470.65h12.6v4.20h-12.6zM715.6 1458.05h12.6v4.20h-12.6zM728.2 1449.65h12.6v8.40h-12.6zM728.2 1537.85h12.6v8.40h-12.6zM740.8 1533.65h12.6v4.20h-12.6zM753.4 1445.45h12.6v4.20h-12.6zM753.4 1525.25h12.6v8.40h-12.6zM766.0 1521.05h12.6v4.20h-12.6zM791.2 1432.85h12.6v4.20h-12.6zM803.8 1424.45h12.6v8.40h-12.6zM829.0 1420.25h12.6v4.20h-12.6zM841.6 1411.85h12.6v8.40h-12.6zM866.8 1407.65h12.6v4.20h-12.6zM892.0 1399.25h12.6v8.40h-12.6zM904.6 1395.05h12.6v4.20h-12.6zM904.6 1449.65h12.6v8.40h-12.6zM917.2 1395.05h12.6v4.20h-12.6zM917.2 1445.45h12.6v4.20h-12.6zM929.8 1386.65h12.6v8.40h-12.6zM929.8 1437.05h12.6v8.40h-12.6zM942.4 1386.65h12.6v8.40h-12.6zM942.4 1432.85h12.6v4.20h-12.6zM955.0 1382.45h12.6v4.20h-12.6zM955.0 1424.45h12.6v8.40h-12.6zM967.6 1382.45h12.6v4.20h-12.6zM980.2 1374.05h12.6v8.40h-12.6zM980.2 1382.45h12.6v4.20h-12.6zM980.2 1407.65h12.6v4.20h-12.6zM992.8 1374.05h12.6v8.40h-12.6zM992.8 1382.45h12.6v4.20h-12.6zM992.8 1395.05h12.6v4.20h-12.6zM992.8 1399.25h12.6v8.40h-12.6zM1005.4 1369.85h12.6v4.20h-12.6zM1005.4 1374.05h12.6v8.40h-12.6zM1005.4 1382.45h12.6v4.20h-12.6zM1005.4 1386.65h12.6v8.40h-12.6zM1005.4 1395.05h12.6v4.20h-12.6zM1018.0 1374.05h12.6v8.40h-12.6zM1018.0 1382.45h12.6v4.20h-12.6z"/>
<path fill="#0000af" d="M350.2 1647.05h12.6v4.20h-12.6zM388.0 1638.65h12.6v8.40h-12.6zM413.2 1584.05h12.6v4.20h-12.6zM425.8 1575.65h12.6v8.40h-12.6zM564.4 1521.05h12.6v4.20h-12.6zM577.0 1512.65h12.6v8.40h-12.6zM652.6 1483.25h12.6v4.20h-12.6zM665.2 1563.05h12.6v8.40h-12.6zM703.0 1462.25h12.6v8.40h-12.6zM740.8 1449.65h12.6v8.40h-12.6zM778.6 1437.05h12.6v8.40h-12.6zM778.6 1512.65h12.6v8.40h-12.6zM791.2 1508.45h12.6v4.20h-12.6zM803.8 1500.05h12.6v8.40h-12.6zM816.4 1424.45h12.6v8.40h-12.6zM816.4 1495.85h12.6v4.20h-12.6zM829.0 1487.45h12.6v8.40h-12.6zM841.6 1420.25h12.6v4.20h-12.6zM841.6 1483.25h12.6v4.20h-12.6zM854.2 1411.85h12.6v8.40h-12.6zM854.2 1474.85h12.6v8.40h-12.6zM866.8 1411.85h12.6v8.40h-12.6zM866.8 1470.65h12.6v4.20h-12.6zM879.4 1407.65h12.6v4.20h-12.6zM879.4 1462.25h12.6v8.40h-12.6zM892.0 1407.65h12.6v4.20h-12.6zM892.0 1458.05h12.6v4.20h-12.6zM904.6 1399.25h12.6v8.40h-12.6zM917.2 1399.25h12.6v8.40h-12.6zM929.8 1395.05h12.6v4.20h-12.6zM929.8 1432.85h12.6v4.20h-12.6zM942.4 1395.05h12.6v4.20h-12.6zM942.4 1424.45h12.6v8.40h-12.6zM955.0 1386.65h12.6v8.40h-12.6zM955.0 1395.05h12.6v4.20h-12.6zM955.0 1420.25h12.6v4.20h-12.6zM967.6 1386.65h12.6v8.40h-12.6zM967.6 1395.05h12.6v4.20h-12.6zM967.6 1399.25h12.6v8.40h-12.6zM967.6 1407.65h12.6v4.20h-12.6zM967.6 1411.85h12.6v8.40h-12.6zM980.2 1386.65h12.6v8.40h-12.6zM980.2 1395.05h12.6v4.20h-12.6zM980.2 1399.25h12.6v8.40h-12.6zM992.8 1386.65h12.6v8.40h-12.6z"/>
<path fill="#0000b4" d="M425.8 1634.45h12.6v4.20h-12.6zM463.6 1563.05h12.6v8.40h-12.6zM514.0 1613.45h12.6v8.40h-12.6zM551.8 1525.25h12.6v8.40h-12.6zM551.8 1600.85h12.6v8.40h-12.6zM614.8 1584.05h12.6v4.20h-12.6zM627.4 1495.85h12.6v4.20h-12.6zM640.0 1487.45h12.6v8.40h-12.6zM677.8 1558.85h12.6v4.20h-12.6zM690.4 1470.65h12.6v4.20h-12.6zM728.2 1458.05h12.6v4.20h-12.6zM766.0 1445.45h12.6v4.20h-12.6zM803.8 1432.85h12.6v4.20h-12.6zM829.0 1424.45h12.6v8.40h-12.6zM854.2 1420.25h12.6v4.20h-12.6zM879.4 1411.85h12.6v8.40h-12.6zM892.0 1449.65h12.6v8.40h-12.6zM904.6 1407.65h12.6v4.20h-12.6zM904.6 1445.45h12.6v4.20h-12.6zM917.2 1407.65h12.6v4.20h-12.6zM917.2 1437.05h12.6v8.40h-12.6zM929.8 1399.25h12.6v8.40h-12.6zM929.8 1407.65h12.6v4.20h-12.6zM929.8 1424.45h12.6v8.40h-12.6zM942.4 1399.25h12.6v8.40h-12.6zM942.4 1407.65h12.6v4.20h-12.6zM942.4 1411.85h12.6v8.40h-12.6zM942.4 1420.25h12.6v4.20h-12.6zM955.0 1399.25h12.6v8.40h-12.6zM955.0 1407.65h12.6v4.20h-12.6zM955.0 1411.85h12.6v8.40h-12.6z"/>
<path fill="#0000b9" d="M463.6 1626.05h12.6v8.40h-12.6zM526.6 1537.85h12.6v8.40h-12.6zM539.2 1533.65h12.6v4.20h-12.6zM602.2 1508.45h12.6v4.20h-12.6zM614.8 1500.05h12.6v8.40h-12.6zM677.8 1474.85h12.6v8.40h-12.6zM690.4 1550.45h12.6v8.40h-12.6zM703.0 1546.25h12.6v4.20h-12.6zM753.4 1449.65h12.6v8.40h-12.6zM778.6 1445.45h12.6v4.20h-12.6zM791.2 1437.05h12.6v8.40h-12.6zM816.4 1432.85h12.6v4.20h-12.6zM841.6 1424.45h12.6v8.40h-12.6zM866.8 1420.25h12.6v4.20h-12.6zM866.8 1462.25h12.6v8.40h-12.6zM879.4 1420.25h12.6v4.20h-12.6zM879.4 1458.05h12.6v4.20h-12.6zM892.0 1411.85h12.6v8.40h-12.6zM904.6 1411.85h12.6v8.40h-12.6zM904.6 1420.25h12.6v4.20h-12.6zM904.6 1437.05h12.6v8.40h-12.6zM917.2 1411.85h12.6v8.40h-12.6zM917.2 1420.25h12.6v4.20h-12.6zM917.2 1424.45h12.6v8.40h-12.6zM917.2 1432.85h12.6v4.20h-12.6zM929.8 1411.85h12.6v8.40h-12.6zM929.8 1420.25h12.6v4.20h-12.6z"/>
<path fill="#0000bf" d="M400.6 1588.25h12.6v8.40h-12.6zM451.0 1571.45h12.6v4.20h-12.6zM514.0 1546.25h12.6v4.20h-12.6zM589.6 1588.25h12.6v8.40h-12.6zM665.2 1483.25h12.6v4.20h-12.6zM715.6 1462.25h12.6v8.40h-12.6zM715.6 1537.85h12.6v8.40h-12.6zM728.2 1533.65h12.6v4.20h-12.6zM740.8 1458.05h12.6v4.20h-12.6zM766.0 1449.65h12.6v8.40h-12.6zM803.8 1437.05h12.6v8.40h-12.6zM829.0 1432.85h12.6v4.20h-12.6zM829.0 1483.25h12.6v4.20h-12.6zM841.6 1474.85h12.6v8.40h-12.6zM854.2 1424.45h12.6v8.40h-12.6zM854.2 1470.65h12.6v4.20h-12.6zM866.8 1424.45h12.6v8.40h-12.6zM879.4 1424.45h12.6v8.40h-12.6zM879.4 1449.65h12.6v8.40h-12.6zM892.0 1420.25h12.6v4.20h-12.6zM892.0 1424.45h12.6v8.40h-12.6zM892.0 1445.45h12.6v4.20h-12.6zM904.6 1424.45h12.6v8.40h-12.6zM904.6 1432.85h12.6v4.20h-12.6z"/>
<path fill="#0000c4" d="M388.0 1596.65h12.6v4.20h-12.6zM413.2 1634.45h12.6v4.20h-12.6zM488.8 1558.85h12.6v4.20h-12.6zM488.8 1621.85h12.6v4.20h-12.6zM501.4 1550.45h12.6v8.40h-12.6zM526.6 1609.25h12.6v4.20h-12.6zM564.4 1596.65h12.6v4.20h-12.6zM589.6 1512.65h12.6v8.40h-12.6zM627.4 1575.65h12.6v8.40h-12.6zM652.6 1487.45h12.6v8.40h-12.6zM703.0 1470.65h12.6v4.20h-12.6zM740.8 1525.25h12.6v8.40h-12.6zM753.4 1521.05h12.6v4.20h-12.6zM766.0 1512.65h12.6v8.40h-12.6zM778.6 1508.45h12.6v4.20h-12.6zM791.2 1445.45h12.6v4.20h-12.6zM791.2 1500.05h12.6v8.40h-12.6zM803.8 1495.85h12.6v4.20h-12.6zM816.4 1437.05h12.6v8.40h-12.6zM816.4 1487.45h12.6v8.40h-12.6zM841.6 1432.85h12.6v4.20h-12.6zM854.2 1432.85h12.6v4.20h-12.6zM866.8 1432.85h12.6v4.20h-12.6zM866.8 1458.05h12.6v4.20h-12.6zM879.4 1432.85h12.6v4.20h-12.6zM879.4 1437.05h12.6v8.40h-12.6zM879.4 1445.45h12.6v4.20h-12.6zM892.0 1432.85h12.6v4.20h-12.6zM892.0 1437.05h12.6v8.40h-12.6z"/>
<path fill="#0000c9" d="M577.0 1521.05h12.6v4.20h-12.6zM640.0 1495.85h12.6v4.20h-12.6zM640.0 1571.45h12.6v4.20h-12.6zM690.4 1474.85h12.6v8.40h-12.6zM728.2 1462.25h12.6v8.40h-12.6zM753.4 1458.05h12.6v4.20h-12.6zM778.6 1449.65h12.6v8.40h-12.6zM803.8 1445.45h12.6v4.20h-12.6zM829.0 1437.05h12.6v8.40h-12.6zM854.2 1462.25h12.6v8.40h-12.6zM866.8 1437.05h12.6v8.40h-12.6zM866.8 1445.45h12.6v4.20h-12.6zM866.8 1449.65h12.6v8.40h-12.6z"/>
<path fill="#0000cf" d="M337.6 1647.05h12.6v4.20h-12.6zM375.4 1638.65h12.6v8.40h-12.6zM438.4 1575.65h12.6v8.40h-12.6zM451.0 1626.05h12.6v8.40h-12.6zM564.4 1525.25h12.6v8.40h-12.6zM627.4 1500.05h12.6v8.40h-12.6zM677.8 1483.25h12.6v4.20h-12.6zM715.6 1470.65h12.6v4.20h-12.6zM766.0 1458.05h12.6v4.20h-12.6zM816.4 1445.45h12.6v4.20h-12.6zM829.0 1474.85h12.6v8.40h-12.6zM841.6 1437.05h12.6v8.40h-12.6zM841.6 1470.65h12.6v4.20h-12.6zM854.2 1437.05h12.6v8.40h-12.6zM854.2 1445.45h12.6v4.20h-12.6zM854.2 1458.05h12.6v4.20h-12.6z"/>
<path fill="#0000d4" d="M476.2 1563.05h12.6v8.40h-12.6zM551.8 1533.65h12.6v4.20h-12.6zM602.2 1584.05h12.6v4.20h-12.6zM614.8 1508.45h12.6v4.20h-12.6zM652.6 1563.05h12.6v8.40h-12.6zM740.8 1462.25h12.6v8.40h-12.6zM791.2 1449.65h12.6v8.40h-12.6zM803.8 1487.45h12.6v8.40h-12.6zM816.4 1483.25h12.6v4.20h-12.6zM829.0 1445.45h12.6v4.20h-12.6zM841.6 1445.45h12.6v4.20h-12.6zM841.6 1462.25h12.6v8.40h-12.6zM854.2 1449.65h12.6v8.40h-12.6z"/>
<path fill="#0000d9" d="M337.6 1617.65h12.6v4.20h-12.6zM665.2 1487.45h12.6v8.40h-12.6zM665.2 1558.85h12.6v4.20h-12.6zM703.0 1474.85h12.6v8.40h-12.6zM753.4 1462.25h12.6v8.40h-12.6zM766.0 1508.45h12.6v4.20h-12.6zM778.6 1458.05h12.6v4.20h-12.6zM778.6 1500.05h12.6v8.40h-12.6zM791.2 1495.85h12.6v4.20h-12.6zM803.8 1449.65h12.6v8.40h-12.6zM816.4 1449.65h12.6v8.40h-12.6zM829.0 1449.65h12.6v8.40h-12.6zM829.0 1470.65h12.6v4.20h-12.6zM841.6 1449.65h12.6v8.40h-12.6zM841.6 1458.05h12.6v4.20h-12.6z"/>
<path fill="#0000de" d="M400.6 1634.45h12.6v4.20h-12.6zM425.8 1584.05h12.6v4.20h-12.6zM526.6 1546.25h12.6v4.20h-12.6zM539.2 1537.85h12.6v8.40h-12.6zM539.2 1600.85h12.6v8.40h-12.6zM602.2 1512.65h12.6v8.40h-12.6zM652.6 1495.85h12.6v4.20h-12.6zM677.8 1550.45h12.6v8.40h-12.6zM728.2 1470.65h12.6v4.20h-12.6zM753.4 1512.65h12.6v8.40h-12.6zM766.0 1462.25h12.6v8.40h-12.6zM791.2 1458.05h12.6v4.20h-12.6zM803.8 1458.05h12.6v4.20h-12.6zM816.4 1458.05h12.6v4.20h-12.6zM816.4 1474.85h12.6v8.40h-12.6zM829.0 1458.05h12.6v4.20h-12.6zM829.0 1462.25h12.6v8.40h-12.6z"/>
<path fill="#0000e4" d="M463.6 1571.45h12.6v4.20h-12.6zM476.2 1621.85h12.6v4.20h-12.6zM501.4 1613.45h12.6v8.40h-12.6zM589.6 1521.05h12.6v4.20h-12.6zM690.4 1483.25h12.6v4.20h-12.6zM690.4 1546.25h12.6v4.20h-12.6zM703.0 1537.85h12.6v8.40h-12.6zM715.6 1533.65h12.6v4.20h-12.6zM728.2 1525.25h12.6v8.40h-12.6zM740.8 1521.05h12.6v4.20h-12.6zM778.6 1462.25h12.6v8.40h-12.6zM803.8 1483.25h12.6v4.20h-12.6zM816.4 1462.25h12.6v8.40h-12.6zM816.4 1470.65h12.6v4.20h-12.6z"/>
<path fill="#0000e9" d="M514.0 1550.45h12.6v8.40h-12.6zM577.0 1588.25h12.6v8.40h-12.6zM640.0 1500.05h12.6v8.40h-12.6zM715.6 1474.85h12.6v8.40h-12.6zM740.8 1470.65h12.6v4.20h-12.6zM791.2 1462.25h12.6v8.40h-12.6zM791.2 1487.45h12.6v8.40h-12.6zM803.8 1462.25h12.6v8.40h-12.6z"/>
<path fill="#0000ee" d="M501.4 1558.85h12.6v4.20h-12.6zM627.4 1508.45h12.6v4.20h-12.6zM677.8 1487.45h12.6v8.40h-12.6zM753.4 1470.65h12.6v4.20h-12.6zM766.0 1470.65h12.6v4.20h-12.6zM778.6 1495.85h12.6v4.20h-12.6zM803.8 1470.65h12.6v4.20h-12.6zM803.8 1474.85h12.6v8.40h-12.6z"/>
<path fill="#0000f3" d="M375.4 1600.85h12.6v8.40h-12.6zM438.4 1626.05h12.6v8.40h-12.6zM577.0 1525.25h12.6v8.40h-12.6zM614.8 1575.65h12.6v8.40h-12.6zM703.0 1483.25h12.6v4.20h-12.6zM728.2 1474.85h12.6v8.40h-12.6zM766.0 1500.05h12.6v8.40h-12.6zM778.6 1470.65h12.6v4.20h-12.6zM791.2 1470.65h12.6v4.20h-12.6zM791.2 1474.85h12.6v8.40h-12.6zM791.2 1483.25h12.6v4.20h-12.6z"/>
<path fill="#0000f9" d="M551.8 1596.65h12.6v4.20h-12.6zM614.8 1512.65h12.6v8.40h-12.6zM665.2 1495.85h12.6v4.20h-12.6zM778.6 1474.85h12.6v8.40h-12.6zM778.6 1487.45h12.6v8.40h-12.6z"/>
<path fill="#0000fe" d="M488.8 1563.05h12.6v8.40h-12.6zM514.0 1609.25h12.6v4.20h-12.6zM564.4 1533.65h12.6v4.20h-12.6zM627.4 1571.45h12.6v4.20h-12.6zM740.8 1474.85h12.6v8.40h-12.6zM753.4 1474.85h12.6v8.40h-12.6zM753.4 1508.45h12.6v4.20h-12.6zM766.0 1474.85h12.6v8.40h-12.6zM778.6 1483.25h12.6v4.20h-12.6z"/>
<path fill="#0000ff" d="M325.0 1647.05h12.6v4.20h-12.6zM362.8 1609.25h12.6v4.20h-12.6zM362.8 1638.65h12.6v8.40h-12.6zM388.0 1634.45h12.6v4.20h-12.6zM413.2 1588.25h12.6v8.40h-12.6zM451.0 1575.65h12.6v8.40h-12.6zM463.6 1621.85h12.6v4.20h-12.6zM476.2 1571.45h12.6v4.20h-12.6zM539.2 1546.25h12.6v4.20h-12.6zM551.8 1537.85h12.6v8.40h-12.6zM589.6 1525.25h12.6v8.40h-12.6zM589.6 1584.05h12.6v4.20h-12.6zM602.2 1521.05h12.6v4.20h-12.6zM640.0 1508.45h12.6v4.20h-12.6zM640.0 1563.05h12.6v8.40h-12.6zM652.6 1500.05h12.6v8.40h-12.6zM652.6 1558.85h12.6v4.20h-12.6zM665.2 1550.45h12.6v8.40h-12.6zM677.8 1495.85h12.6v4.20h-12.6zM677.8 1546.25h12.6v4.20h-12.6zM690.4 1487.45h12.6v8.40h-12.6zM690.4 1537.85h12.6v8.40h-12.6zM703.0 1487.45h12.6v8.40h-12.6zM703.0 1533.65h12.6v4.20h-12.6zM715.6 1483.25h12.6v4.20h-12.6zM715.6 1525.25h12.6v8.40h-12.6zM728.2 1483.25h12.6v4.20h-12.6zM728.2 1521.05h12.6v4.20h-12.6zM740.8 1483.25h12.6v4.20h-12.6zM740.8 1512.65h12.6v8.40h-12.6zM753.4 1483.25h12.6v4.20h-12.6zM753.4 1487.45h12.6v8.40h-12.6zM753.4 1495.85h12.6v4.20h-12.6zM753.4 1500.05h12.6v8.40h-12.6zM766.0 1483.25h12.6v4.20h-12.6zM766.0 1487.45h12.6v8.40h-12.6zM766.0 1495.85h12.6v4.20h-12.6z"/>
<path fill="#0012ff" d="M400.6 1596.65h12.6v4.20h-12.6zM425.8 1626.05h12.6v8.40h-12.6zM438.4 1584.05h12.6v4.20h-12.6zM526.6 1550.45h12.6v8.40h-12.6zM526.6 1600.85h12.6v8.40h-12.6zM564.4 1588.25h12.6v8.40h-12.6zM577.0 1533.65h12.6v4.20h-12.6zM614.8 1521.05h12.6v4.20h-12.6zM627.4 1512.65h12.6v8.40h-12.6zM665.2 1500.05h12.6v8.40h-12.6zM690.4 1495.85h12.6v4.20h-12.6zM703.0 1495.85h12.6v4.20h-12.6zM715.6 1487.45h12.6v8.40h-12.6zM728.2 1487.45h12.6v8.40h-12.6zM728.2 1512.65h12.6v8.40h-12.6zM740.8 1487.45h12.6v8.40h-12.6zM740.8 1495.85h12.6v4.20h-12.6zM740.8 1500.05h12.6v8.40h-12.6zM740.8 1508.45h12.6v4.20h-12.6z"/>
<path fill="#0024ff" d="M488.8 1613.45h12.6v8.40h-12.6zM514.0 1558.85h12.6v4.20h-12.6zM564.4 1537.85h12.6v8.40h-12.6zM602.2 1525.25h12.6v8.40h-12.6zM602.2 1575.65h12.6v8.40h-12.6zM640.0 1512.65h12.6v8.40h-12.6zM652.6 1508.45h12.6v4.20h-12.6zM677.8 1500.05h12.6v8.40h-12.6zM715.6 1495.85h12.6v4.20h-12.6zM715.6 1521.05h12.6v4.20h-12.6zM728.2 1495.85h12.6v4.20h-12.6zM728.2 1500.05h12.6v8.40h-12.6zM728.2 1508.45h12.6v4.20h-12.6z"/>
<path fill="#0037ff" d="M451.0 1621.85h12.6v4.20h-12.6zM463.6 1575.65h12.6v8.40h-12.6zM501.4 1563.05h12.6v8.40h-12.6zM539.2 1596.65h12.6v4.20h-12.6zM551.8 1546.25h12.6v4.20h-12.6zM577.0 1584.05h12.6v4.20h-12.6zM614.8 1571.45h12.6v4.20h-12.6zM627.4 1521.05h12.6v4.20h-12.6zM665.2 1508.45h12.6v4.20h-12.6zM690.4 1500.05h12.6v8.40h-12.6zM690.4 1533.65h12.6v4.20h-12.6zM703.0 1500.05h12.6v8.40h-12.6zM703.0 1525.25h12.6v8.40h-12.6zM715.6 1500.05h12.6v8.40h-12.6zM715.6 1508.45h12.6v4.20h-12.6zM715.6 1512.65h12.6v8.40h-12.6z"/>
<path fill="#0049ff" d="M314.0 1647.05h11.0v4.20h-11.0zM350.2 1613.45h12.6v8.40h-12.6zM350.2 1638.65h12.6v8.40h-12.6zM425.8 1588.25h12.6v8.40h-12.6zM488.8 1571.45h12.6v4.20h-12.6zM501.4 1609.25h12.6v4.20h-12.6zM589.6 1533.65h12.6v4.20h-12.6zM614.8 1525.25h12.6v8.40h-12.6zM627.4 1563.05h12.6v8.40h-12.6zM640.0 1558.85h12.6v4.20h-12.6zM652.6 1512.65h12.6v8.40h-12.6zM652.6 1550.45h12.6v8.40h-12.6zM665.2 1546.25h12.6v4.20h-12.6zM677.8 1508.45h12.6v4.20h-12.6zM677.8 1537.85h12.6v8.40h-12.6zM690.4 1508.45h12.6v4.20h-12.6zM703.0 1508.45h12.6v4.20h-12.6zM703.0 1512.65h12.6v8.40h-12.6zM703.0 1521.05h12.6v4.20h-12.6z"/>
<path fill="#005bff" d="M375.4 1634.45h12.6v4.20h-12.6zM388.0 1600.85h12.6v8.40h-12.6zM413.2 1626.05h12.6v8.40h-12.6zM451.0 1584.05h12.6v4.20h-12.6zM539.2 1550.45h12.6v8.40h-12.6zM577.0 1537.85h12.6v8.40h-12.6zM640.0 1521.05h12.6v4.20h-12.6zM665.2 1512.65h12.6v8.40h-12.6zM677.8 1512.65h12.6v8.40h-12.6zM690.4 1512.65h12.6v8.40h-12.6zM690.4 1525.25h12.6v8.40h-12.6z"/>
<path fill="#006dff" d="M526.6 1558.85h12.6v4.20h-12.6zM551.8 1588.25h12.6v8.40h-12.6zM589.6 1575.65h12.6v8.40h-12.6zM602.2 1533.65h12.6v4.20h-12.6zM627.4 1525.25h12.6v8.40h-12.6zM652.6 1521.05h12.6v4.20h-12.6zM677.8 1521.05h12.6v4.20h-12.6zM677.8 1533.65h12.6v4.20h-12.6zM690.4 1521.05h12.6v4.20h-12.6z"/>
<path fill="#0080ff" d="M337.6 1621.85h12.6v4.20h-12.6zM476.2 1575.65h12.6v8.40h-12.6zM476.2 1613.45h12.6v8.40h-12.6zM514.0 1563.05h12.6v8.40h-12.6zM564.4 1546.25h12.6v4.20h-12.6zM665.2 1521.05h12.6v4.20h-12.6zM665.2 1537.85h12.6v8.40h-12.6zM677.8 1525.25h12.6v8.40h-12.6z"/>
<path fill="#0092ff" d="M413.2 1596.65h12.6v4.20h-12.6zM438.4 1621.85h12.6v4.20h-12.6zM514.0 1600.85h12.6v8.40h-12.6zM551.8 1550.45h12.6v8.40h-12.6zM589.6 1537.85h12.6v8.40h-12.6zM602.2 1571.45h12.6v4.20h-12.6zM614.8 1533.65h12.6v4.20h-12.6zM640.0 1525.25h12.6v8.40h-12.6zM640.0 1550.45h12.6v8.40h-12.6zM652.6 1525.25h12.6v8.40h-12.6zM652.6 1546.25h12.6v4.20h-12.6zM665.2 1525.25h12.6v8.40h-12.6zM665.2 1533.65h12.6v4.20h-12.6z"/>
<path fill="#00a4ff" d="M375.4 1609.25h12.6v4.20h-12.6zM501.4 1571.45h12.6v4.20h-12.6zM564.4 1584.05h12.6v4.20h-12.6zM577.0 1546.25h12.6v4.20h-12.6zM614.8 1563.05h12.6v8.40h-12.6zM627.4 1533.65h12.6v4.20h-12.6zM627.4 1558.85h12.6v4.20h-12.6zM652.6 1533.65h12.6v4.20h-12.6z"/>
<path fill="#00b6ff" d="M400.6 1626.05h12.6v8.40h-12.6zM463.6 1584.05h12.6v4.20h-12.6zM539.2 1558.85h12.6v4.20h-12.6zM602.2 1537.85h12.6v8.40h-12.6zM640.0 1533.65h12.6v4.20h-12.6zM652.6 1537.85h12.6v8.40h-12.6z"/>
<path fill="#00c8ff" d="M337.6 1638.65h12.6v8.40h-12.6zM438.4 1588.25h12.6v8.40h-12.6zM488.8 1575.65h12.6v8.40h-12.6zM526.6 1596.65h12.6v4.20h-12.6zM614.8 1537.85h12.6v8.40h-12.6zM627.4 1537.85h12.6v8.40h-12.6zM640.0 1537.85h12.6v8.40h-12.6zM640.0 1546.25h12.6v4.20h-12.6z"/>
<path fill="#00dbff" d="M463.6 1613.45h12.6v8.40h-12.6zM526.6 1563.05h12.6v8.40h-12.6zM564.4 1550.45h12.6v8.40h-12.6zM577.0 1575.65h12.6v8.40h-12.6zM589.6 1546.25h12.6v4.20h-12.6zM627.4 1550.45h12.6v8.40h-12.6z"/>
<path fill="#06edf1" d="M362.8 1634.45h12.6v4.20h-12.6zM488.8 1609.25h12.6v4.20h-12.6zM589.6 1571.45h12.6v4.20h-12.6zM602.2 1546.25h12.6v4.20h-12.6zM614.8 1546.25h12.6v4.20h-12.6zM627.4 1546.25h12.6v4.20h-12.6z"/>
<path fill="#15ffe2" d="M325.0 1630.25h12.6v4.20h-12.6zM514.0 1571.45h12.6v4.20h-12.6zM539.2 1588.25h12.6v8.40h-12.6zM551.8 1558.85h12.6v4.20h-12.6zM577.0 1550.45h12.6v8.40h-12.6zM602.2 1563.05h12.6v8.40h-12.6zM614.8 1550.45h12.6v8.40h-12.6zM614.8 1558.85h12.6v4.20h-12.6z"/>
<path fill="#23ffd4" d="M400.6 1600.85h12.6v8.40h-12.6zM425.8 1621.85h12.6v4.20h-12.6zM476.2 1584.05h12.6v4.20h-12.6zM589.6 1550.45h12.6v8.40h-12.6zM602.2 1550.45h12.6v8.40h-12.6z"/>
<path fill="#32ffc5" d="M539.2 1563.05h12.6v8.40h-12.6zM551.8 1584.05h12.6v4.20h-12.6zM564.4 1558.85h12.6v4.20h-12.6zM602.2 1558.85h12.6v4.20h-12.6z"/>
<path fill="#41ffb6" d="M314.0 1634.45h11.0v4.20h-11.0zM388.0 1626.05h12.6v8.40h-12.6zM425.8 1596.65h12.6v4.20h-12.6zM451.0 1588.25h12.6v8.40h-12.6zM501.4 1575.65h12.6v8.40h-12.6zM501.4 1600.85h12.6v8.40h-12.6zM589.6 1558.85h12.6v4.20h-12.6z"/>
<path fill="#4fffa7" d="M325.0 1638.65h12.6v8.40h-12.6zM362.8 1613.45h12.6v8.40h-12.6zM526.6 1571.45h12.6v4.20h-12.6zM564.4 1575.65h12.6v8.40h-12.6zM577.0 1558.85h12.6v4.20h-12.6zM577.0 1571.45h12.6v4.20h-12.6zM589.6 1563.05h12.6v8.40h-12.6z"/>
<path fill="#5eff99" d="M451.0 1613.45h12.6v8.40h-12.6zM514.0 1596.65h12.6v4.20h-12.6zM551.8 1563.05h12.6v8.40h-12.6z"/>
<path fill="#6dff8a" d="M488.8 1584.05h12.6v4.20h-12.6zM564.4 1563.05h12.6v8.40h-12.6zM577.0 1563.05h12.6v8.40h-12.6z"/>
<path fill="#7bff7b" d="M314.0 1638.65h11.0v8.40h-11.0zM476.2 1609.25h12.6v4.20h-12.6zM514.0 1575.65h12.6v8.40h-12.6zM539.2 1571.45h12.6v4.20h-12.6zM564.4 1571.45h12.6v4.20h-12.6z"/>
<path fill="#8aff6d" d="M463.6 1588.25h12.6v8.40h-12.6zM526.6 1588.25h12.6v8.40h-12.6zM551.8 1571.45h12.6v4.20h-12.6z"/>
<path fill="#99ff5e" d="M350.2 1621.85h12.6v4.20h-12.6zM350.2 1634.45h12.6v4.20h-12.6zM388.0 1609.25h12.6v4.20h-12.6zM413.2 1621.85h12.6v4.20h-12.6zM539.2 1584.05h12.6v4.20h-12.6zM551.8 1575.65h12.6v8.40h-12.6z"/>
<path fill="#a7ff4f" d="M438.4 1596.65h12.6v4.20h-12.6zM501.4 1584.05h12.6v4.20h-12.6zM526.6 1575.65h12.6v8.40h-12.6z"/>
<path fill="#a90000" d="M400.6 1613.45h12.6v8.40h-12.6z"/>
<path fill="#b6ff41" d="M539.2 1575.65h12.6v8.40h-12.6z"/>
<path fill="#be0000" d="M375.4 1621.85h12.6v4.20h-12.6z"/>
<path fill="#c5ff32" d="M476.2 1588.25h12.6v8.40h-12.6zM488.8 1600.85h12.6v8.40h-12.6zM514.0 1584.05h12.6v4.20h-12.6zM526.6 1584.05h12.6v4.20h-12.6z"/>
<path fill="#d20000" d="M413.2 1613.45h12.6v8.40h-12.6zM425.8 1609.25h12.6v4.20h-12.6z"/>
<path fill="#d4ff23" d="M413.2 1600.85h12.6v8.40h-12.6zM438.4 1613.45h12.6v8.40h-12.6zM514.0 1588.25h12.6v8.40h-12.6z"/>
<path fill="#e2ff15" d="M325.0 1634.45h12.6v4.20h-12.6zM463.6 1609.25h12.6v4.20h-12.6zM488.8 1588.25h12.6v8.40h-12.6zM501.4 1596.65h12.6v4.20h-12.6z"/>
<path fill="#e70000" d="M388.0 1613.45h12.6v8.40h-12.6zM413.2 1609.25h12.6v4.20h-12.6z"/>
<path fill="#f1fc06" d="M337.6 1626.05h12.6v8.40h-12.6zM375.4 1626.05h12.6v8.40h-12.6zM451.0 1596.65h12.6v4.20h-12.6zM501.4 1588.25h12.6v8.40h-12.6z"/>
<path fill="#ff3200" d="M438.4 1609.25h12.6v4.20h-12.6z"/>
<path fill="#ff4300" d="M388.0 1621.85h12.6v4.20h-12.6z"/>
<path fill="#ff5400" d="M350.2 1626.05h12.6v8.40h-12.6zM362.8 1621.85h12.6v4.20h-12.6z"/>
<path fill="#ff6500" d="M362.8 1626.05h12.6v8.40h-12.6zM438.4 1600.85h12.6v8.40h-12.6zM451.0 1600.85h12.6v8.40h-12.6z"/>
<path fill="#ff7500" d="M425.8 1613.45h12.6v8.40h-12.6zM463.6 1600.85h12.6v8.40h-12.6z"/>
<path fill="#ff9700" d="M400.6 1609.25h12.6v4.20h-12.6zM451.0 1609.25h12.6v4.20h-12.6z"/>
<path fill="#ffa800" d="M375.4 1613.45h12.6v8.40h-12.6zM425.8 1600.85h12.6v8.40h-12.6z"/>
<path fill="#ffb900" d="M476.2 1596.65h12.6v4.20h-12.6zM476.2 1600.85h12.6v8.40h-12.6z"/>
<path fill="#ffca00" d="M400.6 1621.85h12.6v4.20h-12.6zM463.6 1596.65h12.6v4.20h-12.6zM488.8 1596.65h12.6v4.20h-12.6z"/>
<path fill="#ffeb00" d="M337.6 1634.45h12.6v4.20h-12.6z"/>
</g>
<g stroke="#3a3a3a" stroke-opacity="0.54" stroke-width="4.2" stroke-dasharray="4.2 4.6" fill="none">
<path d="M619.5 1683.3 V925.0"/>
<path d="M927.8 1683.3 V925.0"/>
<path d="M1232.3 1683.3 V925.0"/>
<path d="M1541.6 1683.3 V925.0"/>
<path d="M1846.7 1683.3 V925.0"/>
<path d="M314.0 1654.0 H2155.8"/>
<path d="M314.0 1518.8 H2155.8"/>
<path d="M314.0 1383.5 H2155.8"/>
<path d="M314.0 1248.2 H2155.8"/>
<path d="M314.0 1113.0 H2155.8"/>
<path d="M314.0 977.8 H2155.8"/>
</g>
<g clip-path="url(#cp1)" fill="none" stroke-width="4.4">
<path d="M314.0 1662.9 L329.2 1656.6 L344.4 1650.3 L359.5 1643.9 L374.7 1637.6 L389.9 1631.3 L405.1 1624.9 L420.2 1618.6 L435.4 1612.3 L450.6 1605.9 L465.8 1599.6 L481.0 1593.3 L496.1 1586.9 L511.3 1580.6 L526.5 1574.2 L541.7 1567.9 L556.8 1561.6 L572.0 1555.2 L587.2 1548.9 L602.4 1542.6 L617.6 1536.2 L632.7 1529.9 L647.9 1523.6 L663.1 1517.2 L678.3 1510.9 L693.4 1504.6 L708.6 1498.2 L723.8 1491.9 L739.0 1485.6 L754.2 1479.2 L769.3 1472.9 L784.5 1466.6 L799.7 1460.2 L814.9 1453.9 L830.0 1447.6 L845.2 1441.2 L860.4 1434.9 L875.6 1428.6 L890.7 1422.2 L905.9 1415.9 L921.1 1409.6 L936.3 1403.2 L951.5 1396.9 L966.6 1390.6 L981.8 1384.2 L997.0 1377.9 L1012.2 1371.6 L1027.3 1365.2 L1042.5 1358.9 L1057.7 1352.5 L1072.9 1346.2 L1088.1 1339.9 L1103.2 1333.5 L1118.4 1327.2 L1133.6 1320.9 L1148.8 1314.5 L1163.9 1308.2 L1179.1 1301.9 L1194.3 1295.5 L1209.5 1289.2 L1224.7 1282.9 L1239.8 1276.5 L1255.0 1270.2 L1270.2 1263.9 L1285.4 1257.5 L1300.5 1251.2 L1315.7 1244.9 L1330.9 1238.5 L1346.1 1232.2 L1361.3 1225.9 L1376.4 1219.5 L1391.6 1213.2 L1406.8 1206.9 L1422.0 1200.5 L1437.1 1194.2 L1452.3 1187.9 L1467.5 1181.5 L1482.7 1175.2 L1497.9 1168.9 L1513.0 1162.5 L1528.2 1156.2 L1543.4 1149.9 L1558.6 1143.5 L1573.7 1137.2 L1588.9 1130.9 L1604.1 1124.5 L1619.3 1118.2 L1634.5 1111.8 L1649.6 1105.5 L1664.8 1099.2 L1680.0 1092.8 L1695.2 1086.5 L1710.3 1080.2 L1725.5 1073.8 L1740.7 1067.5 L1755.9 1061.2 L1771.0 1054.8 L1786.2 1048.5 L1801.4 1042.2 L1816.6 1035.8 L1831.8 1029.5 L1846.9 1023.2 L1862.1 1016.8 L1877.3 1010.5 L1892.5 1004.2 L1907.6 997.8 L1922.8 991.5 L1938.0 985.2 L1953.2 978.8 L1968.4 972.5 L1983.5 966.2" stroke="#ff0000" stroke-dasharray="17.5 7.9"/>
<path d="M314.0 1653.4 L329.2 1647.6 L344.4 1641.9 L359.5 1636.2 L374.7 1630.4 L389.9 1624.6 L405.1 1618.7 L420.2 1612.8 L435.4 1606.9 L450.6 1601.0 L465.8 1595.1 L481.0 1589.1 L496.1 1583.1 L511.3 1577.0 L526.5 1571.0 L541.7 1564.9 L556.8 1558.8 L572.0 1552.6 L587.2 1546.4 L602.4 1540.2 L617.6 1534.0 L632.7 1527.7 L647.9 1521.5 L663.1 1515.1 L678.3 1508.8 L693.4 1502.4 L708.6 1496.0 L723.8 1489.6 L739.0 1483.2 L754.2 1476.7 L769.3 1470.2 L784.5 1463.6 L799.7 1457.1 L814.9 1450.5 L830.0 1443.8 L845.2 1437.2 L860.4 1430.5 L875.6 1423.8 L890.7 1417.1 L905.9 1410.3 L921.1 1403.5 L936.3 1396.7 L951.5 1389.9 L966.6 1383.0 L981.8 1376.1 L997.0 1369.2 L1012.2 1362.2 L1027.3 1355.3 L1042.5 1348.3 L1057.7 1341.2 L1072.9 1334.2 L1088.1 1327.1 L1103.2 1319.9 L1118.4 1312.8 L1133.6 1305.6 L1148.8 1298.4 L1163.9 1291.2 L1179.1 1283.9 L1194.3 1276.6 L1209.5 1269.3 L1224.7 1262.0 L1239.8 1254.6 L1255.0 1247.2 L1270.2 1239.8 L1285.4 1232.3 L1300.5 1224.9 L1315.7 1217.3 L1330.9 1209.8 L1346.1 1202.2 L1361.3 1194.7 L1376.4 1187.0 L1391.6 1179.4 L1406.8 1171.7 L1422.0 1164.0 L1437.1 1156.3 L1452.3 1148.5 L1467.5 1140.7 L1482.7 1132.9 L1497.9 1125.1 L1513.0 1117.2 L1528.2 1109.3 L1543.4 1101.4 L1558.6 1093.4 L1573.7 1085.4 L1588.9 1077.4 L1604.1 1069.4 L1619.3 1061.3 L1634.5 1053.2 L1649.6 1045.1 L1664.8 1037.0 L1680.0 1028.8 L1695.2 1020.6 L1710.3 1012.4 L1725.5 1004.1 L1740.7 995.8 L1755.9 987.5 L1771.0 979.2 L1786.2 970.8 L1801.4 962.4 L1816.6 954.0 L1831.8 945.5 L1846.9 937.0 L1862.1 928.5 L1877.3 920.0 L1892.5 911.4 L1907.6 902.8 L1922.8 894.2 L1938.0 885.6 L1953.2 876.9 L1968.4 868.2 L1983.5 859.5" stroke="#ff00ff"/>
<path d="M314.0 1646.6 L329.2 1642.7 L344.4 1638.6 L359.5 1634.3 L374.7 1630.0 L389.9 1625.4 L405.1 1620.8 L420.2 1616.0 L435.4 1611.1 L450.6 1606.0 L465.8 1600.9 L481.0 1595.6 L496.1 1590.2 L511.3 1584.7 L526.5 1579.1 L541.7 1573.3 L556.8 1567.5 L572.0 1561.6 L587.2 1555.6 L602.4 1549.5 L617.6 1543.3 L632.7 1537.0 L647.9 1530.6 L663.1 1524.2 L678.3 1517.7 L693.4 1511.1 L708.6 1504.4 L723.8 1497.7 L739.0 1490.9 L754.2 1484.1 L769.3 1477.2 L784.5 1470.3 L799.7 1463.3 L814.9 1456.3 L830.0 1449.2 L845.2 1442.1 L860.4 1434.9 L875.6 1427.8 L890.7 1420.6 L905.9 1413.4 L921.1 1406.1 L936.3 1398.9 L951.5 1391.6 L966.6 1384.4 L981.8 1377.1 L997.0 1369.8 L1012.2 1362.5 L1027.3 1355.2 L1042.5 1348.0 L1057.7 1340.7 L1072.9 1333.5 L1088.1 1326.3 L1103.2 1319.1 L1118.4 1311.9 L1133.6 1304.8 L1148.8 1297.7 L1163.9 1290.6 L1179.1 1283.5 L1194.3 1276.6 L1209.5 1269.6 L1224.7 1262.7 L1239.8 1255.9 L1255.0 1249.1 L1270.2 1242.3 L1285.4 1235.7 L1300.5 1229.1 L1315.7 1222.6 L1330.9 1216.1 L1346.1 1209.7 L1361.3 1203.4 L1376.4 1197.2 L1391.6 1191.1 L1406.8 1185.0 L1422.0 1179.1 L1437.1 1173.3 L1452.3 1167.5 L1467.5 1161.9 L1482.7 1156.3 L1497.9 1150.9 L1513.0 1145.6 L1528.2 1140.4 L1543.4 1135.4 L1558.6 1130.4 L1573.7 1125.6 L1588.9 1120.9 L1604.1 1116.4 L1619.3 1112.0 L1634.5 1107.7 L1649.6 1103.6 L1664.8 1099.6 L1680.0 1095.8 L1695.2 1092.1 L1710.3 1088.6 L1725.5 1085.3 L1740.7 1082.1 L1755.9 1079.1 L1771.0 1076.3 L1786.2 1073.6 L1801.4 1071.1 L1816.6 1068.8 L1831.8 1066.7 L1846.9 1064.8 L1862.1 1063.1 L1877.3 1061.6 L1892.5 1060.2 L1907.6 1059.1 L1922.8 1058.2 L1938.0 1057.5 L1953.2 1057.0 L1968.4 1056.7 L1983.5 1056.7" stroke="#00ff00" stroke-dasharray="30 7.5 6 7.5"/>
</g>
<rect x="314.0" y="925.0" width="1841.8" height="758.3" fill="none" stroke="#000" stroke-width="4.4"/>
<g stroke="#000" stroke-width="4.4">
<path d="M314.0 1683.3 v21"/>
<path d="M619.5 1683.3 v21"/>
<path d="M927.8 1683.3 v21"/>
<path d="M1232.3 1683.3 v21"/>
<path d="M1541.6 1683.3 v21"/>
<path d="M1846.7 1683.3 v21"/>
<path d="M2155.4 1683.3 v21"/>
<path d="M314.0 1654.0 h-22"/>
<path d="M314.0 1518.8 h-22"/>
<path d="M314.0 1383.5 h-22"/>
<path d="M314.0 1248.2 h-22"/>
<path d="M314.0 1113.0 h-22"/>
<path d="M314.0 977.8 h-22"/>
</g>
<g font-size="57">
<text x="314.0" y="1769.8" text-anchor="middle">0</text>
<text x="617.5" y="1769.8" text-anchor="middle">100</text>
<text x="925.8" y="1769.8" text-anchor="middle">200</text>
<text x="1229.7" y="1769.8" text-anchor="middle">300</text>
<text x="1539.6" y="1769.8" text-anchor="middle">400</text>
<text x="1843.7" y="1769.8" text-anchor="middle">500</text>
<text x="2153.4" y="1769.8" text-anchor="middle">600</text>
<text x="271" y="1681.5" text-anchor="end">0</text>
<text x="271" y="1546.2" text-anchor="end">50</text>
<text x="271" y="1411.0" text-anchor="end">100</text>
<text x="271" y="1275.8" text-anchor="end">150</text>
<text x="271" y="1140.5" text-anchor="end">200</text>
<text x="271" y="1005.2" text-anchor="end">250</text>
</g>
<text font-size="59.5" text-anchor="middle" textLength="290" transform="translate(122 1308.7) rotate(-90)">SWE (cm)</text>
<text font-size="65.5" x="339.5" y="1019.7">(Pmelt)</text>
<g transform="translate(0 871.4)">
<rect x="1857" y="499" width="282" height="298" rx="9" fill="#909090"/>
<rect x="1847" y="490" width="281" height="296" rx="9" fill="#f4f4f4" stroke="#d0d0d0" stroke-width="4.2"/>
<path d="M1857 499 H2126 V775 a9 9 0 0 1 -9 9 H1857 Z" fill="#ebebeb"/>
<g fill="none" stroke-width="4.6">
<path d="M1866 545 H1976" stroke="#ff0000" stroke-dasharray="21 4.3"/>
<path d="M1866 637.5 H1976" stroke="#ff00ff"/>
<path d="M1866 730.5 H1976" stroke="#00ff00" stroke-dasharray="33 5 8 5"/>
</g>
<text font-size="53" x="2017" y="559.0">1<tspan font-size="37" font-style="italic" dy="-22">st</tspan></text>
<text font-size="53" x="2017" y="651.9">2<tspan font-size="37" font-style="italic" dy="-22">nd</tspan></text>
<text font-size="53" x="2017" y="744.8">3<tspan font-size="37" font-style="italic" dy="-22">rd</tspan></text>
</g>
<text font-size="59.5" x="1231.5" y="1853.5" text-anchor="middle" textLength="508.5">Snow depth (cm)</text>
</g></svg>
</body></html>
